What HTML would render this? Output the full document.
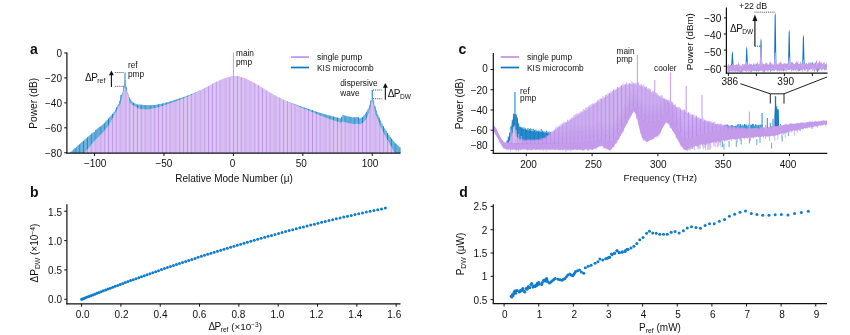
<!DOCTYPE html>
<html><head><meta charset="utf-8"><title>Figure</title>
<style>html,body{margin:0;padding:0;background:#fff;}svg{display:block;will-change:transform;opacity:0.999}text{font-family:"Liberation Sans",sans-serif;fill:#111}</style>
</head><body>
<svg width="850" height="335" viewBox="0 0 850 335">
<rect width="850" height="335" fill="#fff"/>
<g id="pa">
<polygon points="67.5,153 67.5,153.00 68.0,153.00 68.5,153.00 69.0,153.00 69.5,153.00 70.0,152.65 70.5,152.21 71.0,151.77 71.5,151.33 72.0,150.89 72.5,150.45 73.0,150.01 73.5,149.57 74.0,149.13 74.5,148.69 75.0,148.25 75.5,147.81 76.0,147.37 76.5,146.93 77.0,146.49 77.5,146.05 78.0,145.61 78.5,145.17 79.0,144.73 79.5,144.29 80.0,143.85 80.5,143.41 81.0,142.98 81.5,142.54 82.0,142.10 82.5,141.67 83.0,141.23 83.5,140.79 84.0,140.35 84.5,139.92 85.0,139.48 85.5,139.04 86.0,138.61 86.5,138.17 87.0,137.73 87.5,137.29 88.0,136.86 88.5,136.42 89.0,135.98 89.5,135.55 90.0,135.11 90.5,134.67 91.0,134.23 91.5,133.80 92.0,133.36 92.5,132.92 93.0,132.49 93.5,132.05 94.0,132.07 94.5,132.12 95.0,130.36 95.5,129.99 96.0,129.63 96.5,129.27 97.0,128.91 97.5,128.55 98.0,128.18 98.5,127.82 99.0,127.46 99.5,127.10 100.0,126.74 100.5,126.38 101.0,126.01 101.5,125.65 102.0,125.29 102.5,124.90 103.0,124.40 103.5,123.90 104.0,123.40 104.5,122.90 105.0,122.38 105.5,121.81 106.0,121.25 106.5,120.69 107.0,120.13 107.5,119.57 108.0,119.01 108.5,118.45 109.0,117.89 109.5,117.33 110.0,116.76 110.5,116.20 111.0,115.64 111.5,115.08 112.0,114.52 112.5,113.96 113.0,113.40 113.5,112.84 114.0,112.13 114.5,111.22 115.0,110.30 115.5,109.38 116.0,108.47 116.5,107.55 117.0,106.63 117.5,105.72 118.0,104.80 118.5,103.88 119.0,102.97 119.5,101.26 120.0,99.02 120.5,96.79 121.0,94.89 121.5,94.31 122.0,93.74 122.5,92.33 123.0,89.67 123.5,87.00 124.0,84.67 124.5,82.33 125.0,80.00 125.5,82.33 126.0,84.67 126.5,87.00 127.0,90.00 127.5,92.11 128.0,93.64 128.5,95.16 129.0,96.68 129.5,98.03 130.0,98.69 130.5,99.36 131.0,100.02 131.5,100.68 132.0,101.34 132.5,102.00 133.0,102.50 133.5,102.74 134.0,102.99 134.5,103.23 135.0,103.48 135.5,103.72 136.0,103.96 136.5,104.21 137.0,104.45 137.5,104.60 138.0,104.60 138.5,104.60 139.0,104.60 139.5,104.60 140.0,104.60 140.5,104.65 141.0,104.69 141.5,104.74 142.0,104.79 142.5,104.83 143.0,104.88 143.5,104.93 144.0,104.97 144.5,105.02 145.0,105.07 145.5,105.11 146.0,105.16 146.5,105.21 147.0,105.25 147.5,105.30 148.0,105.28 148.5,105.26 149.0,105.24 149.5,105.22 150.0,105.20 150.5,105.18 151.0,105.16 151.5,105.14 152.0,105.12 152.5,105.10 153.0,105.08 153.5,105.06 154.0,105.04 154.5,105.02 155.0,104.98 155.5,104.88 156.0,104.78 156.5,104.68 157.0,104.58 157.5,104.48 158.0,104.38 158.5,104.28 159.0,104.18 159.5,104.08 160.0,103.98 160.5,103.88 161.0,103.78 161.5,103.68 162.0,103.58 162.5,103.47 163.0,103.35 163.5,103.22 164.0,103.09 164.5,102.97 165.0,102.84 165.5,102.71 166.0,102.59 166.5,102.46 167.0,102.33 167.5,102.21 168.0,102.08 168.5,101.95 169.0,101.83 169.5,101.70 170.0,101.57 170.5,101.40 171.0,101.23 171.5,101.07 172.0,100.90 172.5,100.73 173.0,100.57 173.5,100.40 174.0,100.23 174.5,100.07 175.0,99.90 175.5,99.73 176.0,99.57 176.5,99.40 177.0,99.23 177.5,99.07 178.0,98.91 178.5,98.74 179.0,98.58 179.5,98.42 180.0,98.26 180.5,98.09 181.0,97.93 181.5,97.77 182.0,97.61 182.5,97.45 183.0,97.28 183.5,97.12 184.0,96.96 184.5,96.80 185.0,96.62 185.5,96.43 186.0,96.24 186.5,96.04 187.0,95.85 187.5,95.66 188.0,95.46 188.5,95.27 189.0,95.08 189.5,94.88 190.0,94.69 190.5,94.50 191.0,94.30 191.5,94.11 192.0,93.92 192.5,93.72 193.0,93.52 193.5,93.32 194.0,93.12 194.5,92.92 195.0,92.72 195.5,92.52 196.0,92.32 196.5,92.12 197.0,91.91 197.5,91.70 198.0,91.48 198.5,91.26 199.0,91.05 199.5,90.83 200.0,90.61 200.5,90.39 201.0,90.17 201.5,89.95 202.0,89.73 202.5,89.51 203.0,89.29 203.5,89.07 204.0,88.85 204.5,88.63 205.0,88.41 205.5,88.19 206.0,87.97 206.5,87.75 207.0,87.53 207.5,87.31 208.0,87.09 208.5,86.87 209.0,86.65 209.5,86.43 210.0,86.21 210.5,85.99 211.0,85.77 211.5,85.55 212.0,85.33 212.5,85.11 213.0,84.89 213.5,84.67 214.0,84.45 214.5,84.23 215.0,84.00 215.5,83.78 216.0,83.56 216.5,83.34 217.0,83.12 217.5,82.90 218.0,82.68 218.5,82.46 219.0,82.24 219.5,82.02 220.0,81.80 220.5,81.58 221.0,81.36 221.5,81.14 222.0,80.92 222.5,80.70 223.0,80.48 223.5,80.26 224.0,80.04 224.5,79.82 225.0,79.60 225.5,79.38 226.0,79.16 226.5,78.94 227.0,78.72 227.5,78.50 228.0,78.28 228.5,78.06 229.0,77.84 229.5,77.62 230.0,77.40 230.5,77.18 231.0,76.96 231.5,76.74 232.0,76.52 232.5,76.30 233.0,76.08 233.5,75.95 234.0,76.19 234.5,76.43 235.0,76.67 235.5,76.91 236.0,77.15 236.5,77.39 237.0,77.63 237.5,77.87 238.0,78.11 238.5,78.35 239.0,78.59 239.5,78.83 240.0,79.07 240.5,79.31 241.0,79.55 241.5,79.79 242.0,80.03 242.5,80.27 243.0,80.51 243.5,80.75 244.0,80.99 244.5,81.23 245.0,81.47 245.5,81.71 246.0,81.95 246.5,82.20 247.0,82.44 247.5,82.68 248.0,82.92 248.5,83.16 249.0,83.40 249.5,83.64 250.0,83.88 250.5,84.12 251.0,84.36 251.5,84.60 252.0,84.84 252.5,85.08 253.0,85.32 253.5,85.56 254.0,85.80 254.5,86.04 255.0,86.28 255.5,86.52 256.0,86.76 256.5,87.00 257.0,87.24 257.5,87.48 258.0,87.72 258.5,87.96 259.0,88.20 259.5,88.44 260.0,88.68 260.5,88.92 261.0,89.16 261.5,89.40 262.0,89.64 262.5,89.88 263.0,90.12 263.5,90.36 264.0,90.60 264.5,90.84 265.0,91.09 265.5,91.33 266.0,91.57 266.5,91.81 267.0,92.05 267.5,92.29 268.0,92.53 268.5,92.77 269.0,93.01 269.5,93.25 270.0,93.49 270.5,93.73 271.0,93.97 271.5,94.21 272.0,94.45 272.5,94.69 273.0,94.93 273.5,95.17 274.0,95.41 274.5,95.65 275.0,95.89 275.5,96.13 276.0,96.37 276.5,96.61 277.0,96.85 277.5,97.09 278.0,97.33 278.5,97.57 279.0,97.81 279.5,98.05 280.0,98.29 280.5,98.53 281.0,98.77 281.5,99.01 282.0,99.25 282.5,99.49 283.0,99.74 283.5,99.98 284.0,100.22 284.5,100.46 285.0,100.67 285.5,100.83 286.0,101.00 286.5,101.17 287.0,101.33 287.5,101.50 288.0,101.67 288.5,101.83 289.0,102.00 289.5,102.19 290.0,102.37 290.5,102.56 291.0,102.75 291.5,102.93 292.0,103.12 292.5,103.31 293.0,103.50 293.5,103.68 294.0,103.87 294.5,104.06 295.0,104.24 295.5,104.43 296.0,104.62 296.5,104.80 297.0,104.99 297.5,105.18 298.0,105.36 298.5,105.55 299.0,105.74 299.5,105.93 300.0,106.10 300.5,106.27 301.0,106.43 301.5,106.60 302.0,106.77 302.5,106.93 303.0,107.10 303.5,107.27 304.0,107.43 304.5,107.60 305.0,107.77 305.5,107.93 306.0,108.10 306.5,108.27 307.0,108.43 307.5,108.61 308.0,108.78 308.5,108.96 309.0,109.13 309.5,109.31 310.0,109.48 310.5,109.66 311.0,109.84 311.5,110.01 312.0,110.19 312.5,110.36 313.0,110.54 313.5,110.71 314.0,110.89 314.5,111.06 315.0,111.23 315.5,111.39 316.0,111.55 316.5,111.71 317.0,111.87 317.5,112.03 318.0,112.19 318.5,112.35 319.0,112.51 319.5,112.67 320.0,112.83 320.5,112.99 321.0,113.15 321.5,113.31 322.0,113.47 322.5,113.61 323.0,113.75 323.5,113.89 324.0,114.03 324.5,114.17 325.0,114.31 325.5,114.45 326.0,114.59 326.5,114.73 327.0,114.87 327.5,115.01 328.0,115.15 328.5,115.29 329.0,115.43 329.5,115.57 330.0,115.70 330.5,115.83 331.0,115.96 331.5,116.09 332.0,116.22 332.5,116.34 333.0,116.47 333.5,116.60 334.0,116.73 334.5,116.86 335.0,116.98 335.5,117.11 336.0,117.24 336.5,117.37 337.0,117.50 337.5,117.63 338.0,117.75 338.5,117.88 339.0,118.01 339.5,118.14 340.0,118.27 340.5,118.39 341.0,118.52 341.5,117.73 342.0,115.57 342.5,114.80 343.0,114.97 343.5,115.13 344.0,115.30 344.5,115.47 345.0,115.63 345.5,115.80 346.0,115.97 346.5,116.13 347.0,116.30 347.5,116.38 348.0,116.47 348.5,116.55 349.0,116.63 349.5,116.72 350.0,116.80 350.5,116.88 351.0,116.97 351.5,117.05 352.0,117.13 352.5,117.22 353.0,117.30 353.5,117.38 354.0,117.36 354.5,117.32 355.0,117.27 355.5,117.23 356.0,117.18 356.5,117.14 357.0,117.09 357.5,117.05 358.0,117.00 358.5,117.40 359.0,117.80 359.5,118.20 360.0,118.60 360.5,118.30 361.0,118.01 361.5,117.71 362.0,117.41 362.5,117.12 363.0,116.62 363.5,116.00 364.0,115.38 364.5,114.75 365.0,114.12 365.5,113.50 366.0,112.88 366.5,112.09 367.0,111.07 367.5,110.06 368.0,109.04 368.5,108.02 369.0,107.00 369.5,105.19 370.0,103.39 370.5,101.58 371.0,100.23 371.5,99.57 372.0,98.90 372.5,98.73 373.0,99.31 373.5,99.88 374.0,102.18 374.5,104.90 375.0,106.34 375.5,107.78 376.0,109.22 376.5,110.66 377.0,112.11 377.5,113.55 378.0,114.92 378.5,116.02 379.0,117.12 379.5,118.22 380.0,119.32 380.5,120.42 381.0,121.52 381.5,122.62 382.0,123.72 382.5,124.76 383.0,125.59 383.5,126.41 384.0,127.24 384.5,128.06 385.0,128.89 385.5,129.71 386.0,130.53 386.5,131.36 387.0,132.18 387.5,133.01 388.0,133.77 388.5,134.44 389.0,135.12 389.5,135.79 390.0,136.47 390.5,137.14 391.0,137.82 391.5,138.49 392.0,139.17 392.5,139.84 393.0,140.52 393.5,141.19 394.0,141.87 394.5,142.36 395.0,142.82 395.5,143.27 396.0,143.73 396.5,144.18 397.0,144.64 397.5,145.09 398.0,145.55 398.5,146.00 399.0,146.45 399.5,146.91 400.0,147.36 400.2,153" fill="#9fcfee" opacity="1"/>
<line x1="70.95" y1="153.00" x2="70.95" y2="151.82" stroke="#0a6fb6" stroke-width="0.85" />
<line x1="72.33" y1="153.00" x2="72.33" y2="150.59" stroke="#2386c8" stroke-width="0.62" />
<line x1="73.72" y1="153.00" x2="73.72" y2="149.37" stroke="#2386c8" stroke-width="0.62" />
<line x1="75.11" y1="153.00" x2="75.11" y2="148.15" stroke="#0a6fb6" stroke-width="0.85" />
<line x1="76.50" y1="153.00" x2="76.50" y2="146.93" stroke="#2386c8" stroke-width="0.62" />
<line x1="77.89" y1="153.00" x2="77.89" y2="145.71" stroke="#2386c8" stroke-width="0.62" />
<line x1="79.28" y1="153.00" x2="79.28" y2="144.48" stroke="#0a6fb6" stroke-width="0.85" />
<line x1="80.66" y1="153.00" x2="80.66" y2="143.27" stroke="#2386c8" stroke-width="0.62" />
<line x1="82.05" y1="153.00" x2="82.05" y2="142.06" stroke="#2386c8" stroke-width="0.62" />
<line x1="83.44" y1="153.00" x2="83.44" y2="140.84" stroke="#0a6fb6" stroke-width="0.85" />
<line x1="84.83" y1="153.00" x2="84.83" y2="139.63" stroke="#2386c8" stroke-width="0.62" />
<line x1="86.22" y1="153.00" x2="86.22" y2="138.41" stroke="#2386c8" stroke-width="0.62" />
<line x1="87.61" y1="153.00" x2="87.61" y2="137.20" stroke="#0a6fb6" stroke-width="0.85" />
<line x1="89.00" y1="153.00" x2="89.00" y2="135.99" stroke="#2386c8" stroke-width="0.62" />
<line x1="90.38" y1="153.00" x2="90.38" y2="134.77" stroke="#2386c8" stroke-width="0.62" />
<line x1="91.77" y1="153.00" x2="91.77" y2="133.56" stroke="#0a6fb6" stroke-width="0.85" />
<line x1="93.16" y1="153.00" x2="93.16" y2="132.35" stroke="#2386c8" stroke-width="0.62" />
<line x1="94.55" y1="153.00" x2="94.55" y2="131.85" stroke="#2386c8" stroke-width="0.62" />
<line x1="95.94" y1="153.00" x2="95.94" y2="129.68" stroke="#0a6fb6" stroke-width="0.85" />
<line x1="97.33" y1="153.00" x2="97.33" y2="128.67" stroke="#2386c8" stroke-width="0.62" />
<line x1="98.72" y1="153.00" x2="98.72" y2="127.67" stroke="#2386c8" stroke-width="0.62" />
<line x1="100.10" y1="153.00" x2="100.10" y2="126.66" stroke="#0a6fb6" stroke-width="0.85" />
<line x1="101.49" y1="153.00" x2="101.49" y2="125.66" stroke="#2386c8" stroke-width="0.62" />
<line x1="102.88" y1="153.00" x2="102.88" y2="124.52" stroke="#2386c8" stroke-width="0.62" />
<line x1="104.27" y1="153.00" x2="104.27" y2="123.13" stroke="#0a6fb6" stroke-width="0.85" />
<line x1="105.66" y1="153.00" x2="105.66" y2="121.64" stroke="#2386c8" stroke-width="0.62" />
<line x1="107.05" y1="153.00" x2="107.05" y2="120.08" stroke="#2386c8" stroke-width="0.62" />
<line x1="108.44" y1="153.00" x2="108.44" y2="118.52" stroke="#0a6fb6" stroke-width="0.85" />
<line x1="109.82" y1="153.00" x2="109.82" y2="116.96" stroke="#2386c8" stroke-width="0.62" />
<line x1="111.21" y1="153.00" x2="111.21" y2="115.40" stroke="#2386c8" stroke-width="0.62" />
<line x1="112.60" y1="153.00" x2="112.60" y2="113.85" stroke="#0a6fb6" stroke-width="0.85" />
<line x1="113.99" y1="153.00" x2="113.99" y2="112.15" stroke="#2386c8" stroke-width="0.62" />
<line x1="115.38" y1="153.00" x2="115.38" y2="109.61" stroke="#2386c8" stroke-width="0.62" />
<line x1="116.77" y1="153.00" x2="116.77" y2="107.06" stroke="#0a6fb6" stroke-width="0.85" />
<line x1="118.15" y1="153.00" x2="118.15" y2="104.52" stroke="#2386c8" stroke-width="0.62" />
<line x1="119.54" y1="153.00" x2="119.54" y2="101.07" stroke="#2386c8" stroke-width="0.62" />
<line x1="120.93" y1="153.00" x2="120.93" y2="94.96" stroke="#0a6fb6" stroke-width="0.85" />
<line x1="122.32" y1="153.00" x2="122.32" y2="93.29" stroke="#2386c8" stroke-width="0.62" />
<line x1="123.71" y1="153.00" x2="123.71" y2="86.03" stroke="#2386c8" stroke-width="0.62" />
<line x1="125.10" y1="153.00" x2="125.10" y2="80.45" stroke="#0a6fb6" stroke-width="0.85" />
<line x1="126.49" y1="153.00" x2="126.49" y2="86.93" stroke="#2386c8" stroke-width="0.62" />
<line x1="127.87" y1="153.00" x2="127.87" y2="93.25" stroke="#2386c8" stroke-width="0.62" />
<line x1="129.26" y1="153.00" x2="129.26" y2="97.48" stroke="#0a6fb6" stroke-width="0.85" />
<line x1="130.65" y1="153.00" x2="130.65" y2="99.56" stroke="#2386c8" stroke-width="0.62" />
<line x1="132.04" y1="153.00" x2="132.04" y2="101.39" stroke="#2386c8" stroke-width="0.62" />
<line x1="133.43" y1="153.00" x2="133.43" y2="102.71" stroke="#0a6fb6" stroke-width="0.85" />
<line x1="134.82" y1="153.00" x2="134.82" y2="103.39" stroke="#2386c8" stroke-width="0.62" />
<line x1="136.20" y1="153.00" x2="136.20" y2="104.06" stroke="#2386c8" stroke-width="0.62" />
<line x1="137.59" y1="153.00" x2="137.59" y2="104.60" stroke="#0a6fb6" stroke-width="0.85" />
<line x1="138.98" y1="153.00" x2="138.98" y2="104.60" stroke="#2386c8" stroke-width="0.62" />
<line x1="140.37" y1="153.00" x2="140.37" y2="104.63" stroke="#2386c8" stroke-width="0.62" />
<line x1="141.76" y1="153.00" x2="141.76" y2="104.76" stroke="#0a6fb6" stroke-width="0.85" />
<line x1="143.15" y1="153.00" x2="143.15" y2="104.89" stroke="#2386c8" stroke-width="0.62" />
<line x1="144.54" y1="153.00" x2="144.54" y2="105.02" stroke="#2386c8" stroke-width="0.62" />
<line x1="145.92" y1="153.00" x2="145.92" y2="105.15" stroke="#0a6fb6" stroke-width="0.85" />
<line x1="147.31" y1="153.00" x2="147.31" y2="105.28" stroke="#2386c8" stroke-width="0.62" />
<line x1="148.70" y1="153.00" x2="148.70" y2="105.25" stroke="#2386c8" stroke-width="0.62" />
<line x1="150.09" y1="153.00" x2="150.09" y2="105.19" stroke="#0a6fb6" stroke-width="0.85" />
<line x1="151.48" y1="153.00" x2="151.48" y2="105.14" stroke="#2386c8" stroke-width="0.62" />
<line x1="152.87" y1="153.00" x2="152.87" y2="105.08" stroke="#2386c8" stroke-width="0.62" />
<line x1="154.26" y1="153.00" x2="154.26" y2="105.03" stroke="#0a6fb6" stroke-width="0.85" />
<line x1="155.64" y1="153.00" x2="155.64" y2="104.85" stroke="#2386c8" stroke-width="0.62" />
<line x1="157.03" y1="153.00" x2="157.03" y2="104.57" stroke="#2386c8" stroke-width="0.62" />
<line x1="158.42" y1="153.00" x2="158.42" y2="104.30" stroke="#0a6fb6" stroke-width="0.85" />
<line x1="159.81" y1="153.00" x2="159.81" y2="104.02" stroke="#2386c8" stroke-width="0.62" />
<line x1="161.20" y1="153.00" x2="161.20" y2="103.74" stroke="#2386c8" stroke-width="0.62" />
<line x1="162.59" y1="153.00" x2="162.59" y2="103.45" stroke="#0a6fb6" stroke-width="0.85" />
<line x1="163.98" y1="153.00" x2="163.98" y2="103.10" stroke="#2386c8" stroke-width="0.62" />
<line x1="165.36" y1="153.00" x2="165.36" y2="102.75" stroke="#2386c8" stroke-width="0.62" />
<line x1="166.75" y1="153.00" x2="166.75" y2="102.40" stroke="#0a6fb6" stroke-width="0.85" />
<line x1="168.14" y1="153.00" x2="168.14" y2="102.05" stroke="#2386c8" stroke-width="0.62" />
<line x1="169.53" y1="153.00" x2="169.53" y2="101.69" stroke="#2386c8" stroke-width="0.62" />
<line x1="170.92" y1="153.00" x2="170.92" y2="101.26" stroke="#0a6fb6" stroke-width="0.85" />
<line x1="172.31" y1="153.00" x2="172.31" y2="100.80" stroke="#2386c8" stroke-width="0.62" />
<line x1="173.69" y1="153.00" x2="173.69" y2="100.34" stroke="#2386c8" stroke-width="0.62" />
<line x1="175.08" y1="153.00" x2="175.08" y2="99.87" stroke="#0a6fb6" stroke-width="0.85" />
<line x1="176.47" y1="153.00" x2="176.47" y2="99.41" stroke="#2386c8" stroke-width="0.62" />
<line x1="177.86" y1="153.00" x2="177.86" y2="98.95" stroke="#2386c8" stroke-width="0.62" />
<line x1="179.25" y1="153.00" x2="179.25" y2="98.50" stroke="#0a6fb6" stroke-width="0.85" />
<line x1="180.64" y1="153.00" x2="180.64" y2="98.05" stroke="#2386c8" stroke-width="0.62" />
<line x1="182.03" y1="153.00" x2="182.03" y2="97.60" stroke="#2386c8" stroke-width="0.62" />
<line x1="183.41" y1="153.00" x2="183.41" y2="97.15" stroke="#0a6fb6" stroke-width="0.85" />
<line x1="184.80" y1="153.00" x2="184.80" y2="96.70" stroke="#2386c8" stroke-width="0.62" />
<line x1="186.19" y1="153.00" x2="186.19" y2="96.16" stroke="#2386c8" stroke-width="0.62" />
<line x1="187.58" y1="153.00" x2="187.58" y2="95.63" stroke="#0a6fb6" stroke-width="0.85" />
<line x1="188.97" y1="153.00" x2="188.97" y2="95.09" stroke="#2386c8" stroke-width="0.62" />
<line x1="190.36" y1="153.00" x2="190.36" y2="94.55" stroke="#2386c8" stroke-width="0.62" />
<line x1="191.75" y1="153.00" x2="191.75" y2="94.01" stroke="#0a6fb6" stroke-width="0.85" />
<line x1="193.13" y1="153.00" x2="193.13" y2="93.47" stroke="#2386c8" stroke-width="0.62" />
<line x1="194.52" y1="153.00" x2="194.52" y2="92.91" stroke="#2386c8" stroke-width="0.62" />
<line x1="195.91" y1="153.00" x2="195.91" y2="92.36" stroke="#0a6fb6" stroke-width="0.85" />
<line x1="197.30" y1="153.00" x2="197.30" y2="91.78" stroke="#2386c8" stroke-width="0.62" />
<line x1="198.69" y1="153.00" x2="198.69" y2="91.18" stroke="#2386c8" stroke-width="0.62" />
<line x1="200.08" y1="153.00" x2="200.08" y2="90.58" stroke="#0a6fb6" stroke-width="0.85" />
<line x1="201.46" y1="153.00" x2="201.46" y2="89.97" stroke="#2386c8" stroke-width="0.62" />
<line x1="202.85" y1="153.00" x2="202.85" y2="89.36" stroke="#2386c8" stroke-width="0.62" />
<line x1="204.24" y1="153.00" x2="204.24" y2="88.74" stroke="#0a6fb6" stroke-width="0.85" />
<line x1="205.63" y1="153.00" x2="205.63" y2="88.13" stroke="#2386c8" stroke-width="0.62" />
<line x1="207.02" y1="153.00" x2="207.02" y2="87.52" stroke="#2386c8" stroke-width="0.62" />
<line x1="208.41" y1="153.00" x2="208.41" y2="86.91" stroke="#0a6fb6" stroke-width="0.85" />
<line x1="209.80" y1="153.00" x2="209.80" y2="86.30" stroke="#2386c8" stroke-width="0.62" />
<line x1="211.18" y1="153.00" x2="211.18" y2="85.69" stroke="#2386c8" stroke-width="0.62" />
<line x1="212.57" y1="153.00" x2="212.57" y2="85.07" stroke="#0a6fb6" stroke-width="0.85" />
<line x1="213.96" y1="153.00" x2="213.96" y2="84.46" stroke="#2386c8" stroke-width="0.62" />
<line x1="215.35" y1="153.00" x2="215.35" y2="83.85" stroke="#2386c8" stroke-width="0.62" />
<line x1="216.74" y1="153.00" x2="216.74" y2="83.24" stroke="#0a6fb6" stroke-width="0.85" />
<line x1="218.13" y1="153.00" x2="218.13" y2="82.63" stroke="#2386c8" stroke-width="0.62" />
<line x1="219.52" y1="153.00" x2="219.52" y2="82.02" stroke="#2386c8" stroke-width="0.62" />
<line x1="220.90" y1="153.00" x2="220.90" y2="81.40" stroke="#0a6fb6" stroke-width="0.85" />
<line x1="222.29" y1="153.00" x2="222.29" y2="80.79" stroke="#2386c8" stroke-width="0.62" />
<line x1="223.68" y1="153.00" x2="223.68" y2="80.18" stroke="#2386c8" stroke-width="0.62" />
<line x1="225.07" y1="153.00" x2="225.07" y2="79.57" stroke="#0a6fb6" stroke-width="0.85" />
<line x1="226.46" y1="153.00" x2="226.46" y2="78.96" stroke="#2386c8" stroke-width="0.62" />
<line x1="227.85" y1="153.00" x2="227.85" y2="78.35" stroke="#2386c8" stroke-width="0.62" />
<line x1="229.23" y1="153.00" x2="229.23" y2="77.73" stroke="#0a6fb6" stroke-width="0.85" />
<line x1="230.62" y1="153.00" x2="230.62" y2="77.12" stroke="#2386c8" stroke-width="0.62" />
<line x1="232.01" y1="153.00" x2="232.01" y2="76.51" stroke="#2386c8" stroke-width="0.62" />
<line x1="233.40" y1="153.00" x2="233.40" y2="75.90" stroke="#0a6fb6" stroke-width="0.85" />
<line x1="234.79" y1="153.00" x2="234.79" y2="76.57" stroke="#2386c8" stroke-width="0.62" />
<line x1="236.18" y1="153.00" x2="236.18" y2="77.23" stroke="#2386c8" stroke-width="0.62" />
<line x1="237.57" y1="153.00" x2="237.57" y2="77.90" stroke="#0a6fb6" stroke-width="0.85" />
<line x1="238.95" y1="153.00" x2="238.95" y2="78.57" stroke="#2386c8" stroke-width="0.62" />
<line x1="240.34" y1="153.00" x2="240.34" y2="79.24" stroke="#2386c8" stroke-width="0.62" />
<line x1="241.73" y1="153.00" x2="241.73" y2="79.90" stroke="#0a6fb6" stroke-width="0.85" />
<line x1="243.12" y1="153.00" x2="243.12" y2="80.57" stroke="#2386c8" stroke-width="0.62" />
<line x1="244.51" y1="153.00" x2="244.51" y2="81.24" stroke="#2386c8" stroke-width="0.62" />
<line x1="245.90" y1="153.00" x2="245.90" y2="81.91" stroke="#0a6fb6" stroke-width="0.85" />
<line x1="247.28" y1="153.00" x2="247.28" y2="82.57" stroke="#2386c8" stroke-width="0.62" />
<line x1="248.67" y1="153.00" x2="248.67" y2="83.24" stroke="#2386c8" stroke-width="0.62" />
<line x1="250.06" y1="153.00" x2="250.06" y2="83.91" stroke="#0a6fb6" stroke-width="0.85" />
<line x1="251.45" y1="153.00" x2="251.45" y2="84.57" stroke="#2386c8" stroke-width="0.62" />
<line x1="252.84" y1="153.00" x2="252.84" y2="85.24" stroke="#2386c8" stroke-width="0.62" />
<line x1="254.23" y1="153.00" x2="254.23" y2="85.91" stroke="#0a6fb6" stroke-width="0.85" />
<line x1="255.62" y1="153.00" x2="255.62" y2="86.58" stroke="#2386c8" stroke-width="0.62" />
<line x1="257.00" y1="153.00" x2="257.00" y2="87.24" stroke="#2386c8" stroke-width="0.62" />
<line x1="258.39" y1="153.00" x2="258.39" y2="87.91" stroke="#0a6fb6" stroke-width="0.85" />
<line x1="259.78" y1="153.00" x2="259.78" y2="88.58" stroke="#2386c8" stroke-width="0.62" />
<line x1="261.17" y1="153.00" x2="261.17" y2="89.24" stroke="#2386c8" stroke-width="0.62" />
<line x1="262.56" y1="153.00" x2="262.56" y2="89.91" stroke="#0a6fb6" stroke-width="0.85" />
<line x1="263.95" y1="153.00" x2="263.95" y2="90.58" stroke="#2386c8" stroke-width="0.62" />
<line x1="265.34" y1="153.00" x2="265.34" y2="91.25" stroke="#2386c8" stroke-width="0.62" />
<line x1="266.72" y1="153.00" x2="266.72" y2="91.91" stroke="#0a6fb6" stroke-width="0.85" />
<line x1="268.11" y1="153.00" x2="268.11" y2="92.58" stroke="#2386c8" stroke-width="0.62" />
<line x1="269.50" y1="153.00" x2="269.50" y2="93.25" stroke="#2386c8" stroke-width="0.62" />
<line x1="270.89" y1="153.00" x2="270.89" y2="93.92" stroke="#0a6fb6" stroke-width="0.85" />
<line x1="272.28" y1="153.00" x2="272.28" y2="94.58" stroke="#2386c8" stroke-width="0.62" />
<line x1="273.67" y1="153.00" x2="273.67" y2="95.25" stroke="#2386c8" stroke-width="0.62" />
<line x1="275.06" y1="153.00" x2="275.06" y2="95.92" stroke="#0a6fb6" stroke-width="0.85" />
<line x1="276.44" y1="153.00" x2="276.44" y2="96.58" stroke="#2386c8" stroke-width="0.62" />
<line x1="277.83" y1="153.00" x2="277.83" y2="97.25" stroke="#2386c8" stroke-width="0.62" />
<line x1="279.22" y1="153.00" x2="279.22" y2="97.92" stroke="#0a6fb6" stroke-width="0.85" />
<line x1="280.61" y1="153.00" x2="280.61" y2="98.59" stroke="#2386c8" stroke-width="0.62" />
<line x1="282.00" y1="153.00" x2="282.00" y2="99.25" stroke="#2386c8" stroke-width="0.62" />
<line x1="283.39" y1="153.00" x2="283.39" y2="99.92" stroke="#0a6fb6" stroke-width="0.85" />
<line x1="284.77" y1="153.00" x2="284.77" y2="100.59" stroke="#2386c8" stroke-width="0.62" />
<line x1="286.16" y1="153.00" x2="286.16" y2="101.05" stroke="#2386c8" stroke-width="0.62" />
<line x1="287.55" y1="153.00" x2="287.55" y2="101.52" stroke="#0a6fb6" stroke-width="0.85" />
<line x1="288.94" y1="153.00" x2="288.94" y2="101.98" stroke="#2386c8" stroke-width="0.62" />
<line x1="290.33" y1="153.00" x2="290.33" y2="102.50" stroke="#2386c8" stroke-width="0.62" />
<line x1="291.72" y1="153.00" x2="291.72" y2="103.02" stroke="#0a6fb6" stroke-width="0.85" />
<line x1="293.11" y1="153.00" x2="293.11" y2="103.53" stroke="#2386c8" stroke-width="0.62" />
<line x1="294.49" y1="153.00" x2="294.49" y2="104.05" stroke="#2386c8" stroke-width="0.62" />
<line x1="295.88" y1="153.00" x2="295.88" y2="104.57" stroke="#0a6fb6" stroke-width="0.85" />
<line x1="297.27" y1="153.00" x2="297.27" y2="105.09" stroke="#2386c8" stroke-width="0.62" />
<line x1="298.66" y1="153.00" x2="298.66" y2="105.61" stroke="#2386c8" stroke-width="0.62" />
<line x1="300.05" y1="153.00" x2="300.05" y2="106.12" stroke="#0a6fb6" stroke-width="0.85" />
<line x1="301.44" y1="153.00" x2="301.44" y2="106.58" stroke="#2386c8" stroke-width="0.62" />
<line x1="302.82" y1="153.00" x2="302.82" y2="107.04" stroke="#2386c8" stroke-width="0.62" />
<line x1="304.21" y1="153.00" x2="304.21" y2="107.50" stroke="#0a6fb6" stroke-width="0.85" />
<line x1="305.60" y1="153.00" x2="305.60" y2="107.97" stroke="#2386c8" stroke-width="0.62" />
<line x1="306.99" y1="153.00" x2="306.99" y2="108.43" stroke="#2386c8" stroke-width="0.62" />
<line x1="308.38" y1="153.00" x2="308.38" y2="108.91" stroke="#0a6fb6" stroke-width="0.85" />
<line x1="309.77" y1="153.00" x2="309.77" y2="109.40" stroke="#2386c8" stroke-width="0.62" />
<line x1="311.16" y1="153.00" x2="311.16" y2="109.89" stroke="#2386c8" stroke-width="0.62" />
<line x1="312.54" y1="153.00" x2="312.54" y2="110.38" stroke="#0a6fb6" stroke-width="0.85" />
<line x1="313.93" y1="153.00" x2="313.93" y2="110.87" stroke="#2386c8" stroke-width="0.62" />
<line x1="315.32" y1="153.00" x2="315.32" y2="111.33" stroke="#2386c8" stroke-width="0.62" />
<line x1="316.71" y1="153.00" x2="316.71" y2="111.78" stroke="#0a6fb6" stroke-width="0.85" />
<line x1="318.10" y1="153.00" x2="318.10" y2="112.22" stroke="#2386c8" stroke-width="0.62" />
<line x1="319.49" y1="153.00" x2="319.49" y2="112.66" stroke="#2386c8" stroke-width="0.62" />
<line x1="320.88" y1="153.00" x2="320.88" y2="113.11" stroke="#0a6fb6" stroke-width="0.85" />
<line x1="322.26" y1="153.00" x2="322.26" y2="113.55" stroke="#2386c8" stroke-width="0.62" />
<line x1="323.65" y1="153.00" x2="323.65" y2="113.93" stroke="#2386c8" stroke-width="0.62" />
<line x1="325.04" y1="153.00" x2="325.04" y2="114.32" stroke="#0a6fb6" stroke-width="0.85" />
<line x1="326.43" y1="153.00" x2="326.43" y2="114.71" stroke="#2386c8" stroke-width="0.62" />
<line x1="327.82" y1="153.00" x2="327.82" y2="115.10" stroke="#2386c8" stroke-width="0.62" />
<line x1="329.21" y1="153.00" x2="329.21" y2="115.49" stroke="#0a6fb6" stroke-width="0.85" />
<line x1="330.60" y1="153.00" x2="330.60" y2="115.86" stroke="#2386c8" stroke-width="0.62" />
<line x1="331.98" y1="153.00" x2="331.98" y2="116.21" stroke="#2386c8" stroke-width="0.62" />
<line x1="333.37" y1="153.00" x2="333.37" y2="116.57" stroke="#0a6fb6" stroke-width="0.85" />
<line x1="334.76" y1="153.00" x2="334.76" y2="116.92" stroke="#2386c8" stroke-width="0.62" />
<line x1="336.15" y1="153.00" x2="336.15" y2="117.28" stroke="#2386c8" stroke-width="0.62" />
<line x1="337.54" y1="153.00" x2="337.54" y2="117.64" stroke="#0a6fb6" stroke-width="0.85" />
<line x1="338.93" y1="153.00" x2="338.93" y2="117.99" stroke="#2386c8" stroke-width="0.62" />
<line x1="340.31" y1="153.00" x2="340.31" y2="118.35" stroke="#2386c8" stroke-width="0.62" />
<line x1="341.70" y1="153.00" x2="341.70" y2="116.85" stroke="#0a6fb6" stroke-width="0.85" />
<line x1="343.09" y1="153.00" x2="343.09" y2="115.00" stroke="#2386c8" stroke-width="0.62" />
<line x1="344.48" y1="153.00" x2="344.48" y2="115.46" stroke="#2386c8" stroke-width="0.62" />
<line x1="345.87" y1="153.00" x2="345.87" y2="115.92" stroke="#0a6fb6" stroke-width="0.85" />
<line x1="347.26" y1="153.00" x2="347.26" y2="116.34" stroke="#2386c8" stroke-width="0.62" />
<line x1="348.65" y1="153.00" x2="348.65" y2="116.57" stroke="#2386c8" stroke-width="0.62" />
<line x1="350.03" y1="153.00" x2="350.03" y2="116.81" stroke="#0a6fb6" stroke-width="0.85" />
<line x1="351.42" y1="153.00" x2="351.42" y2="117.04" stroke="#2386c8" stroke-width="0.62" />
<line x1="352.81" y1="153.00" x2="352.81" y2="117.27" stroke="#2386c8" stroke-width="0.62" />
<line x1="354.20" y1="153.00" x2="354.20" y2="117.35" stroke="#0a6fb6" stroke-width="0.85" />
<line x1="355.59" y1="153.00" x2="355.59" y2="117.22" stroke="#2386c8" stroke-width="0.62" />
<line x1="356.98" y1="153.00" x2="356.98" y2="117.09" stroke="#2386c8" stroke-width="0.62" />
<line x1="358.37" y1="153.00" x2="358.37" y2="117.29" stroke="#0a6fb6" stroke-width="0.85" />
<line x1="359.75" y1="153.00" x2="359.75" y2="118.40" stroke="#2386c8" stroke-width="0.62" />
<line x1="361.14" y1="153.00" x2="361.14" y2="117.92" stroke="#2386c8" stroke-width="0.62" />
<line x1="362.53" y1="153.00" x2="362.53" y2="117.10" stroke="#0a6fb6" stroke-width="0.85" />
<line x1="363.92" y1="153.00" x2="363.92" y2="115.48" stroke="#2386c8" stroke-width="0.62" />
<line x1="365.31" y1="153.00" x2="365.31" y2="113.74" stroke="#2386c8" stroke-width="0.62" />
<line x1="366.70" y1="153.00" x2="366.70" y2="111.69" stroke="#0a6fb6" stroke-width="0.85" />
<line x1="368.08" y1="153.00" x2="368.08" y2="108.86" stroke="#2386c8" stroke-width="0.62" />
<line x1="369.47" y1="153.00" x2="369.47" y2="105.29" stroke="#2386c8" stroke-width="0.62" />
<line x1="370.86" y1="153.00" x2="370.86" y2="100.42" stroke="#0a6fb6" stroke-width="0.85" />
<line x1="372.25" y1="153.00" x2="372.25" y2="98.57" stroke="#2386c8" stroke-width="0.62" />
<line x1="373.64" y1="153.00" x2="373.64" y2="100.21" stroke="#2386c8" stroke-width="0.62" />
<line x1="375.03" y1="153.00" x2="375.03" y2="106.42" stroke="#0a6fb6" stroke-width="0.85" />
<line x1="376.42" y1="153.00" x2="376.42" y2="110.42" stroke="#2386c8" stroke-width="0.62" />
<line x1="377.80" y1="153.00" x2="377.80" y2="114.42" stroke="#2386c8" stroke-width="0.62" />
<line x1="379.19" y1="153.00" x2="379.19" y2="117.54" stroke="#0a6fb6" stroke-width="0.85" />
<line x1="380.58" y1="153.00" x2="380.58" y2="120.60" stroke="#2386c8" stroke-width="0.62" />
<line x1="381.97" y1="153.00" x2="381.97" y2="123.65" stroke="#2386c8" stroke-width="0.62" />
<line x1="383.36" y1="153.00" x2="383.36" y2="126.18" stroke="#0a6fb6" stroke-width="0.85" />
<line x1="384.75" y1="153.00" x2="384.75" y2="128.47" stroke="#2386c8" stroke-width="0.62" />
<line x1="386.13" y1="153.00" x2="386.13" y2="130.76" stroke="#2386c8" stroke-width="0.62" />
<line x1="387.52" y1="153.00" x2="387.52" y2="133.04" stroke="#0a6fb6" stroke-width="0.85" />
<line x1="388.91" y1="153.00" x2="388.91" y2="135.00" stroke="#2386c8" stroke-width="0.62" />
<line x1="390.30" y1="153.00" x2="390.30" y2="136.87" stroke="#2386c8" stroke-width="0.62" />
<line x1="391.69" y1="153.00" x2="391.69" y2="138.75" stroke="#0a6fb6" stroke-width="0.85" />
<line x1="393.08" y1="153.00" x2="393.08" y2="140.62" stroke="#2386c8" stroke-width="0.62" />
<line x1="394.47" y1="153.00" x2="394.47" y2="142.33" stroke="#2386c8" stroke-width="0.62" />
<line x1="395.85" y1="153.00" x2="395.85" y2="143.60" stroke="#0a6fb6" stroke-width="0.85" />
<line x1="397.24" y1="153.00" x2="397.24" y2="144.86" stroke="#2386c8" stroke-width="0.62" />
<line x1="398.63" y1="153.00" x2="398.63" y2="146.12" stroke="#2386c8" stroke-width="0.62" />
<line x1="400.02" y1="153.00" x2="400.02" y2="147.38" stroke="#0a6fb6" stroke-width="0.85" />
<polygon points="67.5,153 67.5,153.00 68.0,153.00 68.5,153.00 69.0,153.00 69.5,153.00 70.0,153.00 70.5,153.00 71.0,153.00 71.5,153.00 72.0,153.00 72.5,153.00 73.0,153.00 73.5,153.00 74.0,153.00 74.5,153.00 75.0,153.00 75.5,153.00 76.0,153.00 76.5,153.00 77.0,153.00 77.5,153.00 78.0,153.00 78.5,153.00 79.0,153.00 79.5,153.00 80.0,153.00 80.5,153.00 81.0,153.00 81.5,153.00 82.0,153.00 82.5,153.00 83.0,153.00 83.5,153.00 84.0,153.00 84.5,153.00 85.0,152.52 85.5,151.91 86.0,151.31 86.5,150.71 87.0,150.11 87.5,149.50 88.0,148.90 88.5,148.30 89.0,147.69 89.5,147.09 90.0,146.49 90.5,145.89 91.0,145.28 91.5,144.68 92.0,144.08 92.5,143.47 93.0,142.87 93.5,142.27 94.0,141.66 94.5,141.06 95.0,140.50 95.5,140.00 96.0,139.50 96.5,139.00 97.0,138.50 97.5,138.00 98.0,137.50 98.5,137.00 99.0,136.50 99.5,136.00 100.0,135.50 100.5,135.00 101.0,134.50 101.5,134.00 102.0,133.50 102.5,133.00 103.0,132.50 103.5,132.00 104.0,131.45 104.5,130.82 105.0,130.18 105.5,129.55 106.0,128.92 106.5,128.29 107.0,127.65 107.5,127.02 108.0,126.39 108.5,125.76 109.0,125.13 109.5,124.25 110.0,123.31 110.5,122.38 111.0,121.44 111.5,120.51 112.0,119.57 112.5,118.63 113.0,117.70 113.5,116.76 114.0,115.82 114.5,114.87 115.0,113.92 115.5,112.97 116.0,112.02 116.5,111.08 117.0,110.13 117.5,109.18 118.0,108.23 118.5,107.28 119.0,106.36 119.5,105.47 120.0,104.57 120.5,103.67 121.0,102.78 121.5,100.57 122.0,98.04 122.5,95.51 123.0,93.65 123.5,91.83 124.0,89.45 124.5,87.83 125.0,86.70 125.5,87.83 126.0,89.59 126.5,92.30 127.0,93.26 127.5,94.23 128.0,95.42 128.5,97.53 129.0,99.64 129.5,101.76 130.0,102.90 130.5,103.40 131.0,103.90 131.5,104.40 132.0,104.78 132.5,105.09 133.0,105.40 133.5,105.70 134.0,106.01 134.5,106.32 135.0,106.62 135.5,106.93 136.0,107.24 136.5,107.48 137.0,107.72 137.5,107.95 138.0,108.18 138.5,108.41 139.0,108.64 139.5,108.87 140.0,109.10 140.5,109.13 141.0,109.15 141.5,109.18 142.0,109.21 142.5,109.23 143.0,109.26 143.5,109.29 144.0,109.31 144.5,109.34 145.0,109.37 145.5,109.39 146.0,109.42 146.5,109.45 147.0,109.47 147.5,109.50 148.0,109.42 148.5,109.34 149.0,109.26 149.5,109.18 150.0,109.09 150.5,109.01 151.0,108.93 151.5,108.85 152.0,108.77 152.5,108.69 153.0,108.61 153.5,108.53 154.0,108.45 154.5,108.36 155.0,108.27 155.5,108.12 156.0,107.98 156.5,107.83 157.0,107.68 157.5,107.54 158.0,107.39 158.5,107.24 159.0,107.10 159.5,106.95 160.0,106.80 160.5,106.66 161.0,106.51 161.5,106.36 162.0,106.22 162.5,106.07 163.0,105.89 163.5,105.72 164.0,105.55 164.5,105.37 165.0,105.20 165.5,105.03 166.0,104.85 166.5,104.68 167.0,104.51 167.5,104.33 168.0,104.16 168.5,103.99 169.0,103.81 169.5,103.64 170.0,103.47 170.5,103.29 171.0,103.12 171.5,102.95 172.0,102.77 172.5,102.60 173.0,102.43 173.5,102.25 174.0,102.08 174.5,101.91 175.0,101.73 175.5,101.56 176.0,101.39 176.5,101.21 177.0,101.04 177.5,100.86 178.0,100.66 178.5,100.45 179.0,100.25 179.5,100.05 180.0,99.85 180.5,99.64 181.0,99.44 181.5,99.24 182.0,99.04 182.5,98.83 183.0,98.63 183.5,98.43 184.0,98.22 184.5,98.02 185.0,97.81 185.5,97.59 186.0,97.37 186.5,97.15 187.0,96.93 187.5,96.71 188.0,96.49 188.5,96.27 189.0,96.05 189.5,95.83 190.0,95.61 190.5,95.39 191.0,95.17 191.5,94.95 192.0,94.73 192.5,94.50 193.0,94.24 193.5,93.98 194.0,93.72 194.5,93.46 195.0,93.20 195.5,92.94 196.0,92.68 196.5,92.42 197.0,92.16 197.5,91.90 198.0,91.64 198.5,91.38 199.0,91.12 199.5,90.86 200.0,90.59 200.5,90.32 201.0,90.05 201.5,89.78 202.0,89.51 202.5,89.24 203.0,88.97 203.5,88.70 204.0,88.43 204.5,88.16 205.0,87.89 205.5,87.62 206.0,87.35 206.5,87.08 207.0,86.81 207.5,86.54 208.0,86.26 208.5,85.99 209.0,85.72 209.5,85.44 210.0,85.17 210.5,84.90 211.0,84.62 211.5,84.35 212.0,84.08 212.5,83.80 213.0,83.53 213.5,83.26 214.0,82.98 214.5,82.71 215.0,82.46 215.5,82.24 216.0,82.01 216.5,81.78 217.0,81.56 217.5,81.33 218.0,81.10 218.5,80.88 219.0,80.65 219.5,80.42 220.0,80.20 220.5,79.97 221.0,79.74 221.5,79.52 222.0,79.29 222.5,79.10 223.0,78.93 223.5,78.76 224.0,78.59 224.5,78.42 225.0,78.25 225.5,78.09 226.0,77.92 226.5,77.75 227.0,77.58 227.5,77.41 228.0,77.24 228.5,77.07 229.0,76.90 229.5,76.73 230.0,76.62 230.5,76.51 231.0,76.41 231.5,76.30 232.0,76.19 232.5,76.09 233.0,75.98 233.5,75.91 234.0,75.93 234.5,75.96 235.0,75.99 235.5,76.02 236.0,76.05 236.5,76.08 237.0,76.11 237.5,76.14 238.0,76.17 238.5,76.19 239.0,76.33 239.5,76.48 240.0,76.64 240.5,76.80 241.0,76.96 241.5,77.12 242.0,77.28 242.5,77.44 243.0,77.59 243.5,77.75 244.0,77.91 244.5,78.07 245.0,78.29 245.5,78.53 246.0,78.77 246.5,79.01 247.0,79.25 247.5,79.49 248.0,79.73 248.5,79.97 249.0,80.21 249.5,80.45 250.0,80.69 250.5,80.93 251.0,81.17 251.5,81.41 252.0,81.65 252.5,81.93 253.0,82.21 253.5,82.49 254.0,82.78 254.5,83.06 255.0,83.35 255.5,83.63 256.0,83.91 256.5,84.20 257.0,84.48 257.5,84.76 258.0,85.05 258.5,85.33 259.0,85.62 259.5,85.90 260.0,86.21 260.5,86.53 261.0,86.84 261.5,87.15 262.0,87.47 262.5,87.78 263.0,88.09 263.5,88.41 264.0,88.72 264.5,89.03 265.0,89.35 265.5,89.66 266.0,89.97 266.5,90.29 267.0,90.60 267.5,90.91 268.0,91.23 268.5,91.54 269.0,91.86 269.5,92.17 270.0,92.49 270.5,92.80 271.0,93.10 271.5,93.40 272.0,93.70 272.5,94.01 273.0,94.31 273.5,94.61 274.0,94.91 274.5,95.21 275.0,95.51 275.5,95.81 276.0,96.12 276.5,96.42 277.0,96.72 277.5,97.00 278.0,97.25 278.5,97.49 279.0,97.74 279.5,97.99 280.0,98.23 280.5,98.48 281.0,98.73 281.5,98.97 282.0,99.22 282.5,99.47 283.0,99.71 283.5,99.96 284.0,100.21 284.5,100.45 285.0,100.68 285.5,100.88 286.0,101.09 286.5,101.29 287.0,101.49 287.5,101.69 288.0,101.90 288.5,102.10 289.0,102.30 289.5,102.51 290.0,102.71 290.5,102.91 291.0,103.11 291.5,103.32 292.0,103.52 292.5,103.74 293.0,103.97 293.5,104.21 294.0,104.44 294.5,104.67 295.0,104.91 295.5,105.14 296.0,105.37 296.5,105.61 297.0,105.84 297.5,106.07 298.0,106.31 298.5,106.54 299.0,106.77 299.5,107.01 300.0,107.22 300.5,107.41 301.0,107.60 301.5,107.80 302.0,107.99 302.5,108.18 303.0,108.38 303.5,108.57 304.0,108.76 304.5,108.96 305.0,109.15 305.5,109.34 306.0,109.54 306.5,109.73 307.0,109.92 307.5,110.13 308.0,110.36 308.5,110.58 309.0,110.80 309.5,111.03 310.0,111.25 310.5,111.47 311.0,111.69 311.5,111.92 312.0,112.14 312.5,112.36 313.0,112.59 313.5,112.81 314.0,113.03 314.5,113.26 315.0,113.46 315.5,113.66 316.0,113.86 316.5,114.06 317.0,114.26 317.5,114.46 318.0,114.66 318.5,114.86 319.0,115.06 319.5,115.26 320.0,115.46 320.5,115.66 321.0,115.86 321.5,116.06 322.0,116.26 322.5,116.46 323.0,116.66 323.5,116.86 324.0,117.06 324.5,117.26 325.0,117.46 325.5,117.66 326.0,117.86 326.5,118.06 327.0,118.26 327.5,118.46 328.0,118.66 328.5,118.86 329.0,119.06 329.5,119.26 330.0,119.43 330.5,119.58 331.0,119.74 331.5,119.90 332.0,120.06 332.5,120.22 333.0,120.38 333.5,120.53 334.0,120.69 334.5,120.85 335.0,121.01 335.5,121.17 336.0,121.32 336.5,121.48 337.0,121.64 337.5,121.80 338.0,121.96 338.5,122.11 339.0,122.27 339.5,122.43 340.0,122.59 340.5,122.75 341.0,122.91 341.5,122.67 342.0,121.83 342.5,121.59 343.0,121.75 343.5,121.91 344.0,122.06 344.5,122.22 345.0,122.38 345.5,122.53 346.0,122.69 346.5,122.84 347.0,123.00 347.5,123.08 348.0,123.17 348.5,123.25 349.0,123.33 349.5,123.42 350.0,123.50 350.5,123.58 351.0,123.67 351.5,123.75 352.0,123.83 352.5,123.92 353.0,124.00 353.5,124.08 354.0,124.07 354.5,124.04 355.0,124.00 355.5,123.97 356.0,123.94 356.5,123.90 357.0,123.87 357.5,123.83 358.0,123.80 358.5,124.00 359.0,124.20 359.5,124.40 360.0,124.60 360.5,124.34 361.0,124.08 361.5,123.82 362.0,123.56 362.5,123.30 363.0,122.87 363.5,122.31 364.0,121.76 364.5,121.20 365.0,120.64 365.5,120.09 366.0,119.53 366.5,118.73 367.0,117.57 367.5,116.40 368.0,115.23 368.5,114.07 369.0,112.90 369.5,110.93 370.0,108.96 370.5,106.98 371.0,104.93 371.5,102.77 372.0,100.60 372.5,100.48 373.0,103.44 373.5,106.20 374.0,108.23 374.5,110.25 375.0,112.27 375.5,114.30 376.0,115.70 376.5,116.95 377.0,118.20 377.5,119.45 378.0,120.70 378.5,121.95 379.0,123.20 379.5,124.35 380.0,125.44 380.5,126.53 381.0,127.62 381.5,128.71 382.0,129.80 382.5,130.89 383.0,131.98 383.5,133.06 384.0,134.04 384.5,134.94 385.0,135.84 385.5,136.74 386.0,137.64 386.5,138.54 387.0,139.44 387.5,140.34 388.0,141.24 388.5,142.14 389.0,143.04 389.5,143.93 390.0,144.82 390.5,145.71 391.0,146.60 391.5,147.49 392.0,148.38 392.5,149.27 393.0,150.16 393.5,151.04 394.0,151.93 394.5,152.82 395.0,153.00 395.5,153.00 396.0,153.00 396.5,153.00 397.0,153.00 397.5,153.00 398.0,153.00 398.5,153.00 399.0,153.00 399.5,153.00 400.0,153.00 400.2,153" fill="#ecdffa" opacity="1"/>
<line x1="86.22" y1="153.00" x2="86.22" y2="151.05" stroke="#c29bea" stroke-width="0.65" />
<line x1="87.61" y1="153.00" x2="87.61" y2="149.37" stroke="#b284e6" stroke-width="0.85" />
<line x1="89.00" y1="153.00" x2="89.00" y2="147.70" stroke="#c29bea" stroke-width="0.65" />
<line x1="90.38" y1="153.00" x2="90.38" y2="146.02" stroke="#c29bea" stroke-width="0.65" />
<line x1="91.77" y1="153.00" x2="91.77" y2="144.35" stroke="#b284e6" stroke-width="0.85" />
<line x1="93.16" y1="153.00" x2="93.16" y2="142.68" stroke="#c29bea" stroke-width="0.65" />
<line x1="94.55" y1="153.00" x2="94.55" y2="141.00" stroke="#c29bea" stroke-width="0.65" />
<line x1="95.94" y1="153.00" x2="95.94" y2="139.56" stroke="#b284e6" stroke-width="0.85" />
<line x1="97.33" y1="153.00" x2="97.33" y2="138.17" stroke="#c29bea" stroke-width="0.65" />
<line x1="98.72" y1="153.00" x2="98.72" y2="136.78" stroke="#c29bea" stroke-width="0.65" />
<line x1="100.10" y1="153.00" x2="100.10" y2="135.40" stroke="#b284e6" stroke-width="0.85" />
<line x1="101.49" y1="153.00" x2="101.49" y2="134.01" stroke="#c29bea" stroke-width="0.65" />
<line x1="102.88" y1="153.00" x2="102.88" y2="132.62" stroke="#c29bea" stroke-width="0.65" />
<line x1="104.27" y1="153.00" x2="104.27" y2="131.11" stroke="#b284e6" stroke-width="0.85" />
<line x1="105.66" y1="153.00" x2="105.66" y2="129.35" stroke="#c29bea" stroke-width="0.65" />
<line x1="107.05" y1="153.00" x2="107.05" y2="127.60" stroke="#c29bea" stroke-width="0.65" />
<line x1="108.44" y1="153.00" x2="108.44" y2="125.84" stroke="#b284e6" stroke-width="0.85" />
<line x1="109.82" y1="153.00" x2="109.82" y2="123.65" stroke="#c29bea" stroke-width="0.65" />
<line x1="111.21" y1="153.00" x2="111.21" y2="121.05" stroke="#c29bea" stroke-width="0.65" />
<line x1="112.60" y1="153.00" x2="112.60" y2="118.45" stroke="#b284e6" stroke-width="0.85" />
<line x1="113.99" y1="153.00" x2="113.99" y2="115.84" stroke="#c29bea" stroke-width="0.65" />
<line x1="115.38" y1="153.00" x2="115.38" y2="113.21" stroke="#c29bea" stroke-width="0.65" />
<line x1="116.77" y1="153.00" x2="116.77" y2="110.57" stroke="#b284e6" stroke-width="0.85" />
<line x1="118.15" y1="153.00" x2="118.15" y2="107.94" stroke="#c29bea" stroke-width="0.65" />
<line x1="119.54" y1="153.00" x2="119.54" y2="105.39" stroke="#c29bea" stroke-width="0.65" />
<line x1="120.93" y1="153.00" x2="120.93" y2="102.90" stroke="#b284e6" stroke-width="0.85" />
<line x1="122.32" y1="153.00" x2="122.32" y2="96.42" stroke="#c29bea" stroke-width="0.65" />
<line x1="123.71" y1="153.00" x2="123.71" y2="90.83" stroke="#c29bea" stroke-width="0.65" />
<line x1="125.10" y1="153.00" x2="125.10" y2="86.92" stroke="#b284e6" stroke-width="0.85" />
<line x1="126.49" y1="153.00" x2="126.49" y2="92.22" stroke="#c29bea" stroke-width="0.65" />
<line x1="127.87" y1="153.00" x2="127.87" y2="94.95" stroke="#c29bea" stroke-width="0.65" />
<line x1="129.26" y1="153.00" x2="129.26" y2="100.75" stroke="#b284e6" stroke-width="0.85" />
<line x1="130.65" y1="153.00" x2="130.65" y2="103.55" stroke="#c29bea" stroke-width="0.65" />
<line x1="132.04" y1="153.00" x2="132.04" y2="104.81" stroke="#c29bea" stroke-width="0.65" />
<line x1="133.43" y1="153.00" x2="133.43" y2="105.66" stroke="#b284e6" stroke-width="0.85" />
<line x1="134.82" y1="153.00" x2="134.82" y2="106.51" stroke="#c29bea" stroke-width="0.65" />
<line x1="136.20" y1="153.00" x2="136.20" y2="107.35" stroke="#c29bea" stroke-width="0.65" />
<line x1="137.59" y1="153.00" x2="137.59" y2="107.99" stroke="#b284e6" stroke-width="0.85" />
<line x1="138.98" y1="153.00" x2="138.98" y2="108.63" stroke="#c29bea" stroke-width="0.65" />
<line x1="140.37" y1="153.00" x2="140.37" y2="109.12" stroke="#c29bea" stroke-width="0.65" />
<line x1="141.76" y1="153.00" x2="141.76" y2="109.19" stroke="#b284e6" stroke-width="0.85" />
<line x1="143.15" y1="153.00" x2="143.15" y2="109.27" stroke="#c29bea" stroke-width="0.65" />
<line x1="144.54" y1="153.00" x2="144.54" y2="109.34" stroke="#c29bea" stroke-width="0.65" />
<line x1="145.92" y1="153.00" x2="145.92" y2="109.42" stroke="#b284e6" stroke-width="0.85" />
<line x1="147.31" y1="153.00" x2="147.31" y2="109.49" stroke="#c29bea" stroke-width="0.65" />
<line x1="148.70" y1="153.00" x2="148.70" y2="109.31" stroke="#c29bea" stroke-width="0.65" />
<line x1="150.09" y1="153.00" x2="150.09" y2="109.08" stroke="#b284e6" stroke-width="0.85" />
<line x1="151.48" y1="153.00" x2="151.48" y2="108.85" stroke="#c29bea" stroke-width="0.65" />
<line x1="152.87" y1="153.00" x2="152.87" y2="108.63" stroke="#c29bea" stroke-width="0.65" />
<line x1="154.26" y1="153.00" x2="154.26" y2="108.40" stroke="#b284e6" stroke-width="0.85" />
<line x1="155.64" y1="153.00" x2="155.64" y2="108.08" stroke="#c29bea" stroke-width="0.65" />
<line x1="157.03" y1="153.00" x2="157.03" y2="107.67" stroke="#c29bea" stroke-width="0.65" />
<line x1="158.42" y1="153.00" x2="158.42" y2="107.27" stroke="#b284e6" stroke-width="0.85" />
<line x1="159.81" y1="153.00" x2="159.81" y2="106.86" stroke="#c29bea" stroke-width="0.65" />
<line x1="161.20" y1="153.00" x2="161.20" y2="106.45" stroke="#c29bea" stroke-width="0.65" />
<line x1="162.59" y1="153.00" x2="162.59" y2="106.04" stroke="#b284e6" stroke-width="0.85" />
<line x1="163.98" y1="153.00" x2="163.98" y2="105.55" stroke="#c29bea" stroke-width="0.65" />
<line x1="165.36" y1="153.00" x2="165.36" y2="105.07" stroke="#c29bea" stroke-width="0.65" />
<line x1="166.75" y1="153.00" x2="166.75" y2="104.59" stroke="#b284e6" stroke-width="0.85" />
<line x1="168.14" y1="153.00" x2="168.14" y2="104.11" stroke="#c29bea" stroke-width="0.65" />
<line x1="169.53" y1="153.00" x2="169.53" y2="103.63" stroke="#c29bea" stroke-width="0.65" />
<line x1="170.92" y1="153.00" x2="170.92" y2="103.15" stroke="#b284e6" stroke-width="0.85" />
<line x1="172.31" y1="153.00" x2="172.31" y2="102.67" stroke="#c29bea" stroke-width="0.65" />
<line x1="173.69" y1="153.00" x2="173.69" y2="102.18" stroke="#c29bea" stroke-width="0.65" />
<line x1="175.08" y1="153.00" x2="175.08" y2="101.70" stroke="#b284e6" stroke-width="0.85" />
<line x1="176.47" y1="153.00" x2="176.47" y2="101.22" stroke="#c29bea" stroke-width="0.65" />
<line x1="177.86" y1="153.00" x2="177.86" y2="100.71" stroke="#c29bea" stroke-width="0.65" />
<line x1="179.25" y1="153.00" x2="179.25" y2="100.15" stroke="#b284e6" stroke-width="0.85" />
<line x1="180.64" y1="153.00" x2="180.64" y2="99.59" stroke="#c29bea" stroke-width="0.65" />
<line x1="182.03" y1="153.00" x2="182.03" y2="99.02" stroke="#c29bea" stroke-width="0.65" />
<line x1="183.41" y1="153.00" x2="183.41" y2="98.46" stroke="#b284e6" stroke-width="0.85" />
<line x1="184.80" y1="153.00" x2="184.80" y2="97.90" stroke="#c29bea" stroke-width="0.65" />
<line x1="186.19" y1="153.00" x2="186.19" y2="97.29" stroke="#c29bea" stroke-width="0.65" />
<line x1="187.58" y1="153.00" x2="187.58" y2="96.68" stroke="#b284e6" stroke-width="0.85" />
<line x1="188.97" y1="153.00" x2="188.97" y2="96.07" stroke="#c29bea" stroke-width="0.65" />
<line x1="190.36" y1="153.00" x2="190.36" y2="95.46" stroke="#c29bea" stroke-width="0.65" />
<line x1="191.75" y1="153.00" x2="191.75" y2="94.84" stroke="#b284e6" stroke-width="0.85" />
<line x1="193.13" y1="153.00" x2="193.13" y2="94.17" stroke="#c29bea" stroke-width="0.65" />
<line x1="194.52" y1="153.00" x2="194.52" y2="93.44" stroke="#c29bea" stroke-width="0.65" />
<line x1="195.91" y1="153.00" x2="195.91" y2="92.72" stroke="#b284e6" stroke-width="0.85" />
<line x1="197.30" y1="153.00" x2="197.30" y2="92.00" stroke="#c29bea" stroke-width="0.65" />
<line x1="198.69" y1="153.00" x2="198.69" y2="91.28" stroke="#c29bea" stroke-width="0.65" />
<line x1="200.08" y1="153.00" x2="200.08" y2="90.55" stroke="#b284e6" stroke-width="0.85" />
<line x1="201.46" y1="153.00" x2="201.46" y2="89.80" stroke="#c29bea" stroke-width="0.65" />
<line x1="202.85" y1="153.00" x2="202.85" y2="89.05" stroke="#c29bea" stroke-width="0.65" />
<line x1="204.24" y1="153.00" x2="204.24" y2="88.30" stroke="#b284e6" stroke-width="0.85" />
<line x1="205.63" y1="153.00" x2="205.63" y2="87.55" stroke="#c29bea" stroke-width="0.65" />
<line x1="207.02" y1="153.00" x2="207.02" y2="86.80" stroke="#c29bea" stroke-width="0.65" />
<line x1="208.41" y1="153.00" x2="208.41" y2="86.04" stroke="#b284e6" stroke-width="0.85" />
<line x1="209.80" y1="153.00" x2="209.80" y2="85.28" stroke="#c29bea" stroke-width="0.65" />
<line x1="211.18" y1="153.00" x2="211.18" y2="84.52" stroke="#c29bea" stroke-width="0.65" />
<line x1="212.57" y1="153.00" x2="212.57" y2="83.76" stroke="#b284e6" stroke-width="0.85" />
<line x1="213.96" y1="153.00" x2="213.96" y2="83.00" stroke="#c29bea" stroke-width="0.65" />
<line x1="215.35" y1="153.00" x2="215.35" y2="82.31" stroke="#c29bea" stroke-width="0.65" />
<line x1="216.74" y1="153.00" x2="216.74" y2="81.68" stroke="#b284e6" stroke-width="0.85" />
<line x1="218.13" y1="153.00" x2="218.13" y2="81.05" stroke="#c29bea" stroke-width="0.65" />
<line x1="219.52" y1="153.00" x2="219.52" y2="80.42" stroke="#c29bea" stroke-width="0.65" />
<line x1="220.90" y1="153.00" x2="220.90" y2="79.79" stroke="#b284e6" stroke-width="0.85" />
<line x1="222.29" y1="153.00" x2="222.29" y2="79.17" stroke="#c29bea" stroke-width="0.65" />
<line x1="223.68" y1="153.00" x2="223.68" y2="78.70" stroke="#c29bea" stroke-width="0.65" />
<line x1="225.07" y1="153.00" x2="225.07" y2="78.23" stroke="#b284e6" stroke-width="0.85" />
<line x1="226.46" y1="153.00" x2="226.46" y2="77.76" stroke="#c29bea" stroke-width="0.65" />
<line x1="227.85" y1="153.00" x2="227.85" y2="77.29" stroke="#c29bea" stroke-width="0.65" />
<line x1="229.23" y1="153.00" x2="229.23" y2="76.82" stroke="#b284e6" stroke-width="0.85" />
<line x1="230.62" y1="153.00" x2="230.62" y2="76.48" stroke="#c29bea" stroke-width="0.65" />
<line x1="232.01" y1="153.00" x2="232.01" y2="76.19" stroke="#c29bea" stroke-width="0.65" />
<line x1="233.40" y1="153.00" x2="233.40" y2="75.90" stroke="#b284e6" stroke-width="0.85" />
<line x1="234.79" y1="153.00" x2="234.79" y2="75.98" stroke="#c29bea" stroke-width="0.65" />
<line x1="236.18" y1="153.00" x2="236.18" y2="76.06" stroke="#c29bea" stroke-width="0.65" />
<line x1="237.57" y1="153.00" x2="237.57" y2="76.14" stroke="#b284e6" stroke-width="0.85" />
<line x1="238.95" y1="153.00" x2="238.95" y2="76.31" stroke="#c29bea" stroke-width="0.65" />
<line x1="240.34" y1="153.00" x2="240.34" y2="76.75" stroke="#c29bea" stroke-width="0.65" />
<line x1="241.73" y1="153.00" x2="241.73" y2="77.19" stroke="#b284e6" stroke-width="0.85" />
<line x1="243.12" y1="153.00" x2="243.12" y2="77.63" stroke="#c29bea" stroke-width="0.65" />
<line x1="244.51" y1="153.00" x2="244.51" y2="78.07" stroke="#c29bea" stroke-width="0.65" />
<line x1="245.90" y1="153.00" x2="245.90" y2="78.72" stroke="#b284e6" stroke-width="0.85" />
<line x1="247.28" y1="153.00" x2="247.28" y2="79.39" stroke="#c29bea" stroke-width="0.65" />
<line x1="248.67" y1="153.00" x2="248.67" y2="80.06" stroke="#c29bea" stroke-width="0.65" />
<line x1="250.06" y1="153.00" x2="250.06" y2="80.72" stroke="#b284e6" stroke-width="0.85" />
<line x1="251.45" y1="153.00" x2="251.45" y2="81.39" stroke="#c29bea" stroke-width="0.65" />
<line x1="252.84" y1="153.00" x2="252.84" y2="82.12" stroke="#c29bea" stroke-width="0.65" />
<line x1="254.23" y1="153.00" x2="254.23" y2="82.91" stroke="#b284e6" stroke-width="0.85" />
<line x1="255.62" y1="153.00" x2="255.62" y2="83.70" stroke="#c29bea" stroke-width="0.65" />
<line x1="257.00" y1="153.00" x2="257.00" y2="84.48" stroke="#c29bea" stroke-width="0.65" />
<line x1="258.39" y1="153.00" x2="258.39" y2="85.27" stroke="#b284e6" stroke-width="0.85" />
<line x1="259.78" y1="153.00" x2="259.78" y2="86.08" stroke="#c29bea" stroke-width="0.65" />
<line x1="261.17" y1="153.00" x2="261.17" y2="86.95" stroke="#c29bea" stroke-width="0.65" />
<line x1="262.56" y1="153.00" x2="262.56" y2="87.82" stroke="#b284e6" stroke-width="0.85" />
<line x1="263.95" y1="153.00" x2="263.95" y2="88.69" stroke="#c29bea" stroke-width="0.65" />
<line x1="265.34" y1="153.00" x2="265.34" y2="89.56" stroke="#c29bea" stroke-width="0.65" />
<line x1="266.72" y1="153.00" x2="266.72" y2="90.43" stroke="#b284e6" stroke-width="0.85" />
<line x1="268.11" y1="153.00" x2="268.11" y2="91.30" stroke="#c29bea" stroke-width="0.65" />
<line x1="269.50" y1="153.00" x2="269.50" y2="92.17" stroke="#c29bea" stroke-width="0.65" />
<line x1="270.89" y1="153.00" x2="270.89" y2="93.03" stroke="#b284e6" stroke-width="0.85" />
<line x1="272.28" y1="153.00" x2="272.28" y2="93.87" stroke="#c29bea" stroke-width="0.65" />
<line x1="273.67" y1="153.00" x2="273.67" y2="94.71" stroke="#c29bea" stroke-width="0.65" />
<line x1="275.06" y1="153.00" x2="275.06" y2="95.55" stroke="#b284e6" stroke-width="0.85" />
<line x1="276.44" y1="153.00" x2="276.44" y2="96.38" stroke="#c29bea" stroke-width="0.65" />
<line x1="277.83" y1="153.00" x2="277.83" y2="97.16" stroke="#c29bea" stroke-width="0.65" />
<line x1="279.22" y1="153.00" x2="279.22" y2="97.85" stroke="#b284e6" stroke-width="0.85" />
<line x1="280.61" y1="153.00" x2="280.61" y2="98.53" stroke="#c29bea" stroke-width="0.65" />
<line x1="282.00" y1="153.00" x2="282.00" y2="99.22" stroke="#c29bea" stroke-width="0.65" />
<line x1="283.39" y1="153.00" x2="283.39" y2="99.90" stroke="#b284e6" stroke-width="0.85" />
<line x1="284.77" y1="153.00" x2="284.77" y2="100.59" stroke="#c29bea" stroke-width="0.65" />
<line x1="286.16" y1="153.00" x2="286.16" y2="101.15" stroke="#c29bea" stroke-width="0.65" />
<line x1="287.55" y1="153.00" x2="287.55" y2="101.72" stroke="#b284e6" stroke-width="0.85" />
<line x1="288.94" y1="153.00" x2="288.94" y2="102.28" stroke="#c29bea" stroke-width="0.65" />
<line x1="290.33" y1="153.00" x2="290.33" y2="102.84" stroke="#c29bea" stroke-width="0.65" />
<line x1="291.72" y1="153.00" x2="291.72" y2="103.40" stroke="#b284e6" stroke-width="0.85" />
<line x1="293.11" y1="153.00" x2="293.11" y2="104.02" stroke="#c29bea" stroke-width="0.65" />
<line x1="294.49" y1="153.00" x2="294.49" y2="104.67" stroke="#c29bea" stroke-width="0.65" />
<line x1="295.88" y1="153.00" x2="295.88" y2="105.32" stroke="#b284e6" stroke-width="0.85" />
<line x1="297.27" y1="153.00" x2="297.27" y2="105.97" stroke="#c29bea" stroke-width="0.65" />
<line x1="298.66" y1="153.00" x2="298.66" y2="106.61" stroke="#c29bea" stroke-width="0.65" />
<line x1="300.05" y1="153.00" x2="300.05" y2="107.23" stroke="#b284e6" stroke-width="0.85" />
<line x1="301.44" y1="153.00" x2="301.44" y2="107.77" stroke="#c29bea" stroke-width="0.65" />
<line x1="302.82" y1="153.00" x2="302.82" y2="108.31" stroke="#c29bea" stroke-width="0.65" />
<line x1="304.21" y1="153.00" x2="304.21" y2="108.85" stroke="#b284e6" stroke-width="0.85" />
<line x1="305.60" y1="153.00" x2="305.60" y2="109.38" stroke="#c29bea" stroke-width="0.65" />
<line x1="306.99" y1="153.00" x2="306.99" y2="109.92" stroke="#c29bea" stroke-width="0.65" />
<line x1="308.38" y1="153.00" x2="308.38" y2="110.53" stroke="#b284e6" stroke-width="0.85" />
<line x1="309.77" y1="153.00" x2="309.77" y2="111.14" stroke="#c29bea" stroke-width="0.65" />
<line x1="311.16" y1="153.00" x2="311.16" y2="111.76" stroke="#c29bea" stroke-width="0.65" />
<line x1="312.54" y1="153.00" x2="312.54" y2="112.38" stroke="#b284e6" stroke-width="0.85" />
<line x1="313.93" y1="153.00" x2="313.93" y2="113.00" stroke="#c29bea" stroke-width="0.65" />
<line x1="315.32" y1="153.00" x2="315.32" y2="113.59" stroke="#c29bea" stroke-width="0.65" />
<line x1="316.71" y1="153.00" x2="316.71" y2="114.14" stroke="#b284e6" stroke-width="0.85" />
<line x1="318.10" y1="153.00" x2="318.10" y2="114.70" stroke="#c29bea" stroke-width="0.65" />
<line x1="319.49" y1="153.00" x2="319.49" y2="115.25" stroke="#c29bea" stroke-width="0.65" />
<line x1="320.88" y1="153.00" x2="320.88" y2="115.81" stroke="#b284e6" stroke-width="0.85" />
<line x1="322.26" y1="153.00" x2="322.26" y2="116.37" stroke="#c29bea" stroke-width="0.65" />
<line x1="323.65" y1="153.00" x2="323.65" y2="116.92" stroke="#c29bea" stroke-width="0.65" />
<line x1="325.04" y1="153.00" x2="325.04" y2="117.48" stroke="#b284e6" stroke-width="0.85" />
<line x1="326.43" y1="153.00" x2="326.43" y2="118.03" stroke="#c29bea" stroke-width="0.65" />
<line x1="327.82" y1="153.00" x2="327.82" y2="118.59" stroke="#c29bea" stroke-width="0.65" />
<line x1="329.21" y1="153.00" x2="329.21" y2="119.14" stroke="#b284e6" stroke-width="0.85" />
<line x1="330.60" y1="153.00" x2="330.60" y2="119.61" stroke="#c29bea" stroke-width="0.65" />
<line x1="331.98" y1="153.00" x2="331.98" y2="120.05" stroke="#c29bea" stroke-width="0.65" />
<line x1="333.37" y1="153.00" x2="333.37" y2="120.49" stroke="#b284e6" stroke-width="0.85" />
<line x1="334.76" y1="153.00" x2="334.76" y2="120.93" stroke="#c29bea" stroke-width="0.65" />
<line x1="336.15" y1="153.00" x2="336.15" y2="121.37" stroke="#c29bea" stroke-width="0.65" />
<line x1="337.54" y1="153.00" x2="337.54" y2="121.81" stroke="#b284e6" stroke-width="0.85" />
<line x1="338.93" y1="153.00" x2="338.93" y2="122.25" stroke="#c29bea" stroke-width="0.65" />
<line x1="340.31" y1="153.00" x2="340.31" y2="122.69" stroke="#c29bea" stroke-width="0.65" />
<line x1="341.70" y1="153.00" x2="341.70" y2="122.33" stroke="#b284e6" stroke-width="0.85" />
<line x1="343.09" y1="153.00" x2="343.09" y2="121.78" stroke="#c29bea" stroke-width="0.65" />
<line x1="344.48" y1="153.00" x2="344.48" y2="122.21" stroke="#c29bea" stroke-width="0.65" />
<line x1="345.87" y1="153.00" x2="345.87" y2="122.65" stroke="#b284e6" stroke-width="0.85" />
<line x1="347.26" y1="153.00" x2="347.26" y2="123.04" stroke="#c29bea" stroke-width="0.65" />
<line x1="348.65" y1="153.00" x2="348.65" y2="123.27" stroke="#c29bea" stroke-width="0.65" />
<line x1="350.03" y1="153.00" x2="350.03" y2="123.51" stroke="#b284e6" stroke-width="0.85" />
<line x1="351.42" y1="153.00" x2="351.42" y2="123.74" stroke="#c29bea" stroke-width="0.65" />
<line x1="352.81" y1="153.00" x2="352.81" y2="123.97" stroke="#c29bea" stroke-width="0.65" />
<line x1="354.20" y1="153.00" x2="354.20" y2="124.06" stroke="#b284e6" stroke-width="0.85" />
<line x1="355.59" y1="153.00" x2="355.59" y2="123.96" stroke="#c29bea" stroke-width="0.65" />
<line x1="356.98" y1="153.00" x2="356.98" y2="123.87" stroke="#c29bea" stroke-width="0.65" />
<line x1="358.37" y1="153.00" x2="358.37" y2="123.95" stroke="#b284e6" stroke-width="0.85" />
<line x1="359.75" y1="153.00" x2="359.75" y2="124.50" stroke="#c29bea" stroke-width="0.65" />
<line x1="361.14" y1="153.00" x2="361.14" y2="124.01" stroke="#c29bea" stroke-width="0.65" />
<line x1="362.53" y1="153.00" x2="362.53" y2="123.29" stroke="#b284e6" stroke-width="0.85" />
<line x1="363.92" y1="153.00" x2="363.92" y2="121.85" stroke="#c29bea" stroke-width="0.65" />
<line x1="365.31" y1="153.00" x2="365.31" y2="120.30" stroke="#c29bea" stroke-width="0.65" />
<line x1="366.70" y1="153.00" x2="366.70" y2="118.28" stroke="#b284e6" stroke-width="0.85" />
<line x1="368.08" y1="153.00" x2="368.08" y2="115.04" stroke="#c29bea" stroke-width="0.65" />
<line x1="369.47" y1="153.00" x2="369.47" y2="111.03" stroke="#c29bea" stroke-width="0.65" />
<line x1="370.86" y1="153.00" x2="370.86" y2="105.53" stroke="#b284e6" stroke-width="0.85" />
<line x1="372.25" y1="153.00" x2="372.25" y2="99.52" stroke="#c29bea" stroke-width="0.65" />
<line x1="373.64" y1="153.00" x2="373.64" y2="106.76" stroke="#c29bea" stroke-width="0.65" />
<line x1="375.03" y1="153.00" x2="375.03" y2="112.38" stroke="#b284e6" stroke-width="0.85" />
<line x1="376.42" y1="153.00" x2="376.42" y2="116.74" stroke="#c29bea" stroke-width="0.65" />
<line x1="377.80" y1="153.00" x2="377.80" y2="120.21" stroke="#c29bea" stroke-width="0.65" />
<line x1="379.19" y1="153.00" x2="379.19" y2="123.68" stroke="#b284e6" stroke-width="0.85" />
<line x1="380.58" y1="153.00" x2="380.58" y2="126.71" stroke="#c29bea" stroke-width="0.65" />
<line x1="381.97" y1="153.00" x2="381.97" y2="129.73" stroke="#c29bea" stroke-width="0.65" />
<line x1="383.36" y1="153.00" x2="383.36" y2="132.76" stroke="#b284e6" stroke-width="0.85" />
<line x1="384.75" y1="153.00" x2="384.75" y2="135.38" stroke="#c29bea" stroke-width="0.65" />
<line x1="386.13" y1="153.00" x2="386.13" y2="137.88" stroke="#c29bea" stroke-width="0.65" />
<line x1="387.52" y1="153.00" x2="387.52" y2="140.38" stroke="#b284e6" stroke-width="0.85" />
<line x1="388.91" y1="153.00" x2="388.91" y2="142.88" stroke="#c29bea" stroke-width="0.65" />
<line x1="390.30" y1="153.00" x2="390.30" y2="145.36" stroke="#c29bea" stroke-width="0.65" />
<line x1="391.69" y1="153.00" x2="391.69" y2="147.82" stroke="#b284e6" stroke-width="0.85" />
<line x1="393.08" y1="153.00" x2="393.08" y2="150.29" stroke="#c29bea" stroke-width="0.65" />
<line x1="233.40" y1="76.00" x2="233.40" y2="52.50" stroke="#c39bea" stroke-width="1.0" />
<line x1="125.00" y1="87.00" x2="125.00" y2="72.50" stroke="#6cb3e0" stroke-width="1.6" />
<line x1="372.30" y1="99.30" x2="372.30" y2="90.00" stroke="#3d9bd8" stroke-width="1.3" />
<line x1="66.90" y1="52.50" x2="66.90" y2="153.60" stroke="#111" stroke-width="1.2" />
<line x1="66.30" y1="153.10" x2="400.50" y2="153.10" stroke="#111" stroke-width="1.2" />
<line x1="64.20" y1="53.00" x2="66.90" y2="53.00" stroke="#111" stroke-width="1.0" />
<text x="62.00" y="56.90" font-size="10" text-anchor="end" font-weight="normal" >0</text>
<line x1="64.20" y1="77.94" x2="66.90" y2="77.94" stroke="#111" stroke-width="1.0" />
<text x="62.00" y="81.84" font-size="10" text-anchor="end" font-weight="normal" >−20</text>
<line x1="64.20" y1="102.88" x2="66.90" y2="102.88" stroke="#111" stroke-width="1.0" />
<text x="62.00" y="106.78" font-size="10" text-anchor="end" font-weight="normal" >−40</text>
<line x1="64.20" y1="127.82" x2="66.90" y2="127.82" stroke="#111" stroke-width="1.0" />
<text x="62.00" y="131.72" font-size="10" text-anchor="end" font-weight="normal" >−60</text>
<line x1="64.20" y1="152.76" x2="66.90" y2="152.76" stroke="#111" stroke-width="1.0" />
<text x="62.00" y="156.66" font-size="10" text-anchor="end" font-weight="normal" >−80</text>
<line x1="94.55" y1="153.10" x2="94.55" y2="156.00" stroke="#111" stroke-width="1.0" />
<text x="95.15" y="167.30" font-size="10" text-anchor="middle" font-weight="normal" >−100</text>
<line x1="163.98" y1="153.10" x2="163.98" y2="156.00" stroke="#111" stroke-width="1.0" />
<text x="163.88" y="167.30" font-size="10" text-anchor="middle" font-weight="normal" >−50</text>
<line x1="233.40" y1="153.10" x2="233.40" y2="156.00" stroke="#111" stroke-width="1.0" />
<text x="232.60" y="167.30" font-size="10" text-anchor="middle" font-weight="normal" >0</text>
<line x1="302.82" y1="153.10" x2="302.82" y2="156.00" stroke="#111" stroke-width="1.0" />
<text x="301.32" y="167.30" font-size="10" text-anchor="middle" font-weight="normal" >50</text>
<line x1="372.25" y1="153.10" x2="372.25" y2="156.00" stroke="#111" stroke-width="1.0" />
<text x="370.05" y="167.30" font-size="10" text-anchor="middle" font-weight="normal" >100</text>
<text x="234.00" y="181.50" font-size="10" text-anchor="middle" font-weight="normal" >Relative Mode Number (μ)</text>
<text transform="translate(37.1,103.3) rotate(-90)" font-size="10.2" text-anchor="middle">Power (dB)</text>
<text x="29.90" y="54.10" font-size="14" text-anchor="start" font-weight="bold" >a</text>
<text x="127.90" y="67.60" font-size="8.3" text-anchor="start" font-weight="normal" >ref</text>
<text x="127.90" y="77.20" font-size="8.3" text-anchor="start" font-weight="normal" >pmp</text>
<text x="236.00" y="56.30" font-size="8.3" text-anchor="start" font-weight="normal" >main</text>
<text x="236.00" y="64.80" font-size="8.3" text-anchor="start" font-weight="normal" >pmp</text>
<text x="340.20" y="85.60" font-size="8.3" text-anchor="start" font-weight="normal" >dispersive</text>
<text x="340.20" y="95.70" font-size="8.3" text-anchor="start" font-weight="normal" >wave</text>
<text x="85" y="80.8" font-size="10" letter-spacing="-0.5">ΔP<tspan font-size="6.8" dy="1.9" letter-spacing="0">ref</tspan></text>
<line x1="111.40" y1="87.00" x2="111.40" y2="74.00" stroke="#111" stroke-width="1.1" />
<polygon points="111.4,70.5 109,75.2 113.8,75.2" fill="#111"/>
<line x1="114.90" y1="72.60" x2="124.30" y2="72.60" stroke="#111" stroke-width="0.75" stroke-dasharray="1,0.9"/>
<line x1="114.90" y1="86.30" x2="124.30" y2="86.30" stroke="#111" stroke-width="0.75" stroke-dasharray="1,0.9"/>
<text x="387.7" y="96.6" font-size="10" letter-spacing="-0.5">ΔP<tspan font-size="6.6" dy="2" letter-spacing="0">DW</tspan></text>
<line x1="385.35" y1="99.70" x2="385.35" y2="86.50" stroke="#111" stroke-width="1.1" />
<polygon points="385.35,83 382.95,87.7 387.75,87.7" fill="#111"/>
<line x1="373.00" y1="90.00" x2="382.70" y2="90.00" stroke="#111" stroke-width="0.75" stroke-dasharray="1,0.9"/>
<line x1="373.00" y1="98.80" x2="382.70" y2="98.80" stroke="#111" stroke-width="0.75" stroke-dasharray="1,0.9"/>
<line x1="291.00" y1="57.10" x2="309.00" y2="57.10" stroke="#bd93e9" stroke-width="1.7" />
<line x1="291.00" y1="67.50" x2="309.00" y2="67.50" stroke="#0b78c0" stroke-width="1.7" />
<text x="317.00" y="60.10" font-size="8.4" text-anchor="start" font-weight="normal" >single pump</text>
<text x="317.00" y="70.50" font-size="8.4" text-anchor="start" font-weight="normal" >KIS microcomb</text>
</g>
<g id="pb">
<line x1="66.90" y1="204.20" x2="66.90" y2="304.30" stroke="#111" stroke-width="1.2" />
<line x1="66.30" y1="303.80" x2="400.50" y2="303.80" stroke="#111" stroke-width="1.2" />
<line x1="64.20" y1="299.30" x2="66.90" y2="299.30" stroke="#111" stroke-width="1.0" />
<text x="62.00" y="303.40" font-size="10" text-anchor="end" font-weight="normal" >0.0</text>
<line x1="64.20" y1="269.95" x2="66.90" y2="269.95" stroke="#111" stroke-width="1.0" />
<text x="62.00" y="274.31" font-size="10" text-anchor="end" font-weight="normal" >0.5</text>
<line x1="64.20" y1="240.60" x2="66.90" y2="240.60" stroke="#111" stroke-width="1.0" />
<text x="62.00" y="245.23" font-size="10" text-anchor="end" font-weight="normal" >1.0</text>
<line x1="64.20" y1="211.25" x2="66.90" y2="211.25" stroke="#111" stroke-width="1.0" />
<text x="62.00" y="216.14" font-size="10" text-anchor="end" font-weight="normal" >1.5</text>
<line x1="81.60" y1="303.80" x2="81.60" y2="306.70" stroke="#111" stroke-width="1.0" />
<text x="82.60" y="318.00" font-size="10" text-anchor="middle" font-weight="normal" >0.0</text>
<line x1="120.92" y1="303.80" x2="120.92" y2="306.70" stroke="#111" stroke-width="1.0" />
<text x="121.56" y="318.00" font-size="10" text-anchor="middle" font-weight="normal" >0.2</text>
<line x1="160.24" y1="303.80" x2="160.24" y2="306.70" stroke="#111" stroke-width="1.0" />
<text x="160.52" y="318.00" font-size="10" text-anchor="middle" font-weight="normal" >0.4</text>
<line x1="199.56" y1="303.80" x2="199.56" y2="306.70" stroke="#111" stroke-width="1.0" />
<text x="199.48" y="318.00" font-size="10" text-anchor="middle" font-weight="normal" >0.6</text>
<line x1="238.88" y1="303.80" x2="238.88" y2="306.70" stroke="#111" stroke-width="1.0" />
<text x="238.44" y="318.00" font-size="10" text-anchor="middle" font-weight="normal" >0.8</text>
<line x1="278.20" y1="303.80" x2="278.20" y2="306.70" stroke="#111" stroke-width="1.0" />
<text x="277.40" y="318.00" font-size="10" text-anchor="middle" font-weight="normal" >1.0</text>
<line x1="317.52" y1="303.80" x2="317.52" y2="306.70" stroke="#111" stroke-width="1.0" />
<text x="316.36" y="318.00" font-size="10" text-anchor="middle" font-weight="normal" >1.2</text>
<line x1="356.84" y1="303.80" x2="356.84" y2="306.70" stroke="#111" stroke-width="1.0" />
<text x="355.32" y="318.00" font-size="10" text-anchor="middle" font-weight="normal" >1.4</text>
<line x1="396.16" y1="303.80" x2="396.16" y2="306.70" stroke="#111" stroke-width="1.0" />
<text x="394.28" y="318.00" font-size="10" text-anchor="middle" font-weight="normal" >1.6</text>
<text x="208.4" y="330.4" font-size="10"><tspan letter-spacing="-0.5">ΔP</tspan><tspan font-size="6.6" dy="2">ref</tspan><tspan dy="-2" font-size="9.9"> (×10</tspan><tspan font-size="6.5" dy="-3.6">−3</tspan><tspan dy="3.6" font-size="9.9">)</tspan></text>
<text transform="translate(38,253) rotate(-90)" font-size="10" text-anchor="middle">ΔP<tspan font-size="6.8" dy="2">DW</tspan><tspan dy="-2"> (×10</tspan><tspan font-size="6.8" dy="-3.5">−4</tspan><tspan dy="3.5">)</tspan></text>
<text x="30.10" y="196.90" font-size="14" text-anchor="start" font-weight="bold" >b</text>
<circle cx="81.60" cy="299.30" r="1.5" fill="#0f7ccd"/>
<circle cx="82.57" cy="298.91" r="1.5" fill="#0f7ccd"/>
<circle cx="83.91" cy="298.38" r="1.5" fill="#0f7ccd"/>
<circle cx="85.44" cy="297.78" r="1.5" fill="#0f7ccd"/>
<circle cx="87.10" cy="297.12" r="1.5" fill="#0f7ccd"/>
<circle cx="88.87" cy="296.43" r="1.5" fill="#0f7ccd"/>
<circle cx="90.73" cy="295.70" r="1.5" fill="#0f7ccd"/>
<circle cx="92.67" cy="294.94" r="1.5" fill="#0f7ccd"/>
<circle cx="94.69" cy="294.16" r="1.5" fill="#0f7ccd"/>
<circle cx="96.76" cy="293.35" r="1.5" fill="#0f7ccd"/>
<circle cx="98.90" cy="292.53" r="1.5" fill="#0f7ccd"/>
<circle cx="101.09" cy="291.68" r="1.5" fill="#0f7ccd"/>
<circle cx="103.32" cy="290.82" r="1.5" fill="#0f7ccd"/>
<circle cx="105.61" cy="289.95" r="1.5" fill="#0f7ccd"/>
<circle cx="107.94" cy="289.06" r="1.5" fill="#0f7ccd"/>
<circle cx="110.31" cy="288.16" r="1.5" fill="#0f7ccd"/>
<circle cx="112.73" cy="287.25" r="1.5" fill="#0f7ccd"/>
<circle cx="115.18" cy="286.33" r="1.5" fill="#0f7ccd"/>
<circle cx="117.66" cy="285.39" r="1.5" fill="#0f7ccd"/>
<circle cx="120.18" cy="284.45" r="1.5" fill="#0f7ccd"/>
<circle cx="122.74" cy="283.50" r="1.5" fill="#0f7ccd"/>
<circle cx="125.33" cy="282.55" r="1.5" fill="#0f7ccd"/>
<circle cx="127.94" cy="281.58" r="1.5" fill="#0f7ccd"/>
<circle cx="130.59" cy="280.61" r="1.5" fill="#0f7ccd"/>
<circle cx="133.27" cy="279.63" r="1.5" fill="#0f7ccd"/>
<circle cx="135.97" cy="278.65" r="1.5" fill="#0f7ccd"/>
<circle cx="138.71" cy="277.66" r="1.5" fill="#0f7ccd"/>
<circle cx="141.46" cy="276.67" r="1.5" fill="#0f7ccd"/>
<circle cx="144.25" cy="275.67" r="1.5" fill="#0f7ccd"/>
<circle cx="147.06" cy="274.67" r="1.5" fill="#0f7ccd"/>
<circle cx="149.89" cy="273.67" r="1.5" fill="#0f7ccd"/>
<circle cx="152.75" cy="272.66" r="1.5" fill="#0f7ccd"/>
<circle cx="155.63" cy="271.65" r="1.5" fill="#0f7ccd"/>
<circle cx="158.53" cy="270.64" r="1.5" fill="#0f7ccd"/>
<circle cx="161.46" cy="269.62" r="1.5" fill="#0f7ccd"/>
<circle cx="164.40" cy="268.60" r="1.5" fill="#0f7ccd"/>
<circle cx="167.37" cy="267.59" r="1.5" fill="#0f7ccd"/>
<circle cx="170.36" cy="266.57" r="1.5" fill="#0f7ccd"/>
<circle cx="173.37" cy="265.54" r="1.5" fill="#0f7ccd"/>
<circle cx="176.40" cy="264.52" r="1.5" fill="#0f7ccd"/>
<circle cx="179.45" cy="263.50" r="1.5" fill="#0f7ccd"/>
<circle cx="182.51" cy="262.47" r="1.5" fill="#0f7ccd"/>
<circle cx="185.60" cy="261.45" r="1.5" fill="#0f7ccd"/>
<circle cx="188.70" cy="260.43" r="1.5" fill="#0f7ccd"/>
<circle cx="191.83" cy="259.40" r="1.5" fill="#0f7ccd"/>
<circle cx="194.97" cy="258.38" r="1.5" fill="#0f7ccd"/>
<circle cx="198.12" cy="257.36" r="1.5" fill="#0f7ccd"/>
<circle cx="201.30" cy="256.34" r="1.5" fill="#0f7ccd"/>
<circle cx="204.49" cy="255.32" r="1.5" fill="#0f7ccd"/>
<circle cx="207.70" cy="254.30" r="1.5" fill="#0f7ccd"/>
<circle cx="210.92" cy="253.28" r="1.5" fill="#0f7ccd"/>
<circle cx="214.17" cy="252.26" r="1.5" fill="#0f7ccd"/>
<circle cx="217.42" cy="251.25" r="1.5" fill="#0f7ccd"/>
<circle cx="220.70" cy="250.23" r="1.5" fill="#0f7ccd"/>
<circle cx="223.98" cy="249.22" r="1.5" fill="#0f7ccd"/>
<circle cx="227.29" cy="248.22" r="1.5" fill="#0f7ccd"/>
<circle cx="230.61" cy="247.21" r="1.5" fill="#0f7ccd"/>
<circle cx="233.94" cy="246.21" r="1.5" fill="#0f7ccd"/>
<circle cx="237.29" cy="245.21" r="1.5" fill="#0f7ccd"/>
<circle cx="240.65" cy="244.21" r="1.5" fill="#0f7ccd"/>
<circle cx="244.03" cy="243.21" r="1.5" fill="#0f7ccd"/>
<circle cx="247.42" cy="242.22" r="1.5" fill="#0f7ccd"/>
<circle cx="250.82" cy="241.23" r="1.5" fill="#0f7ccd"/>
<circle cx="254.24" cy="240.25" r="1.5" fill="#0f7ccd"/>
<circle cx="257.67" cy="239.27" r="1.5" fill="#0f7ccd"/>
<circle cx="261.12" cy="238.29" r="1.5" fill="#0f7ccd"/>
<circle cx="264.58" cy="237.32" r="1.5" fill="#0f7ccd"/>
<circle cx="268.05" cy="236.35" r="1.5" fill="#0f7ccd"/>
<circle cx="271.53" cy="235.38" r="1.5" fill="#0f7ccd"/>
<circle cx="275.03" cy="234.42" r="1.5" fill="#0f7ccd"/>
<circle cx="278.54" cy="233.46" r="1.5" fill="#0f7ccd"/>
<circle cx="282.07" cy="232.51" r="1.5" fill="#0f7ccd"/>
<circle cx="285.60" cy="231.56" r="1.5" fill="#0f7ccd"/>
<circle cx="289.15" cy="230.62" r="1.5" fill="#0f7ccd"/>
<circle cx="292.71" cy="229.68" r="1.5" fill="#0f7ccd"/>
<circle cx="296.28" cy="228.75" r="1.5" fill="#0f7ccd"/>
<circle cx="299.87" cy="227.82" r="1.5" fill="#0f7ccd"/>
<circle cx="303.46" cy="226.90" r="1.5" fill="#0f7ccd"/>
<circle cx="307.07" cy="225.98" r="1.5" fill="#0f7ccd"/>
<circle cx="310.69" cy="225.07" r="1.5" fill="#0f7ccd"/>
<circle cx="314.32" cy="224.16" r="1.5" fill="#0f7ccd"/>
<circle cx="317.96" cy="223.26" r="1.5" fill="#0f7ccd"/>
<circle cx="321.61" cy="222.36" r="1.5" fill="#0f7ccd"/>
<circle cx="325.28" cy="221.47" r="1.5" fill="#0f7ccd"/>
<circle cx="328.95" cy="220.59" r="1.5" fill="#0f7ccd"/>
<circle cx="332.64" cy="219.71" r="1.5" fill="#0f7ccd"/>
<circle cx="336.34" cy="218.84" r="1.5" fill="#0f7ccd"/>
<circle cx="340.04" cy="217.97" r="1.5" fill="#0f7ccd"/>
<circle cx="343.76" cy="217.11" r="1.5" fill="#0f7ccd"/>
<circle cx="347.49" cy="216.26" r="1.5" fill="#0f7ccd"/>
<circle cx="351.23" cy="215.41" r="1.5" fill="#0f7ccd"/>
<circle cx="354.98" cy="214.57" r="1.5" fill="#0f7ccd"/>
<circle cx="358.74" cy="213.74" r="1.5" fill="#0f7ccd"/>
<circle cx="362.51" cy="212.91" r="1.5" fill="#0f7ccd"/>
<circle cx="366.29" cy="212.10" r="1.5" fill="#0f7ccd"/>
<circle cx="370.08" cy="211.28" r="1.5" fill="#0f7ccd"/>
<circle cx="373.89" cy="210.48" r="1.5" fill="#0f7ccd"/>
<circle cx="377.70" cy="209.68" r="1.5" fill="#0f7ccd"/>
<circle cx="381.52" cy="208.89" r="1.5" fill="#0f7ccd"/>
<circle cx="385.35" cy="208.11" r="1.5" fill="#0f7ccd"/>
</g>
<g id="pd">
<line x1="493.30" y1="204.20" x2="493.30" y2="304.10" stroke="#111" stroke-width="1.2" />
<line x1="492.70" y1="303.60" x2="827.00" y2="303.60" stroke="#111" stroke-width="1.2" />
<line x1="490.60" y1="299.60" x2="493.30" y2="299.60" stroke="#111" stroke-width="1.0" />
<text x="487.40" y="303.50" font-size="10" text-anchor="end" font-weight="normal" >0.5</text>
<line x1="490.60" y1="276.30" x2="493.30" y2="276.30" stroke="#111" stroke-width="1.0" />
<text x="487.40" y="280.20" font-size="10" text-anchor="end" font-weight="normal" >1</text>
<line x1="490.60" y1="253.00" x2="493.30" y2="253.00" stroke="#111" stroke-width="1.0" />
<text x="487.40" y="256.90" font-size="10" text-anchor="end" font-weight="normal" >1.5</text>
<line x1="490.60" y1="229.70" x2="493.30" y2="229.70" stroke="#111" stroke-width="1.0" />
<text x="487.40" y="233.60" font-size="10" text-anchor="end" font-weight="normal" >2</text>
<line x1="490.60" y1="206.40" x2="493.30" y2="206.40" stroke="#111" stroke-width="1.0" />
<text x="487.40" y="210.30" font-size="10" text-anchor="end" font-weight="normal" >2.5</text>
<line x1="504.10" y1="303.60" x2="504.10" y2="306.50" stroke="#111" stroke-width="1.0" />
<text x="504.90" y="318.00" font-size="10" text-anchor="middle" font-weight="normal" >0</text>
<line x1="538.73" y1="303.60" x2="538.73" y2="306.50" stroke="#111" stroke-width="1.0" />
<text x="539.53" y="318.00" font-size="10" text-anchor="middle" font-weight="normal" >1</text>
<line x1="573.36" y1="303.60" x2="573.36" y2="306.50" stroke="#111" stroke-width="1.0" />
<text x="574.16" y="318.00" font-size="10" text-anchor="middle" font-weight="normal" >2</text>
<line x1="607.99" y1="303.60" x2="607.99" y2="306.50" stroke="#111" stroke-width="1.0" />
<text x="608.79" y="318.00" font-size="10" text-anchor="middle" font-weight="normal" >3</text>
<line x1="642.62" y1="303.60" x2="642.62" y2="306.50" stroke="#111" stroke-width="1.0" />
<text x="643.42" y="318.00" font-size="10" text-anchor="middle" font-weight="normal" >4</text>
<line x1="677.25" y1="303.60" x2="677.25" y2="306.50" stroke="#111" stroke-width="1.0" />
<text x="678.05" y="318.00" font-size="10" text-anchor="middle" font-weight="normal" >5</text>
<line x1="711.88" y1="303.60" x2="711.88" y2="306.50" stroke="#111" stroke-width="1.0" />
<text x="712.68" y="318.00" font-size="10" text-anchor="middle" font-weight="normal" >6</text>
<line x1="746.51" y1="303.60" x2="746.51" y2="306.50" stroke="#111" stroke-width="1.0" />
<text x="747.31" y="318.00" font-size="10" text-anchor="middle" font-weight="normal" >7</text>
<line x1="781.14" y1="303.60" x2="781.14" y2="306.50" stroke="#111" stroke-width="1.0" />
<text x="781.94" y="318.00" font-size="10" text-anchor="middle" font-weight="normal" >8</text>
<line x1="815.77" y1="303.60" x2="815.77" y2="306.50" stroke="#111" stroke-width="1.0" />
<text x="816.57" y="318.00" font-size="10" text-anchor="middle" font-weight="normal" >9</text>
<text x="660" y="331" font-size="10" text-anchor="middle">P<tspan font-size="6.8" dy="2">ref</tspan><tspan dy="-2"> (mW)</tspan></text>
<text transform="translate(463.8,254) rotate(-90)" font-size="10" text-anchor="middle">P<tspan font-size="6.8" dy="2">DW</tspan><tspan dy="-2"> (μW)</tspan></text>
<text x="459.20" y="196.90" font-size="14" text-anchor="start" font-weight="bold" >d</text>
<circle cx="511.25" cy="296.13" r="1.5" fill="#0f7ccd"/>
<circle cx="511.85" cy="296.95" r="1.5" fill="#0f7ccd"/>
<circle cx="512.41" cy="294.73" r="1.5" fill="#0f7ccd"/>
<circle cx="513.01" cy="295.38" r="1.5" fill="#0f7ccd"/>
<circle cx="513.57" cy="293.65" r="1.5" fill="#0f7ccd"/>
<circle cx="514.17" cy="292.02" r="1.5" fill="#0f7ccd"/>
<circle cx="515.03" cy="291.09" r="1.5" fill="#0f7ccd"/>
<circle cx="515.63" cy="293.37" r="1.5" fill="#0f7ccd"/>
<circle cx="516.48" cy="290.76" r="1.5" fill="#0f7ccd"/>
<circle cx="517.08" cy="290.59" r="1.5" fill="#0f7ccd"/>
<circle cx="519.39" cy="292.09" r="1.5" fill="#0f7ccd"/>
<circle cx="519.99" cy="290.72" r="1.5" fill="#0f7ccd"/>
<circle cx="520.85" cy="291.00" r="1.5" fill="#0f7ccd"/>
<circle cx="521.45" cy="290.06" r="1.5" fill="#0f7ccd"/>
<circle cx="522.30" cy="289.81" r="1.5" fill="#0f7ccd"/>
<circle cx="522.90" cy="288.40" r="1.5" fill="#0f7ccd"/>
<circle cx="524.24" cy="291.16" r="1.5" fill="#0f7ccd"/>
<circle cx="524.84" cy="291.91" r="1.5" fill="#0f7ccd"/>
<circle cx="526.18" cy="288.54" r="1.5" fill="#0f7ccd"/>
<circle cx="526.78" cy="289.20" r="1.5" fill="#0f7ccd"/>
<circle cx="527.63" cy="288.24" r="1.5" fill="#0f7ccd"/>
<circle cx="528.23" cy="286.49" r="1.5" fill="#0f7ccd"/>
<circle cx="529.09" cy="287.79" r="1.5" fill="#0f7ccd"/>
<circle cx="529.69" cy="287.39" r="1.5" fill="#0f7ccd"/>
<circle cx="531.03" cy="284.47" r="1.5" fill="#0f7ccd"/>
<circle cx="531.63" cy="283.58" r="1.5" fill="#0f7ccd"/>
<circle cx="532.96" cy="287.10" r="1.5" fill="#0f7ccd"/>
<circle cx="533.56" cy="286.07" r="1.5" fill="#0f7ccd"/>
<circle cx="534.42" cy="285.94" r="1.5" fill="#0f7ccd"/>
<circle cx="535.02" cy="286.51" r="1.5" fill="#0f7ccd"/>
<circle cx="535.87" cy="285.16" r="1.5" fill="#0f7ccd"/>
<circle cx="536.47" cy="285.86" r="1.5" fill="#0f7ccd"/>
<circle cx="537.33" cy="283.36" r="1.5" fill="#0f7ccd"/>
<circle cx="537.93" cy="284.53" r="1.5" fill="#0f7ccd"/>
<circle cx="538.78" cy="282.52" r="1.5" fill="#0f7ccd"/>
<circle cx="539.38" cy="283.97" r="1.5" fill="#0f7ccd"/>
<circle cx="541.69" cy="284.62" r="1.5" fill="#0f7ccd"/>
<circle cx="542.29" cy="282.42" r="1.5" fill="#0f7ccd"/>
<circle cx="543.63" cy="280.16" r="1.5" fill="#0f7ccd"/>
<circle cx="544.23" cy="280.26" r="1.5" fill="#0f7ccd"/>
<circle cx="545.08" cy="280.96" r="1.5" fill="#0f7ccd"/>
<circle cx="545.68" cy="279.56" r="1.5" fill="#0f7ccd"/>
<circle cx="546.54" cy="278.39" r="1.5" fill="#0f7ccd"/>
<circle cx="547.02" cy="280.04" r="1.5" fill="#0f7ccd"/>
<circle cx="547.51" cy="281.69" r="1.5" fill="#0f7ccd"/>
<circle cx="549.45" cy="283.05" r="1.5" fill="#0f7ccd"/>
<circle cx="550.90" cy="281.88" r="1.5" fill="#0f7ccd"/>
<circle cx="552.36" cy="280.72" r="1.5" fill="#0f7ccd"/>
<circle cx="553.81" cy="279.56" r="1.5" fill="#0f7ccd"/>
<circle cx="555.26" cy="278.39" r="1.5" fill="#0f7ccd"/>
<circle cx="558.17" cy="279.36" r="1.5" fill="#0f7ccd"/>
<circle cx="560.11" cy="279.85" r="1.5" fill="#0f7ccd"/>
<circle cx="562.05" cy="280.33" r="1.5" fill="#0f7ccd"/>
<circle cx="563.51" cy="279.36" r="1.5" fill="#0f7ccd"/>
<circle cx="564.96" cy="278.39" r="1.5" fill="#0f7ccd"/>
<circle cx="566.41" cy="276.65" r="1.5" fill="#0f7ccd"/>
<circle cx="567.87" cy="274.90" r="1.5" fill="#0f7ccd"/>
<circle cx="569.81" cy="273.93" r="1.5" fill="#0f7ccd"/>
<circle cx="571.26" cy="274.90" r="1.5" fill="#0f7ccd"/>
<circle cx="572.72" cy="275.87" r="1.5" fill="#0f7ccd"/>
<circle cx="573.69" cy="274.39" r="1.5" fill="#0f7ccd"/>
<circle cx="574.66" cy="272.90" r="1.5" fill="#0f7ccd"/>
<circle cx="575.63" cy="271.41" r="1.5" fill="#0f7ccd"/>
<circle cx="577.56" cy="270.73" r="1.5" fill="#0f7ccd"/>
<circle cx="579.50" cy="270.06" r="1.5" fill="#0f7ccd"/>
<circle cx="581.44" cy="272.00" r="1.5" fill="#0f7ccd"/>
<circle cx="583.77" cy="273.35" r="1.5" fill="#0f7ccd"/>
<circle cx="585.32" cy="267.73" r="1.5" fill="#0f7ccd"/>
<circle cx="588.23" cy="266.18" r="1.5" fill="#0f7ccd"/>
<circle cx="591.14" cy="265.21" r="1.5" fill="#0f7ccd"/>
<circle cx="595.02" cy="263.27" r="1.5" fill="#0f7ccd"/>
<circle cx="597.93" cy="261.72" r="1.5" fill="#0f7ccd"/>
<circle cx="599.86" cy="259.00" r="1.5" fill="#0f7ccd"/>
<circle cx="602.77" cy="259.97" r="1.5" fill="#0f7ccd"/>
<circle cx="605.68" cy="258.81" r="1.5" fill="#0f7ccd"/>
<circle cx="608.59" cy="257.45" r="1.5" fill="#0f7ccd"/>
<circle cx="611.50" cy="253.96" r="1.5" fill="#0f7ccd"/>
<circle cx="614.41" cy="253.19" r="1.5" fill="#0f7ccd"/>
<circle cx="616.93" cy="250.67" r="1.5" fill="#0f7ccd"/>
<circle cx="619.26" cy="252.60" r="1.5" fill="#0f7ccd"/>
<circle cx="622.16" cy="252.02" r="1.5" fill="#0f7ccd"/>
<circle cx="625.07" cy="250.67" r="1.5" fill="#0f7ccd"/>
<circle cx="627.01" cy="249.31" r="1.5" fill="#0f7ccd"/>
<circle cx="607.37" cy="258.17" r="1.5" fill="#0f7ccd"/>
<circle cx="609.70" cy="257.20" r="1.5" fill="#0f7ccd"/>
<circle cx="612.02" cy="254.68" r="1.5" fill="#0f7ccd"/>
<circle cx="614.54" cy="253.33" r="1.5" fill="#0f7ccd"/>
<circle cx="617.06" cy="250.80" r="1.5" fill="#0f7ccd"/>
<circle cx="619.39" cy="252.74" r="1.5" fill="#0f7ccd"/>
<circle cx="622.30" cy="251.97" r="1.5" fill="#0f7ccd"/>
<circle cx="625.21" cy="251.39" r="1.5" fill="#0f7ccd"/>
<circle cx="628.12" cy="249.45" r="1.5" fill="#0f7ccd"/>
<circle cx="631.03" cy="247.90" r="1.5" fill="#0f7ccd"/>
<circle cx="633.93" cy="246.15" r="1.5" fill="#0f7ccd"/>
<circle cx="636.84" cy="243.44" r="1.5" fill="#0f7ccd"/>
<circle cx="639.75" cy="239.75" r="1.5" fill="#0f7ccd"/>
<circle cx="643.05" cy="237.42" r="1.5" fill="#0f7ccd"/>
<circle cx="646.54" cy="233.35" r="1.5" fill="#0f7ccd"/>
<circle cx="649.45" cy="231.22" r="1.5" fill="#0f7ccd"/>
<circle cx="652.74" cy="232.96" r="1.5" fill="#0f7ccd"/>
<circle cx="656.23" cy="233.35" r="1.5" fill="#0f7ccd"/>
<circle cx="659.72" cy="234.32" r="1.5" fill="#0f7ccd"/>
<circle cx="663.60" cy="234.13" r="1.5" fill="#0f7ccd"/>
<circle cx="667.29" cy="234.32" r="1.5" fill="#0f7ccd"/>
<circle cx="671.17" cy="232.19" r="1.5" fill="#0f7ccd"/>
<circle cx="675.04" cy="231.61" r="1.5" fill="#0f7ccd"/>
<circle cx="679.12" cy="232.96" r="1.5" fill="#0f7ccd"/>
<circle cx="683.38" cy="230.83" r="1.5" fill="#0f7ccd"/>
<circle cx="687.26" cy="228.12" r="1.5" fill="#0f7ccd"/>
<circle cx="691.53" cy="226.76" r="1.5" fill="#0f7ccd"/>
<circle cx="695.99" cy="227.54" r="1.5" fill="#0f7ccd"/>
<circle cx="700.45" cy="228.31" r="1.5" fill="#0f7ccd"/>
<circle cx="705.10" cy="225.60" r="1.5" fill="#0f7ccd"/>
<circle cx="709.56" cy="223.66" r="1.5" fill="#0f7ccd"/>
<circle cx="714.27" cy="223.70" r="1.5" fill="#0f7ccd"/>
<circle cx="719.31" cy="221.18" r="1.5" fill="#0f7ccd"/>
<circle cx="724.54" cy="219.43" r="1.5" fill="#0f7ccd"/>
<circle cx="729.39" cy="216.33" r="1.5" fill="#0f7ccd"/>
<circle cx="734.63" cy="214.20" r="1.5" fill="#0f7ccd"/>
<circle cx="740.06" cy="212.26" r="1.5" fill="#0f7ccd"/>
<circle cx="745.49" cy="211.09" r="1.5" fill="#0f7ccd"/>
<circle cx="751.30" cy="213.62" r="1.5" fill="#0f7ccd"/>
<circle cx="756.93" cy="214.59" r="1.5" fill="#0f7ccd"/>
<circle cx="762.74" cy="215.36" r="1.5" fill="#0f7ccd"/>
<circle cx="768.95" cy="215.36" r="1.5" fill="#0f7ccd"/>
<circle cx="775.15" cy="214.78" r="1.5" fill="#0f7ccd"/>
<circle cx="781.36" cy="214.39" r="1.5" fill="#0f7ccd"/>
<circle cx="787.95" cy="214.97" r="1.5" fill="#0f7ccd"/>
<circle cx="794.55" cy="213.62" r="1.5" fill="#0f7ccd"/>
<circle cx="801.33" cy="212.45" r="1.5" fill="#0f7ccd"/>
<circle cx="808.31" cy="211.29" r="1.5" fill="#0f7ccd"/>
</g>
<g id="pc">
<polygon points="506.5,143.6 507.0,141.7 507.5,140.2 508.0,138.7 508.5,137.1 509.0,135.6 509.5,134.1 510.0,132.3 510.5,129.9 511.0,127.6 511.5,125.2 512.0,122.6 512.5,120.1 513.0,117.5 513.5,115.9 514.0,114.2 514.5,114.2 515.0,114.2 515.5,114.2 516.0,114.2 516.5,115.7 517.0,117.2 517.5,119.3 518.0,121.5 518.5,123.8 519.0,126.0 519.5,127.0 520.0,127.3 520.5,127.5 521.0,127.8 521.5,128.0 522.0,128.3 522.5,128.6 523.0,128.8 523.5,129.0 524.0,129.2 524.5,129.3 525.0,129.4 525.5,129.5 526.0,129.7 526.5,129.8 527.0,129.9 527.5,130.0 528.0,130.2 528.5,130.3 529.0,130.4 529.5,130.5 530.0,130.7 530.5,130.8 531.0,130.9 531.5,131.0 532.0,131.1 532.5,131.2 533.0,131.2 533.5,131.3 534.0,131.3 534.5,131.4 535.0,131.4 535.5,131.5 536.0,131.5 536.5,131.6 537.0,131.6 537.5,131.6 538.0,131.7 538.5,131.7 539.0,131.8 539.5,131.8 540.0,131.9 540.5,131.9 541.0,132.0 541.5,132.0 542.0,132.1 542.5,132.2 543.0,132.3 543.5,132.4 544.0,132.5 544.5,132.6 545.0,132.7 545.5,132.8 546.0,132.9 546.5,133.0 547.0,133.1 547.5,133.2 548.0,133.3 548.5,133.4 549.0,133.5 549.5,133.6 550.0,133.7 550.5,133.8 551.0,134.1 551.5,134.4 552.0,134.7 552.5,135.0 553.0,135.3 553.5,135.7 554.0,136.0 554.5,136.3 555.0,136.6 555.5,136.9 556.0,137.2 556.5,138.4 557.0,139.5 557.5,140.7 558,146 506.5,146" fill="#4a9fd6"/>
<path d="M506.95,146V140.6M508.27,146V136.8M509.59,146V132.5M510.90,146V126.2M512.22,146V120.0M513.53,146V113.8M514.85,146V113.0M516.17,146V114.4M517.48,146V117.7M518.80,146V123.5M520.11,146V126.5M521.43,146V127.1M522.75,146V127.5M524.06,146V127.3M525.38,146V128.3M526.69,146V129.1M528.01,146V128.0M529.33,146V129.0M530.64,146V128.3M531.96,146V129.0M533.27,146V128.8M534.59,146V130.0M535.91,146V129.4M537.22,146V130.6M538.54,146V130.7M539.85,146V130.5M541.17,146V129.0M542.49,146V130.6M543.80,146V131.2M545.12,146V131.6M546.43,146V130.7M547.75,146V131.7M549.07,146V131.6M550.38,146V132.0M551.70,146V134.1M553.01,146V133.6M554.33,146V134.9M555.65,146V136.4M556.96,146V137.8M558.28,146V141.2M559.59,146V144.5" stroke="#0b78c0" stroke-width="0.85" fill="none"/>
<line x1="514.90" y1="114.00" x2="514.90" y2="92.10" stroke="#6cb3e0" stroke-width="1.7" />
<polygon points="773.6,128 774.6,113 775.5,100 776.5,108 778.2,110 779.3,128" fill="#0b78c0" opacity="0.85"/>
<line x1="775.50" y1="132.00" x2="775.50" y2="96.20" stroke="#0b78c0" stroke-width="1.3" />
<line x1="778.20" y1="132.00" x2="778.20" y2="109.50" stroke="#0b78c0" stroke-width="1.1" />
<line x1="762.10" y1="132.00" x2="762.10" y2="112.90" stroke="#0b78c0" stroke-width="0.9" />
<line x1="767.30" y1="132.00" x2="767.30" y2="118.00" stroke="#0b78c0" stroke-width="0.9" />
<line x1="773.00" y1="132.00" x2="773.00" y2="119.00" stroke="#0b78c0" stroke-width="0.9" />
<line x1="770.30" y1="132.00" x2="770.30" y2="123.00" stroke="#0b78c0" stroke-width="0.8" />
<line x1="780.50" y1="132.00" x2="780.50" y2="124.00" stroke="#0b78c0" stroke-width="0.8" />
<line x1="776.80" y1="132.00" x2="776.80" y2="106.00" stroke="#0b78c0" stroke-width="0.8" />
<path d="M725.0,129.9V124.7M725.9,129.9V124.9M726.5,129.8V125.4M727.3,129.8V124.5M728.0,129.8V125.2M728.7,129.7V125.7M729.4,129.7V126.3M730.3,129.7V125.7M731.3,129.6V125.1M732.2,129.6V124.9M733.0,129.6V126.2M733.8,129.5V125.9M734.6,129.5V126.3M735.5,129.5V125.9M736.4,129.4V125.7M737.4,129.4V124.7M738.0,129.4V124.2M739.0,129.3V124.0M739.8,129.3V125.9M740.5,129.3V123.9M741.3,129.3V125.8M742.3,129.3V124.6M743.1,129.3V125.3M743.9,129.3V125.7M744.5,129.3V124.0M745.3,129.3V124.9M746.0,129.3V124.3M746.6,129.3V125.3M747.2,129.3V126.0M748.2,129.3V124.6M749.0,129.3V124.9M749.9,129.3V125.4M750.8,129.3V124.5M751.5,129.3V125.0M752.4,129.3V123.9M753.1,129.3V123.9M753.7,129.3V124.3M754.6,129.3V125.9M755.4,129.3V124.2M756.0,129.3V124.7M756.9,129.2V124.9M757.8,129.1V125.5M758.5,129.1V125.1M759.1,129.0V125.1M760.1,128.9V124.4M760.8,128.8V125.1M761.8,128.7V124.6" stroke="#2f8fce" stroke-width="1.0" fill="none"/>
<path d="M692.8,143.0V149.0M722.5,141.0V147.0M724.0,143.5V149.5M729.0,141.0V147.0M736.3,141.0V147.0M741.2,138.5V144.5M749.4,137.5V143.5M756.8,139.0V145.0M760.0,137.0V143.0M771.6,142.5V148.5M782.2,135.5V141.5M788.6,130.0V136.0M800.0,125.0V131.0M812.0,123.0V129.0" stroke="#2f8fce" stroke-width="0.75" fill="none"/>
<polygon points="493.6,125.1 494.1,125.5 494.5,126.1 494.9,126.3 495.4,127.8 495.8,127.6 496.3,128.6 496.7,129.2 497.2,130.2 497.6,130.8 498.1,132.9 498.5,133.2 499.0,134.6 499.4,135.1 499.9,135.6 500.3,136.7 500.8,137.4 501.2,138.6 501.7,139.3 502.1,140.0 502.6,139.9 503.0,140.6 503.5,142.1 503.9,141.5 504.4,141.7 504.8,142.7 505.3,143.2 505.7,142.0 506.2,142.6 506.6,142.5 507.1,142.0 507.5,143.2 508.0,142.9 508.4,143.0 508.9,142.7 509.3,142.5 509.8,141.9 510.2,140.9 510.7,139.5 511.1,138.2 511.6,136.8 512.0,135.4 512.5,133.7 512.9,132.0 513.4,130.3 513.8,128.6 514.3,128.4 514.7,130.3 515.2,132.2 515.6,134.1 516.1,135.8 516.5,136.7 517.0,137.6 517.4,138.5 517.9,139.4 518.3,139.7 518.8,139.9 519.2,140.1 519.7,140.2 520.1,140.4 520.6,140.6 521.0,140.7 521.5,140.9 521.9,141.1 522.4,141.1 522.8,141.1 523.3,141.1 523.7,141.1 524.2,141.1 524.6,141.1 525.1,141.1 525.5,141.1 526.0,141.1 526.4,141.1 526.9,141.1 527.3,141.1 527.8,141.1 528.2,141.1 528.7,141.1 529.1,141.1 529.6,141.1 530.0,141.1 530.5,141.1 530.9,141.1 531.4,141.0 531.8,141.0 532.3,141.0 532.7,141.0 533.2,140.9 533.6,140.9 534.1,140.9 534.5,140.9 535.0,140.9 535.4,140.8 535.9,140.8 536.3,140.8 536.8,140.8 537.2,140.7 537.7,140.7 538.1,140.7 538.6,140.7 539.0,140.6 539.5,140.6 539.9,140.6 540.4,140.5 540.8,140.3 541.3,140.2 541.7,140.0 542.2,139.9 542.6,139.7 543.1,139.6 543.5,139.4 544.0,139.3 544.4,139.1 544.9,139.0 545.3,138.8 545.8,138.7 546.2,138.4 546.7,137.9 547.1,137.5 547.6,137.0 548.0,136.6 548.5,136.1 548.9,135.7 549.4,135.2 549.8,134.8 550.3,134.4 550.7,134.0 551.2,133.6 551.6,133.3 552.1,132.9 552.5,132.5 553.0,132.1 553.4,131.8 553.9,131.4 554.3,131.0 554.8,130.7 555.2,130.3 555.7,129.9 556.1,129.6 556.6,129.2 557.0,128.8 557.5,128.5 557.9,128.1 558.4,127.8 558.8,127.5 559.3,127.2 559.7,126.9 560.2,126.6 560.6,126.3 561.1,126.0 561.5,125.8 562.0,125.5 562.4,125.2 562.9,124.9 563.3,124.6 563.8,124.3 564.2,124.0 564.7,123.7 565.1,123.4 565.6,123.1 566.0,122.8 566.5,122.5 566.9,122.2 567.4,121.9 567.8,121.7 568.3,121.4 568.7,121.1 569.2,120.8 569.6,120.5 570.1,120.2 570.5,120.0 571.0,119.7 571.4,119.4 571.9,119.1 572.3,118.8 572.8,118.6 573.2,118.3 573.7,118.0 574.1,117.7 574.6,117.4 575.0,117.1 575.5,116.9 575.9,116.6 576.4,116.3 576.8,116.0 577.3,115.7 577.7,115.4 578.2,115.2 578.6,114.9 579.1,114.6 579.5,114.3 580.0,114.0 580.4,113.7 580.9,113.5 581.3,113.2 581.8,112.9 582.2,112.6 582.7,112.3 583.1,112.0 583.6,111.7 584.0,111.4 584.5,111.1 584.9,110.8 585.4,110.5 585.8,110.2 586.3,109.9 586.7,109.6 587.2,109.3 587.6,109.0 588.1,108.7 588.5,108.4 589.0,108.1 589.4,107.8 589.9,107.5 590.3,107.2 590.8,106.9 591.2,106.6 591.7,106.3 592.1,106.0 592.6,105.7 593.0,105.4 593.5,105.1 593.9,104.8 594.4,104.5 594.8,104.2 595.3,103.9 595.7,103.6 596.2,103.3 596.6,103.0 597.1,102.7 597.5,102.4 598.0,102.1 598.4,101.8 598.9,101.5 599.3,101.2 599.8,100.9 600.2,100.6 600.7,100.3 601.1,100.0 601.6,99.7 602.0,99.4 602.5,99.1 602.9,98.8 603.4,98.5 603.8,98.2 604.3,97.9 604.7,97.6 605.2,97.2 605.6,96.9 606.1,96.5 606.5,96.2 607.0,95.9 607.4,95.5 607.9,95.2 608.3,94.8 608.8,94.5 609.2,94.2 609.7,93.8 610.1,93.5 610.6,93.2 611.0,92.8 611.5,92.5 611.9,92.1 612.4,91.9 612.8,91.6 613.3,91.3 613.7,91.0 614.2,90.8 614.6,90.5 615.1,90.2 615.5,90.0 616.0,89.7 616.4,89.4 616.9,89.1 617.3,88.9 617.8,88.6 618.2,88.3 618.7,88.1 619.1,87.8 619.6,87.5 620.0,87.3 620.5,87.1 620.9,86.9 621.4,86.8 621.8,86.6 622.3,86.4 622.7,86.2 623.2,86.1 623.6,85.9 624.1,85.7 624.5,85.5 625.0,85.4 625.4,85.2 625.9,85.1 626.3,85.1 626.8,85.0 627.2,84.9 627.7,84.9 628.1,84.8 628.6,84.7 629.0,84.7 629.5,84.6 629.9,84.5 630.4,84.5 630.8,84.4 631.3,84.3 631.7,84.3 632.2,84.2 632.6,84.3 633.1,84.3 633.5,84.4 634.0,84.4 634.4,84.5 634.9,84.5 635.3,84.6 635.8,84.6 636.2,84.7 636.7,84.7 637.1,84.8 637.6,84.9 638.0,85.0 638.5,85.2 638.9,85.4 639.4,85.5 639.8,85.7 640.3,85.9 640.7,86.0 641.2,86.2 641.6,86.4 642.1,86.5 642.5,86.7 643.0,86.8 643.4,87.0 643.9,87.2 644.3,87.3 644.8,87.5 645.2,87.8 645.7,88.1 646.1,88.4 646.6,88.7 647.0,89.0 647.5,89.3 647.9,89.6 648.4,89.9 648.8,90.2 649.3,90.4 649.7,90.7 650.2,91.0 650.6,91.3 651.1,91.6 651.5,91.9 652.0,92.2 652.4,92.5 652.9,92.8 653.3,93.1 653.8,93.4 654.2,93.7 654.7,93.9 655.1,94.2 655.6,94.4 656.0,94.7 656.5,94.9 656.9,95.2 657.4,95.4 657.8,95.7 658.3,95.9 658.7,96.2 659.2,96.4 659.6,96.7 660.1,96.9 660.5,97.2 661.0,97.4 661.4,97.7 661.9,97.9 662.3,98.2 662.8,98.4 663.2,98.7 663.7,98.9 664.1,99.2 664.6,99.4 665.0,99.7 665.5,99.9 665.9,100.2 666.4,100.5 666.8,100.7 667.3,101.0 667.7,101.3 668.2,101.6 668.6,101.9 669.1,102.2 669.5,102.5 670.0,102.8 670.4,103.1 670.9,103.4 671.3,103.7 671.8,104.0 672.2,104.3 672.7,104.6 673.1,104.9 673.6,105.2 674.0,105.5 674.5,105.8 674.9,106.1 675.4,106.4 675.8,106.7 676.3,107.0 676.7,107.3 677.2,107.6 677.6,107.9 678.1,108.1 678.5,108.4 679.0,108.7 679.4,108.9 679.9,109.2 680.3,109.5 680.8,109.7 681.2,110.0 681.7,110.3 682.1,110.5 682.6,110.8 683.0,111.1 683.5,111.3 683.9,111.6 684.4,111.9 684.8,112.2 685.3,112.4 685.7,112.7 686.2,112.9 686.6,113.1 687.1,113.3 687.5,113.6 688.0,113.8 688.4,114.0 688.9,114.2 689.3,114.5 689.8,114.7 690.2,114.9 690.7,115.1 691.1,115.4 691.6,115.6 692.0,115.8 692.5,116.0 692.9,116.3 693.4,116.5 693.8,116.7 694.3,116.9 694.7,117.2 695.2,117.3 695.6,117.5 696.1,117.7 696.5,117.9 697.0,118.1 697.4,118.3 697.9,118.5 698.3,118.6 698.8,118.8 699.2,119.0 699.7,119.2 700.1,119.4 700.6,119.6 701.0,119.8 701.5,119.9 701.9,120.1 702.4,120.3 702.8,120.5 703.3,120.7 703.7,120.9 704.2,121.0 704.6,121.2 705.1,121.3 705.5,121.5 706.0,121.6 706.4,121.8 706.9,121.9 707.3,122.1 707.8,122.2 708.2,122.4 708.7,122.5 709.1,122.7 709.6,122.8 710.0,123.0 710.5,123.1 710.9,123.3 711.4,123.4 711.8,123.6 712.3,123.7 712.7,123.9 713.2,124.0 713.6,124.2 714.1,124.3 714.5,124.5 715.0,124.6 715.4,124.8 715.9,124.9 716.3,125.1 716.8,125.2 717.2,125.4 717.7,125.5 718.1,125.5 718.6,125.6 719.0,125.7 719.5,125.8 719.9,125.9 720.4,126.0 720.8,126.1 721.3,126.2 721.7,126.3 722.2,126.4 722.6,126.5 723.1,126.6 723.5,126.7 724.0,126.8 724.4,126.9 724.9,127.0 725.3,127.1 725.8,127.2 726.2,127.3 726.7,127.4 727.1,127.5 727.6,127.6 728.0,127.7 728.5,127.8 728.9,127.9 729.4,128.0 729.8,128.1 730.3,128.1 730.7,128.2 731.2,128.2 731.6,128.3 732.1,128.3 732.5,128.4 733.0,128.4 733.4,128.4 733.9,128.1 734.3,128.5 734.8,128.6 735.2,128.1 735.7,127.7 736.1,127.8 736.6,128.7 737.0,128.1 737.5,128.3 737.9,128.5 738.4,128.6 738.8,128.2 739.3,128.6 739.7,127.9 740.2,128.1 740.6,127.8 741.1,128.8 741.5,128.3 742.0,128.0 742.4,128.1 742.9,128.2 743.3,128.6 743.8,127.6 744.2,127.8 744.7,128.1 745.1,129.4 745.6,128.7 746.0,128.2 746.5,128.6 746.9,129.2 747.4,128.2 747.8,128.1 748.3,128.8 748.7,128.5 749.2,128.6 749.6,128.1 750.1,129.2 750.5,129.1 751.0,128.6 751.4,128.6 751.9,127.4 752.3,128.6 752.8,128.2 753.2,128.5 753.7,128.6 754.1,128.1 754.6,127.5 755.0,128.5 755.5,128.0 755.9,128.2 756.4,128.0 756.8,128.1 757.3,127.1 757.7,128.7 758.2,128.2 758.6,128.5 759.1,128.9 759.5,128.0 760.0,127.1 760.4,127.5 760.9,127.3 761.3,127.5 761.8,127.8 762.2,126.8 762.7,127.8 763.1,126.9 763.6,127.7 764.0,127.4 764.5,127.3 764.9,127.4 765.4,127.1 765.8,127.0 766.3,126.5 766.7,127.2 767.2,128.0 767.6,128.0 768.1,127.7 768.5,127.4 769.0,126.7 769.4,127.6 769.9,126.9 770.3,126.8 770.8,126.7 771.2,126.8 771.7,126.5 772.1,126.6 772.6,126.2 773.0,126.4 773.5,127.5 773.9,126.4 774.4,126.3 774.8,126.6 775.3,126.6 775.7,125.7 776.2,126.0 776.6,126.5 777.1,126.1 777.5,126.0 778.0,126.5 778.4,125.5 778.9,125.7 779.3,125.4 779.8,126.2 780.2,124.6 780.7,125.1 781.1,125.1 781.6,125.6 782.0,125.5 782.5,125.8 782.9,124.4 783.4,125.3 783.8,124.8 784.3,124.6 784.7,125.0 785.2,124.3 785.6,123.7 786.1,124.4 786.5,123.9 787.0,124.2 787.4,124.6 787.9,124.5 788.3,125.0 788.8,124.1 789.2,123.4 789.7,123.7 790.1,123.6 790.6,123.4 791.0,124.1 791.5,123.6 791.9,122.9 792.4,124.1 792.8,123.7 793.3,123.8 793.7,123.7 794.2,123.9 794.6,123.6 795.1,124.0 795.5,123.6 796.0,123.6 796.4,123.5 796.9,122.7 797.3,123.2 797.8,123.1 798.2,123.3 798.7,122.5 799.1,123.8 799.6,123.1 800.0,122.4 800.5,122.2 800.9,122.8 801.4,122.8 801.8,122.5 802.3,122.8 802.7,122.4 803.2,122.9 803.6,122.3 804.1,122.6 804.5,123.0 805.0,123.7 805.4,122.0 805.9,122.2 806.3,122.0 806.8,122.7 807.2,121.8 807.7,122.0 808.1,122.2 808.6,121.7 809.0,121.7 809.5,121.8 809.9,121.0 810.4,121.3 810.8,121.7 811.3,121.9 811.7,121.7 812.2,121.0 812.6,121.5 813.1,122.0 813.5,121.9 814.0,121.5 814.4,121.1 814.9,121.8 815.3,121.2 815.8,120.8 816.2,121.0 816.7,121.9 817.1,121.3 817.6,121.7 818.0,120.9 818.5,121.5 818.9,120.8 819.4,120.9 819.8,122.1 820.3,121.2 820.7,120.6 821.2,120.8 821.6,120.9 822.1,121.3 822.5,120.4 823.0,119.8 823.4,120.4 823.9,120.5 824.3,120.5 824.8,121.0 825.2,120.5 825.7,120.7 826.1,119.8 826.6,120.6 827.0,121.1 827.0,121.1 826.6,120.6 826.1,119.8 825.7,120.7 825.2,120.5 824.8,121.0 824.3,120.5 823.9,120.5 823.4,120.4 823.0,119.8 822.5,120.4 822.1,121.3 821.6,120.9 821.2,120.8 820.7,120.6 820.3,121.2 819.8,122.1 819.4,120.9 818.9,120.8 818.5,121.5 818.0,120.9 817.6,121.7 817.1,121.3 816.7,121.9 816.2,121.0 815.8,120.8 815.3,121.2 814.9,121.8 814.4,121.1 814.0,121.5 813.5,121.9 813.1,122.0 812.6,121.5 812.2,121.0 811.7,121.7 811.3,121.9 810.8,121.7 810.4,121.3 809.9,121.0 809.5,121.8 809.0,121.7 808.6,121.7 808.1,122.2 807.7,122.0 807.2,121.8 806.8,122.7 806.3,122.0 805.9,122.2 805.4,122.0 805.0,123.7 804.5,123.0 804.1,122.6 803.6,122.3 803.2,122.9 802.7,122.4 802.3,122.8 801.8,122.5 801.4,122.8 800.9,122.8 800.5,122.2 800.0,122.4 799.6,123.1 799.1,123.8 798.7,122.5 798.2,123.3 797.8,123.1 797.3,123.2 796.9,122.7 796.4,123.5 796.0,123.6 795.5,123.6 795.1,124.0 794.6,123.6 794.2,123.9 793.7,123.7 793.3,123.8 792.8,123.7 792.4,124.1 791.9,122.9 791.5,123.6 791.0,124.1 790.6,123.4 790.1,123.6 789.7,123.7 789.2,123.4 788.8,124.1 788.3,125.0 787.9,124.5 787.4,124.6 787.0,124.2 786.5,123.9 786.1,124.4 785.6,123.7 785.2,124.3 784.7,125.0 784.3,124.6 783.8,124.8 783.4,125.3 782.9,124.4 782.5,125.8 782.0,125.5 781.6,125.6 781.1,125.1 780.7,125.1 780.2,124.6 779.8,126.2 779.3,125.4 778.9,125.7 778.4,125.5 778.0,126.5 777.5,126.0 777.1,126.1 776.6,126.5 776.2,126.0 775.7,125.7 775.3,126.6 774.8,126.6 774.4,126.3 773.9,126.4 773.5,127.5 773.0,126.4 772.6,126.2 772.1,126.6 771.7,126.5 771.2,126.8 770.8,126.7 770.3,126.8 769.9,126.9 769.4,127.6 769.0,126.7 768.5,127.4 768.1,127.7 767.6,128.0 767.2,128.0 766.7,127.2 766.3,126.5 765.8,127.0 765.4,127.1 764.9,127.4 764.5,127.3 764.0,127.4 763.6,127.7 763.1,126.9 762.7,127.8 762.2,126.8 761.8,127.8 761.3,127.5 760.9,127.3 760.4,127.5 760.0,127.1 759.5,128.0 759.1,128.9 758.6,128.5 758.2,128.2 757.7,128.7 757.3,127.1 756.8,128.1 756.4,128.0 755.9,128.2 755.5,128.0 755.0,128.5 754.6,127.5 754.1,128.1 753.7,128.6 753.2,128.5 752.8,128.2 752.3,128.6 751.9,127.4 751.4,128.6 751.0,128.6 750.5,129.1 750.1,129.2 749.6,128.1 749.2,128.6 748.7,128.5 748.3,128.8 747.8,128.1 747.4,128.2 746.9,129.2 746.5,128.6 746.0,128.2 745.6,128.7 745.1,129.4 744.7,128.1 744.2,127.8 743.8,127.6 743.3,128.6 742.9,128.2 742.4,128.1 742.0,128.0 741.5,128.3 741.1,128.8 740.6,127.8 740.2,128.1 739.7,127.9 739.3,128.6 738.8,128.2 738.4,128.6 737.9,128.5 737.5,128.3 737.0,128.1 736.6,128.7 736.1,127.8 735.7,127.7 735.2,128.1 734.8,128.7 734.3,128.6 733.9,128.1 733.4,128.5 733.0,129.3 732.5,128.7 732.1,128.6 731.6,129.5 731.2,129.6 730.7,129.2 730.3,128.5 729.8,128.4 729.4,129.1 728.9,128.6 728.5,128.8 728.0,128.3 727.6,128.9 727.1,129.1 726.7,128.5 726.2,128.9 725.8,128.5 725.3,128.5 724.9,129.4 724.4,128.8 724.0,129.4 723.5,128.7 723.1,129.2 722.6,129.2 722.2,129.5 721.7,128.4 721.3,128.8 720.8,129.4 720.4,128.9 719.9,128.7 719.5,130.0 719.0,130.0 718.6,129.6 718.1,129.7 717.7,129.5 717.2,130.7 716.8,130.1 716.3,130.8 715.9,130.4 715.4,130.3 715.0,130.4 714.5,131.4 714.1,131.1 713.6,130.7 713.2,130.6 712.7,131.3 712.3,131.2 711.8,131.3 711.4,131.7 710.9,132.1 710.5,131.7 710.0,131.7 709.6,131.5 709.1,130.5 708.7,132.2 708.2,131.9 707.8,131.8 707.3,132.3 706.9,132.7 706.4,132.2 706.0,131.5 705.5,132.2 705.1,132.5 704.6,132.7 704.2,132.2 703.7,133.2 703.3,133.2 702.8,133.5 702.4,132.7 701.9,133.1 701.5,133.8 701.0,133.6 700.6,134.0 700.1,134.4 699.7,134.4 699.2,134.6 698.8,134.3 698.3,134.1 697.9,135.1 697.4,134.8 697.0,135.1 696.5,135.2 696.1,134.9 695.6,134.7 695.2,135.3 694.7,135.5 694.3,136.4 693.8,136.6 693.4,136.1 692.9,135.9 692.5,136.8 692.0,136.1 691.6,135.9 691.1,136.0 690.7,137.0 690.2,135.8 689.8,137.0 689.3,137.5 688.9,136.5 688.4,137.4 688.0,137.8 687.5,137.9 687.1,137.7 686.6,136.9 686.2,137.7 685.7,137.9 685.3,138.1 684.8,137.7 684.4,137.6 683.9,138.1 683.5,137.3 683.0,136.4 682.6,135.8 682.1,134.0 681.7,134.2 681.2,133.0 680.8,132.3 680.3,131.7 679.9,130.9 679.4,129.4 679.0,129.0 678.5,127.9 678.1,127.1 677.6,125.9 677.2,125.2 676.7,124.3 676.3,123.5 675.8,122.8 675.4,122.1 674.9,120.5 674.5,120.6 674.0,119.8 673.6,118.8 673.1,118.8 672.7,117.4 672.2,117.4 671.8,116.8 671.3,115.9 670.9,115.4 670.4,114.5 670.0,114.0 669.5,113.7 669.1,113.2 668.6,112.7 668.2,112.6 667.7,111.5 667.3,111.6 666.8,110.9 666.4,110.9 665.9,111.5 665.5,111.5 665.0,112.1 664.6,113.4 664.1,113.5 663.7,113.4 663.2,114.1 662.8,114.3 662.3,115.4 661.9,116.1 661.4,116.6 661.0,117.0 660.5,116.9 660.1,117.9 659.6,118.6 659.2,119.5 658.7,119.9 658.3,118.9 657.8,118.8 657.4,119.5 656.9,119.3 656.5,120.4 656.0,119.6 655.6,120.4 655.1,119.1 654.7,121.1 654.2,120.5 653.8,120.1 653.3,120.5 652.9,121.4 652.4,121.3 652.0,120.4 651.5,120.5 651.1,120.3 650.6,120.5 650.2,121.9 649.7,121.0 649.3,121.1 648.8,121.0 648.4,121.1 647.9,120.9 647.5,121.8 647.0,120.2 646.6,120.3 646.1,120.1 645.7,120.5 645.2,119.6 644.8,119.9 644.3,119.0 643.9,118.7 643.4,118.9 643.0,118.0 642.5,117.8 642.1,117.2 641.6,116.2 641.2,116.6 640.7,115.3 640.3,113.7 639.8,113.2 639.4,113.1 638.9,111.1 638.5,111.0 638.0,109.7 637.6,109.6 637.1,108.3 636.7,107.4 636.2,106.0 635.8,105.9 635.3,106.0 634.9,105.4 634.4,105.6 634.0,104.8 633.5,105.2 633.1,106.1 632.6,106.2 632.2,107.8 631.7,107.5 631.3,108.7 630.8,108.4 630.4,109.2 629.9,110.1 629.5,110.2 629.0,112.1 628.6,112.4 628.1,112.7 627.7,113.6 627.2,114.7 626.8,115.2 626.3,116.1 625.9,117.2 625.4,117.9 625.0,118.8 624.5,119.4 624.1,121.0 623.6,122.2 623.2,122.0 622.7,123.9 622.3,124.2 621.8,124.5 621.4,126.1 620.9,126.5 620.5,128.3 620.0,128.3 619.6,130.3 619.1,129.5 618.7,130.6 618.2,131.4 617.8,132.9 617.3,133.2 616.9,134.3 616.4,133.5 616.0,135.2 615.5,136.0 615.1,135.9 614.6,136.5 614.2,137.8 613.7,138.7 613.3,138.4 612.8,139.0 612.4,139.3 611.9,139.2 611.5,139.1 611.0,140.7 610.6,140.6 610.1,140.8 609.7,141.3 609.2,140.2 608.8,140.1 608.3,140.5 607.9,140.4 607.4,140.4 607.0,140.6 606.5,140.0 606.1,140.6 605.6,140.5 605.2,140.4 604.7,139.3 604.3,139.8 603.8,139.1 603.4,139.5 602.9,139.4 602.5,138.8 602.0,138.9 601.6,139.2 601.1,140.0 600.7,139.3 600.2,138.8 599.8,139.1 599.3,138.5 598.9,139.3 598.4,139.8 598.0,139.9 597.5,139.0 597.1,138.8 596.6,140.0 596.2,139.1 595.7,140.0 595.3,140.3 594.8,141.0 594.4,140.4 593.9,140.2 593.5,140.5 593.0,140.4 592.6,140.4 592.1,140.7 591.7,140.8 591.2,140.7 590.8,141.0 590.3,140.7 589.9,140.6 589.4,140.6 589.0,141.5 588.5,141.8 588.1,141.1 587.6,140.5 587.2,140.9 586.7,141.1 586.3,142.1 585.8,141.5 585.4,141.4 584.9,142.0 584.5,141.9 584.0,141.0 583.6,142.0 583.1,141.0 582.7,140.9 582.2,141.7 581.8,141.1 581.3,141.5 580.9,141.5 580.4,142.5 580.0,141.9 579.5,141.2 579.1,141.7 578.6,141.8 578.2,141.5 577.7,141.7 577.3,142.5 576.8,142.1 576.4,141.6 575.9,142.3 575.5,141.6 575.0,141.9 574.6,141.3 574.1,142.1 573.7,142.0 573.2,142.0 572.8,142.0 572.3,142.6 571.9,142.2 571.4,141.7 571.0,142.1 570.5,142.3 570.1,142.6 569.6,143.1 569.2,142.1 568.7,142.2 568.3,142.4 567.8,142.7 567.4,143.2 566.9,142.6 566.5,142.5 566.0,142.5 565.6,142.7 565.1,142.7 564.7,143.0 564.2,143.1 563.8,143.2 563.3,143.5 562.9,142.0 562.4,142.7 562.0,142.6 561.5,143.6 561.1,142.9 560.6,143.1 560.2,143.5 559.7,142.9 559.3,142.9 558.8,142.5 558.4,143.0 557.9,143.0 557.5,143.1 557.0,141.8 556.6,143.2 556.1,143.4 555.7,142.8 555.2,143.7 554.8,143.8 554.3,142.4 553.9,143.0 553.4,143.0 553.0,142.5 552.5,143.5 552.1,142.7 551.6,143.3 551.2,142.6 550.7,143.1 550.3,143.3 549.8,143.4 549.4,143.1 548.9,143.0 548.5,143.1 548.0,143.1 547.6,143.6 547.1,142.6 546.7,142.5 546.2,143.1 545.8,143.7 545.3,142.8 544.9,141.6 544.4,142.2 544.0,142.8 543.5,142.1 543.1,143.1 542.6,143.6 542.2,142.9 541.7,143.1 541.3,143.0 540.8,143.4 540.4,142.9 539.9,142.4 539.5,143.1 539.0,143.0 538.6,143.5 538.1,142.5 537.7,144.0 537.2,143.2 536.8,143.3 536.3,142.7 535.9,143.2 535.4,142.7 535.0,142.7 534.5,142.8 534.1,142.7 533.6,143.3 533.2,143.1 532.7,143.3 532.3,142.4 531.8,142.7 531.4,143.0 530.9,142.4 530.5,142.7 530.0,143.1 529.6,143.0 529.1,143.1 528.7,143.2 528.2,142.2 527.8,142.4 527.3,143.5 526.9,143.1 526.4,142.7 526.0,143.5 525.5,142.4 525.1,142.6 524.6,143.8 524.2,144.0 523.7,143.5 523.3,143.4 522.8,143.5 522.4,142.6 521.9,143.8 521.5,142.9 521.0,143.6 520.6,143.5 520.1,143.5 519.7,143.4 519.2,143.1 518.8,143.6 518.3,143.6 517.9,142.5 517.4,142.9 517.0,143.3 516.5,143.5 516.1,143.7 515.6,143.2 515.2,143.1 514.7,143.0 514.3,143.5 513.8,143.0 513.4,143.0 512.9,143.2 512.5,143.3 512.0,143.0 511.6,143.8 511.1,142.6 510.7,142.7 510.2,143.1 509.8,142.9 509.3,143.3 508.9,142.7 508.4,143.0 508.0,142.9 507.5,143.2 507.1,142.0 506.6,142.5 506.2,142.6 505.7,142.0 505.3,143.2 504.8,142.7 504.4,141.7 503.9,141.5 503.5,142.1 503.0,140.6 502.6,139.9 502.1,140.0 501.7,139.3 501.2,138.6 500.8,137.4 500.3,136.7 499.9,135.6 499.4,135.1 499.0,134.6 498.5,133.2 498.1,132.9 497.6,130.8 497.2,130.2 496.7,129.2 496.3,128.6 495.8,127.6 495.4,127.8 494.9,126.3 494.5,126.1 494.1,125.5 493.6,125.1" fill="#dcc7f5"/>
<polygon points="493.6,125.1 494.1,125.5 494.5,126.1 494.9,126.3 495.4,127.8 495.8,127.6 496.3,128.6 496.7,129.2 497.2,130.2 497.6,130.8 498.1,132.9 498.5,133.2 499.0,134.6 499.4,135.1 499.9,135.6 500.3,136.7 500.8,137.4 501.2,138.6 501.7,139.3 502.1,140.0 502.6,139.9 503.0,140.6 503.5,142.1 503.9,141.5 504.4,141.7 504.8,142.7 505.3,143.2 505.7,142.0 506.2,142.6 506.6,142.5 507.1,142.0 507.5,143.2 508.0,142.9 508.4,142.6 508.9,142.0 509.3,141.4 509.8,140.8 510.2,139.8 510.7,138.4 511.1,137.1 511.6,135.7 512.0,134.3 512.5,132.6 512.9,130.9 513.4,129.2 513.8,127.5 514.3,127.5 514.7,129.2 515.2,131.1 515.6,133.0 516.1,134.7 516.5,135.6 517.0,136.5 517.4,137.4 517.9,138.3 518.3,138.6 518.8,138.8 519.2,139.0 519.7,139.1 520.1,139.3 520.6,139.5 521.0,139.6 521.5,139.8 521.9,140.0 522.4,140.0 522.8,140.0 523.3,140.0 523.7,140.0 524.2,140.0 524.6,140.0 525.1,140.0 525.5,140.0 526.0,140.0 526.4,140.0 526.9,140.0 527.3,140.0 527.8,140.0 528.2,140.0 528.7,140.0 529.1,140.0 529.6,140.0 530.0,140.0 530.5,140.0 530.9,140.0 531.4,139.9 531.8,139.9 532.3,139.9 532.7,139.9 533.2,139.8 533.6,139.8 534.1,139.8 534.5,139.8 535.0,139.8 535.4,139.7 535.9,139.7 536.3,139.7 536.8,139.7 537.2,139.6 537.7,139.6 538.1,139.6 538.6,139.6 539.0,139.5 539.5,139.5 539.9,139.5 540.4,139.4 540.8,139.2 541.3,139.1 541.7,138.9 542.2,138.8 542.6,138.6 543.1,138.5 543.5,138.3 544.0,138.2 544.4,138.0 544.9,137.9 545.3,137.7 545.8,137.6 546.2,137.3 546.7,136.8 547.1,136.4 547.6,135.9 548.0,135.5 548.5,135.0 548.9,134.6 549.4,134.1 549.8,133.7 550.3,133.3 550.7,132.9 551.2,132.5 551.6,132.2 552.1,131.8 552.5,131.4 553.0,131.0 553.4,130.7 553.9,130.3 554.3,129.9 554.8,129.6 555.2,129.2 555.7,128.8 556.1,128.5 556.6,128.1 557.0,127.7 557.5,127.4 557.9,127.0 558.4,127.0 558.8,126.5 559.3,126.9 559.7,126.9 560.2,127.5 560.6,127.1 561.1,126.9 561.5,127.6 562.0,126.6 562.4,126.7 562.9,126.0 563.3,127.5 563.8,127.2 564.2,127.1 564.7,127.0 565.1,126.7 565.6,126.7 566.0,126.5 566.5,126.5 566.9,126.6 567.4,127.2 567.8,126.7 568.3,126.4 568.7,126.2 569.2,126.1 569.6,127.1 570.1,126.6 570.5,126.3 571.0,126.1 571.4,125.7 571.9,126.2 572.3,126.6 572.8,126.0 573.2,126.0 573.7,126.0 574.1,126.1 574.6,125.3 575.0,125.9 575.5,125.6 575.9,126.3 576.4,125.6 576.8,126.1 577.3,126.5 577.7,125.7 578.2,125.5 578.6,125.8 579.1,125.7 579.5,125.2 580.0,125.9 580.4,126.5 580.9,125.5 581.3,125.5 581.8,125.1 582.2,125.7 582.7,124.9 583.1,125.0 583.6,126.0 584.0,125.0 584.5,125.9 584.9,126.0 585.4,125.4 585.8,125.5 586.3,126.1 586.7,125.1 587.2,124.9 587.6,124.5 588.1,125.1 588.5,125.8 589.0,125.5 589.4,124.6 589.9,124.6 590.3,124.7 590.8,125.0 591.2,124.7 591.7,124.8 592.1,124.7 592.6,124.4 593.0,124.4 593.5,124.5 593.9,124.2 594.4,124.4 594.8,125.0 595.3,124.3 595.7,124.0 596.2,123.1 596.6,124.0 597.1,122.8 597.5,123.0 598.0,123.9 598.4,123.8 598.9,123.3 599.3,122.5 599.8,123.1 600.2,122.8 600.7,123.3 601.1,124.0 601.6,123.2 602.0,122.9 602.5,122.8 602.9,123.4 603.4,123.5 603.8,123.1 604.3,123.8 604.7,123.3 605.2,124.4 605.6,124.5 606.1,124.6 606.5,124.0 607.0,124.6 607.4,124.4 607.9,124.4 608.3,124.5 608.8,124.1 609.2,124.2 609.7,125.3 610.1,124.8 610.6,124.6 611.0,124.7 611.5,123.1 611.9,123.2 612.4,123.3 612.8,123.0 613.3,122.4 613.7,122.7 614.2,121.8 614.6,120.5 615.1,119.9 615.5,120.0 616.0,119.2 616.4,117.5 616.9,118.3 617.3,117.2 617.8,116.9 618.2,115.4 618.7,114.6 619.1,113.5 619.6,114.3 620.0,112.3 620.5,112.3 620.9,110.5 621.4,110.1 621.8,108.5 622.3,108.2 622.7,107.9 623.2,106.0 623.6,106.2 624.1,105.0 624.5,103.4 625.0,102.8 625.4,101.9 625.9,101.2 626.3,100.1 626.8,99.2 627.2,98.7 627.7,97.6 628.1,96.7 628.6,96.4 629.0,96.1 629.5,94.2 629.9,94.1 630.4,93.2 630.8,92.4 631.3,92.7 631.7,91.5 632.2,91.8 632.6,90.2 633.1,90.1 633.5,89.2 634.0,88.8 634.4,89.6 634.9,89.4 635.3,90.0 635.8,89.9 636.2,90.0 636.7,91.4 637.1,92.3 637.6,93.6 638.0,93.7 638.5,95.0 638.9,95.1 639.4,97.1 639.8,97.2 640.3,97.7 640.7,99.3 641.2,100.6 641.6,100.2 642.1,101.2 642.5,101.8 643.0,102.0 643.4,102.9 643.9,102.7 644.3,103.0 644.8,103.9 645.2,103.6 645.7,104.5 646.1,104.1 646.6,104.3 647.0,104.2 647.5,105.8 647.9,104.9 648.4,105.1 648.8,105.0 649.3,105.1 649.7,105.0 650.2,105.9 650.6,104.5 651.1,104.3 651.5,104.5 652.0,104.4 652.4,105.3 652.9,105.4 653.3,104.5 653.8,104.1 654.2,104.5 654.7,105.1 655.1,103.1 655.6,104.4 656.0,103.6 656.5,104.4 656.9,103.3 657.4,103.5 657.8,102.8 658.3,102.9 658.7,103.9 659.2,103.5 659.6,102.6 660.1,101.9 660.5,100.9 661.0,101.0 661.4,100.6 661.9,100.1 662.3,99.4 662.8,98.3 663.2,98.1 663.7,97.8 664.1,98.1 664.6,98.3 665.0,98.6 665.5,98.8 665.9,99.1 666.4,99.4 666.8,99.6 667.3,99.9 667.7,100.2 668.2,100.5 668.6,100.8 669.1,101.1 669.5,101.4 670.0,101.7 670.4,102.0 670.9,102.3 671.3,102.6 671.8,102.9 672.2,103.2 672.7,103.5 673.1,103.8 673.6,104.1 674.0,104.4 674.5,104.7 674.9,105.0 675.4,106.1 675.8,106.8 676.3,107.5 676.7,108.3 677.2,109.2 677.6,109.9 678.1,111.1 678.5,111.9 679.0,113.0 679.4,113.4 679.9,114.9 680.3,115.7 680.8,116.3 681.2,117.0 681.7,118.2 682.1,118.0 682.6,119.8 683.0,120.4 683.5,121.3 683.9,122.1 684.4,121.6 684.8,121.7 685.3,122.1 685.7,121.9 686.2,121.7 686.6,120.9 687.1,121.7 687.5,121.9 688.0,121.8 688.4,121.4 688.9,120.5 689.3,121.5 689.8,121.0 690.2,119.8 690.7,121.0 691.1,120.0 691.6,119.9 692.0,120.1 692.5,120.8 692.9,119.9 693.4,120.1 693.8,120.6 694.3,120.4 694.7,119.5 695.2,119.3 695.6,118.7 696.1,118.9 696.5,119.2 697.0,119.1 697.4,118.8 697.9,119.1 698.3,118.1 698.8,118.3 699.2,118.6 699.7,118.4 700.1,118.4 700.6,118.5 701.0,118.7 701.5,118.8 701.9,119.0 702.4,119.2 702.8,119.4 703.3,119.6 703.7,119.8 704.2,119.9 704.6,120.1 705.1,120.2 705.5,120.4 706.0,120.5 706.4,120.7 706.9,120.8 707.3,121.0 707.8,121.1 708.2,121.3 708.7,121.4 709.1,121.6 709.6,121.7 710.0,121.9 710.5,122.0 710.9,122.2 711.4,122.3 711.8,122.5 712.3,122.6 712.7,122.8 713.2,122.9 713.6,123.1 714.1,123.2 714.5,123.4 715.0,123.5 715.4,123.7 715.9,123.8 716.3,124.0 716.8,124.1 717.2,124.3 717.7,124.4 718.1,124.4 718.6,124.5 719.0,124.6 719.5,124.7 719.9,124.8 720.4,124.9 720.8,125.0 721.3,125.1 721.7,125.2 722.2,125.3 722.6,125.4 723.1,125.5 723.5,125.6 724.0,125.7 724.4,125.8 724.9,125.9 725.3,126.0 725.8,126.1 726.2,126.2 726.7,126.3 727.1,126.4 727.6,126.5 728.0,126.6 728.5,126.7 728.9,126.8 729.4,126.9 729.8,127.0 730.3,127.0 730.7,127.1 731.2,127.1 731.6,127.2 732.1,127.2 732.5,127.3 733.0,127.3 733.4,127.3 733.9,127.4 734.3,127.4 734.8,127.5 735.2,127.5 735.7,127.6 736.1,127.6 736.6,127.7 737.0,127.7 737.5,127.7 737.9,127.8 738.4,127.8 738.8,127.9 739.3,127.9 739.7,127.9 740.2,128.0 740.6,127.8 741.1,128.1 741.5,128.2 742.0,128.0 742.4,128.1 742.9,128.2 743.3,128.3 743.8,127.6 744.2,127.8 744.7,128.1 745.1,128.5 745.6,128.5 746.0,128.2 746.5,128.5 746.9,128.5 747.4,128.2 747.8,128.1 748.3,128.6 748.7,128.5 749.2,128.6 749.6,128.1 750.1,128.6 750.5,128.6 751.0,128.6 751.4,128.6 751.9,127.4 752.3,128.6 752.8,128.2 753.2,128.5 753.7,128.6 754.1,128.1 754.6,127.5 755.0,128.5 755.5,128.0 755.9,128.2 756.4,128.0 756.8,128.1 757.3,127.1 757.7,128.7 758.2,128.2 758.6,128.5 759.1,128.8 759.5,128.0 760.0,127.1 760.4,127.5 760.9,127.3 761.3,127.5 761.8,127.8 762.2,126.8 762.7,127.8 763.1,126.9 763.6,127.7 764.0,127.4 764.5,127.3 764.9,127.4 765.4,127.1 765.8,127.0 766.3,126.5 766.7,127.2 767.2,128.0 767.6,128.0 768.1,127.7 768.5,127.4 769.0,126.7 769.4,127.6 769.9,126.9 770.3,126.8 770.8,126.7 771.2,126.8 771.7,126.5 772.1,126.6 772.6,126.2 773.0,126.4 773.5,127.4 773.9,126.4 774.4,126.3 774.8,126.6 775.3,126.6 775.7,125.7 776.2,126.0 776.6,126.5 777.1,126.1 777.5,126.0 778.0,126.5 778.4,125.5 778.9,125.7 779.3,125.4 779.8,126.2 780.2,124.6 780.7,125.1 781.1,125.1 781.6,125.6 782.0,125.5 782.5,125.8 782.9,124.4 783.4,125.3 783.8,124.8 784.3,124.6 784.7,125.0 785.2,124.3 785.6,123.7 786.1,124.4 786.5,123.9 787.0,124.2 787.4,124.6 787.9,124.5 788.3,125.0 788.8,124.1 789.2,123.4 789.7,123.7 790.1,123.6 790.6,123.4 791.0,124.1 791.5,123.6 791.9,122.9 792.4,124.1 792.8,123.7 793.3,123.8 793.7,123.7 794.2,123.9 794.6,123.6 795.1,124.0 795.5,123.6 796.0,123.6 796.4,123.5 796.9,122.7 797.3,123.2 797.8,123.1 798.2,123.3 798.7,122.5 799.1,123.8 799.6,123.1 800.0,122.4 800.5,122.2 800.9,122.8 801.4,122.8 801.8,122.5 802.3,122.8 802.7,122.4 803.2,122.9 803.6,122.3 804.1,122.6 804.5,123.0 805.0,123.7 805.4,122.0 805.9,122.2 806.3,122.0 806.8,122.7 807.2,121.8 807.7,122.0 808.1,122.2 808.6,121.7 809.0,121.7 809.5,121.8 809.9,121.0 810.4,121.3 810.8,121.7 811.3,121.9 811.7,121.7 812.2,121.0 812.6,121.5 813.1,122.0 813.5,121.9 814.0,121.5 814.4,121.1 814.9,121.8 815.3,121.2 815.8,120.8 816.2,121.0 816.7,121.9 817.1,121.3 817.6,121.7 818.0,120.9 818.5,121.5 818.9,120.8 819.4,120.9 819.8,122.1 820.3,121.2 820.7,120.6 821.2,120.8 821.6,120.9 822.1,121.3 822.5,120.4 823.0,119.8 823.4,120.4 823.9,120.5 824.3,120.5 824.8,121.0 825.2,120.5 825.7,120.7 826.1,119.8 826.6,120.6 827.0,121.1 827.0,121.1 826.6,120.6 826.1,119.8 825.7,120.7 825.2,120.5 824.8,121.0 824.3,120.5 823.9,120.5 823.4,120.4 823.0,119.8 822.5,120.4 822.1,121.3 821.6,120.9 821.2,120.8 820.7,120.6 820.3,121.2 819.8,122.1 819.4,120.9 818.9,120.8 818.5,121.5 818.0,120.9 817.6,121.7 817.1,121.3 816.7,121.9 816.2,121.0 815.8,120.8 815.3,121.2 814.9,121.8 814.4,121.1 814.0,121.5 813.5,121.9 813.1,122.0 812.6,121.5 812.2,121.0 811.7,121.7 811.3,121.9 810.8,121.7 810.4,121.3 809.9,121.0 809.5,121.8 809.0,121.7 808.6,121.7 808.1,122.2 807.7,122.0 807.2,121.8 806.8,122.7 806.3,122.0 805.9,122.2 805.4,122.0 805.0,123.7 804.5,123.0 804.1,122.6 803.6,122.3 803.2,122.9 802.7,122.4 802.3,122.8 801.8,122.5 801.4,122.8 800.9,122.8 800.5,122.2 800.0,122.4 799.6,123.1 799.1,123.8 798.7,122.5 798.2,123.3 797.8,123.1 797.3,123.2 796.9,122.7 796.4,123.5 796.0,123.6 795.5,123.6 795.1,124.0 794.6,123.6 794.2,123.9 793.7,123.7 793.3,123.8 792.8,123.7 792.4,124.1 791.9,122.9 791.5,123.6 791.0,124.1 790.6,123.4 790.1,123.6 789.7,123.7 789.2,123.4 788.8,124.1 788.3,125.0 787.9,124.5 787.4,124.6 787.0,124.2 786.5,123.9 786.1,124.4 785.6,123.7 785.2,124.3 784.7,125.0 784.3,124.6 783.8,124.8 783.4,125.3 782.9,124.4 782.5,125.8 782.0,125.5 781.6,125.6 781.1,125.1 780.7,125.1 780.2,124.6 779.8,126.2 779.3,125.4 778.9,125.7 778.4,125.5 778.0,126.5 777.5,126.0 777.1,126.1 776.6,126.5 776.2,126.0 775.7,125.7 775.3,126.6 774.8,126.6 774.4,126.3 773.9,126.4 773.5,127.5 773.0,126.4 772.6,126.2 772.1,126.6 771.7,126.5 771.2,126.8 770.8,126.7 770.3,126.8 769.9,126.9 769.4,127.6 769.0,126.7 768.5,127.4 768.1,127.7 767.6,128.0 767.2,128.0 766.7,127.2 766.3,126.5 765.8,127.0 765.4,127.1 764.9,127.4 764.5,127.3 764.0,127.4 763.6,127.7 763.1,126.9 762.7,127.8 762.2,126.8 761.8,127.8 761.3,127.5 760.9,127.3 760.4,127.5 760.0,127.1 759.5,128.0 759.1,128.9 758.6,128.5 758.2,128.2 757.7,128.7 757.3,127.1 756.8,128.1 756.4,128.0 755.9,128.2 755.5,128.0 755.0,128.5 754.6,127.5 754.1,128.1 753.7,128.6 753.2,128.5 752.8,128.2 752.3,128.6 751.9,127.4 751.4,128.6 751.0,128.6 750.5,129.1 750.1,129.2 749.6,128.1 749.2,128.6 748.7,128.5 748.3,128.8 747.8,128.1 747.4,128.2 746.9,129.2 746.5,128.6 746.0,128.2 745.6,128.7 745.1,129.4 744.7,128.1 744.2,127.8 743.8,127.6 743.3,128.6 742.9,128.2 742.4,128.1 742.0,128.0 741.5,128.3 741.1,128.8 740.6,127.8 740.2,128.1 739.7,127.9 739.3,128.6 738.8,128.2 738.4,128.6 737.9,128.5 737.5,128.3 737.0,128.1 736.6,128.7 736.1,127.8 735.7,127.7 735.2,128.1 734.8,128.7 734.3,128.6 733.9,128.1 733.4,128.5 733.0,129.3 732.5,128.7 732.1,128.6 731.6,129.5 731.2,129.6 730.7,129.2 730.3,128.5 729.8,128.4 729.4,129.1 728.9,128.6 728.5,128.8 728.0,128.3 727.6,128.9 727.1,129.1 726.7,128.5 726.2,128.9 725.8,128.5 725.3,128.5 724.9,129.4 724.4,128.8 724.0,129.4 723.5,128.7 723.1,129.2 722.6,129.2 722.2,129.5 721.7,128.4 721.3,128.8 720.8,129.4 720.4,128.9 719.9,128.7 719.5,130.0 719.0,130.0 718.6,129.6 718.1,129.7 717.7,129.5 717.2,130.7 716.8,130.1 716.3,130.8 715.9,130.4 715.4,130.3 715.0,130.4 714.5,131.4 714.1,131.1 713.6,130.7 713.2,130.6 712.7,131.3 712.3,131.2 711.8,131.3 711.4,131.7 710.9,132.1 710.5,131.7 710.0,131.7 709.6,131.5 709.1,130.5 708.7,132.2 708.2,131.9 707.8,131.8 707.3,132.3 706.9,132.7 706.4,132.2 706.0,131.5 705.5,132.2 705.1,132.5 704.6,132.7 704.2,132.2 703.7,133.2 703.3,133.2 702.8,133.5 702.4,132.7 701.9,133.1 701.5,133.8 701.0,133.6 700.6,134.0 700.1,134.4 699.7,134.4 699.2,134.6 698.8,134.3 698.3,134.1 697.9,135.1 697.4,134.8 697.0,135.1 696.5,135.2 696.1,134.9 695.6,134.7 695.2,135.3 694.7,135.5 694.3,136.4 693.8,136.6 693.4,136.1 692.9,135.9 692.5,136.8 692.0,136.1 691.6,135.9 691.1,136.0 690.7,137.0 690.2,135.8 689.8,137.0 689.3,137.5 688.9,136.5 688.4,137.4 688.0,137.8 687.5,137.9 687.1,137.7 686.6,136.9 686.2,137.7 685.7,137.9 685.3,138.1 684.8,137.7 684.4,137.6 683.9,138.1 683.5,137.3 683.0,136.4 682.6,135.8 682.1,134.0 681.7,134.2 681.2,133.0 680.8,132.3 680.3,131.7 679.9,130.9 679.4,129.4 679.0,129.0 678.5,127.9 678.1,127.1 677.6,125.9 677.2,125.2 676.7,124.3 676.3,123.5 675.8,122.8 675.4,122.1 674.9,120.5 674.5,120.6 674.0,119.8 673.6,118.8 673.1,118.8 672.7,117.4 672.2,117.4 671.8,116.8 671.3,115.9 670.9,115.4 670.4,114.5 670.0,114.0 669.5,113.7 669.1,113.2 668.6,112.7 668.2,112.6 667.7,111.5 667.3,111.6 666.8,110.9 666.4,110.9 665.9,111.5 665.5,111.5 665.0,112.1 664.6,113.4 664.1,113.5 663.7,113.4 663.2,114.1 662.8,114.3 662.3,115.4 661.9,116.1 661.4,116.6 661.0,117.0 660.5,116.9 660.1,117.9 659.6,118.6 659.2,119.5 658.7,119.9 658.3,118.9 657.8,118.8 657.4,119.5 656.9,119.3 656.5,120.4 656.0,119.6 655.6,120.4 655.1,119.1 654.7,121.1 654.2,120.5 653.8,120.1 653.3,120.5 652.9,121.4 652.4,121.3 652.0,120.4 651.5,120.5 651.1,120.3 650.6,120.5 650.2,121.9 649.7,121.0 649.3,121.1 648.8,121.0 648.4,121.1 647.9,120.9 647.5,121.8 647.0,120.2 646.6,120.3 646.1,120.1 645.7,120.5 645.2,119.6 644.8,119.9 644.3,119.0 643.9,118.7 643.4,118.9 643.0,118.0 642.5,117.8 642.1,117.2 641.6,116.2 641.2,116.6 640.7,115.3 640.3,113.7 639.8,113.2 639.4,113.1 638.9,111.1 638.5,111.0 638.0,109.7 637.6,109.6 637.1,108.3 636.7,107.4 636.2,106.0 635.8,105.9 635.3,106.0 634.9,105.4 634.4,105.6 634.0,104.8 633.5,105.2 633.1,106.1 632.6,106.2 632.2,107.8 631.7,107.5 631.3,108.7 630.8,108.4 630.4,109.2 629.9,110.1 629.5,110.2 629.0,112.1 628.6,112.4 628.1,112.7 627.7,113.6 627.2,114.7 626.8,115.2 626.3,116.1 625.9,117.2 625.4,117.9 625.0,118.8 624.5,119.4 624.1,121.0 623.6,122.2 623.2,122.0 622.7,123.9 622.3,124.2 621.8,124.5 621.4,126.1 620.9,126.5 620.5,128.3 620.0,128.3 619.6,130.3 619.1,129.5 618.7,130.6 618.2,131.4 617.8,132.9 617.3,133.2 616.9,134.3 616.4,133.5 616.0,135.2 615.5,136.0 615.1,135.9 614.6,136.5 614.2,137.8 613.7,138.7 613.3,138.4 612.8,139.0 612.4,139.3 611.9,139.2 611.5,139.1 611.0,140.7 610.6,140.6 610.1,140.8 609.7,141.3 609.2,140.2 608.8,140.1 608.3,140.5 607.9,140.4 607.4,140.4 607.0,140.6 606.5,140.0 606.1,140.6 605.6,140.5 605.2,140.4 604.7,139.3 604.3,139.8 603.8,139.1 603.4,139.5 602.9,139.4 602.5,138.8 602.0,138.9 601.6,139.2 601.1,140.0 600.7,139.3 600.2,138.8 599.8,139.1 599.3,138.5 598.9,139.3 598.4,139.8 598.0,139.9 597.5,139.0 597.1,138.8 596.6,140.0 596.2,139.1 595.7,140.0 595.3,140.3 594.8,141.0 594.4,140.4 593.9,140.2 593.5,140.5 593.0,140.4 592.6,140.4 592.1,140.7 591.7,140.8 591.2,140.7 590.8,141.0 590.3,140.7 589.9,140.6 589.4,140.6 589.0,141.5 588.5,141.8 588.1,141.1 587.6,140.5 587.2,140.9 586.7,141.1 586.3,142.1 585.8,141.5 585.4,141.4 584.9,142.0 584.5,141.9 584.0,141.0 583.6,142.0 583.1,141.0 582.7,140.9 582.2,141.7 581.8,141.1 581.3,141.5 580.9,141.5 580.4,142.5 580.0,141.9 579.5,141.2 579.1,141.7 578.6,141.8 578.2,141.5 577.7,141.7 577.3,142.5 576.8,142.1 576.4,141.6 575.9,142.3 575.5,141.6 575.0,141.9 574.6,141.3 574.1,142.1 573.7,142.0 573.2,142.0 572.8,142.0 572.3,142.6 571.9,142.2 571.4,141.7 571.0,142.1 570.5,142.3 570.1,142.6 569.6,143.1 569.2,142.1 568.7,142.2 568.3,142.4 567.8,142.7 567.4,143.2 566.9,142.6 566.5,142.5 566.0,142.5 565.6,142.7 565.1,142.7 564.7,143.0 564.2,143.1 563.8,143.2 563.3,143.5 562.9,142.0 562.4,142.7 562.0,142.6 561.5,143.6 561.1,142.9 560.6,143.1 560.2,143.5 559.7,142.9 559.3,142.9 558.8,142.5 558.4,143.0 557.9,143.0 557.5,143.1 557.0,141.8 556.6,143.2 556.1,143.4 555.7,142.8 555.2,143.7 554.8,143.8 554.3,142.4 553.9,143.0 553.4,143.0 553.0,142.5 552.5,143.5 552.1,142.7 551.6,143.3 551.2,142.6 550.7,143.1 550.3,143.3 549.8,143.4 549.4,143.1 548.9,143.0 548.5,143.1 548.0,143.1 547.6,143.6 547.1,142.6 546.7,142.5 546.2,143.1 545.8,143.7 545.3,142.8 544.9,141.6 544.4,142.2 544.0,142.8 543.5,142.1 543.1,143.1 542.6,143.6 542.2,142.9 541.7,143.1 541.3,143.0 540.8,143.4 540.4,142.9 539.9,142.4 539.5,143.1 539.0,143.0 538.6,143.5 538.1,142.5 537.7,144.0 537.2,143.2 536.8,143.3 536.3,142.7 535.9,143.2 535.4,142.7 535.0,142.7 534.5,142.8 534.1,142.7 533.6,143.3 533.2,143.1 532.7,143.3 532.3,142.4 531.8,142.7 531.4,143.0 530.9,142.4 530.5,142.7 530.0,143.1 529.6,143.0 529.1,143.1 528.7,143.2 528.2,142.2 527.8,142.4 527.3,143.5 526.9,143.1 526.4,142.7 526.0,143.5 525.5,142.4 525.1,142.6 524.6,143.8 524.2,144.0 523.7,143.5 523.3,143.4 522.8,143.5 522.4,142.6 521.9,143.8 521.5,142.9 521.0,143.6 520.6,143.5 520.1,143.5 519.7,143.4 519.2,143.1 518.8,143.6 518.3,143.6 517.9,142.5 517.4,142.9 517.0,143.3 516.5,143.5 516.1,143.7 515.6,143.2 515.2,143.1 514.7,143.0 514.3,143.5 513.8,143.0 513.4,143.0 512.9,143.2 512.5,143.3 512.0,143.0 511.6,143.8 511.1,142.6 510.7,142.7 510.2,143.1 509.8,142.9 509.3,143.3 508.9,142.7 508.4,143.0 508.0,142.9 507.5,143.2 507.1,142.0 506.6,142.5 506.2,142.6 505.7,142.0 505.3,143.2 504.8,142.7 504.4,141.7 503.9,141.5 503.5,142.1 503.0,140.6 502.6,139.9 502.1,140.0 501.7,139.3 501.2,138.6 500.8,137.4 500.3,136.7 499.9,135.6 499.4,135.1 499.0,134.6 498.5,133.2 498.1,132.9 497.6,130.8 497.2,130.2 496.7,129.2 496.3,128.6 495.8,127.6 495.4,127.8 494.9,126.3 494.5,126.1 494.1,125.5 493.6,125.1" fill="#c39bea" opacity="0.22"/>
<polygon points="493.6,125.1 494.1,125.5 494.5,126.1 494.9,126.3 495.4,127.8 495.8,127.6 496.3,128.6 496.7,129.2 497.2,130.2 497.6,130.8 498.1,132.9 498.5,133.2 499.0,134.6 499.4,135.1 499.9,135.6 500.3,136.7 500.8,137.4 501.2,138.6 501.7,139.3 502.1,140.0 502.6,139.9 503.0,140.6 503.5,142.1 503.9,141.5 504.4,141.7 504.8,142.7 505.3,143.2 505.7,142.0 506.2,142.6 506.6,142.5 507.1,142.0 507.5,143.2 508.0,142.9 508.4,142.6 508.9,142.0 509.3,141.4 509.8,140.8 510.2,139.8 510.7,138.4 511.1,137.1 511.6,135.7 512.0,134.3 512.5,132.6 512.9,132.2 513.4,132.0 513.8,132.0 514.3,132.5 514.7,132.0 515.2,132.1 515.6,133.0 516.1,134.7 516.5,135.6 517.0,136.5 517.4,137.4 517.9,138.3 518.3,138.6 518.8,138.8 519.2,139.0 519.7,139.1 520.1,139.3 520.6,139.5 521.0,139.6 521.5,139.8 521.9,140.0 522.4,140.0 522.8,140.0 523.3,140.0 523.7,140.0 524.2,140.0 524.6,140.0 525.1,140.0 525.5,140.0 526.0,140.0 526.4,140.0 526.9,140.0 527.3,140.0 527.8,140.0 528.2,140.0 528.7,140.0 529.1,140.0 529.6,140.0 530.0,140.0 530.5,140.0 530.9,140.0 531.4,139.9 531.8,139.9 532.3,139.9 532.7,139.9 533.2,139.8 533.6,139.8 534.1,139.8 534.5,139.8 535.0,139.8 535.4,139.7 535.9,139.7 536.3,139.7 536.8,139.7 537.2,139.6 537.7,139.6 538.1,139.6 538.6,139.6 539.0,139.5 539.5,139.5 539.9,139.5 540.4,139.4 540.8,139.2 541.3,139.1 541.7,138.9 542.2,138.8 542.6,138.6 543.1,138.5 543.5,138.3 544.0,138.2 544.4,138.0 544.9,137.9 545.3,137.7 545.8,137.6 546.2,137.3 546.7,136.8 547.1,136.4 547.6,135.9 548.0,135.5 548.5,135.0 548.9,134.6 549.4,134.1 549.8,133.7 550.3,133.3 550.7,132.9 551.2,132.5 551.6,132.3 552.1,131.8 552.5,132.5 553.0,131.5 553.4,132.0 553.9,132.0 554.3,131.4 554.8,132.8 555.2,132.7 555.7,131.8 556.1,132.4 556.6,132.2 557.0,130.8 557.5,132.1 557.9,132.0 558.4,132.0 558.8,131.5 559.3,131.9 559.7,131.9 560.2,132.5 560.6,132.1 561.1,131.9 561.5,132.6 562.0,131.6 562.4,131.7 562.9,131.0 563.3,132.5 563.8,132.2 564.2,132.1 564.7,132.0 565.1,131.7 565.6,131.7 566.0,131.5 566.5,131.5 566.9,131.6 567.4,132.2 567.8,131.7 568.3,131.4 568.7,131.2 569.2,131.1 569.6,132.1 570.1,131.6 570.5,131.3 571.0,131.1 571.4,130.7 571.9,131.2 572.3,131.6 572.8,131.0 573.2,131.0 573.7,131.0 574.1,131.1 574.6,130.3 575.0,130.9 575.5,130.6 575.9,131.3 576.4,130.6 576.8,131.1 577.3,131.5 577.7,130.7 578.2,130.5 578.6,130.8 579.1,130.7 579.5,130.2 580.0,130.9 580.4,131.5 580.9,130.5 581.3,130.5 581.8,130.1 582.2,130.7 582.7,129.9 583.1,130.0 583.6,131.0 584.0,130.0 584.5,130.9 584.9,131.0 585.4,130.4 585.8,130.5 586.3,131.1 586.7,130.1 587.2,129.9 587.6,129.5 588.1,130.1 588.5,130.8 589.0,130.5 589.4,129.6 589.9,129.6 590.3,129.7 590.8,130.0 591.2,129.7 591.7,129.8 592.1,129.7 592.6,129.4 593.0,129.4 593.5,129.5 593.9,129.2 594.4,129.4 594.8,130.0 595.3,129.3 595.7,129.0 596.2,128.1 596.6,129.0 597.1,127.8 597.5,128.0 598.0,128.9 598.4,128.8 598.9,128.3 599.3,127.5 599.8,128.1 600.2,127.8 600.7,128.3 601.1,129.0 601.6,128.2 602.0,127.9 602.5,127.8 602.9,128.4 603.4,128.5 603.8,128.1 604.3,128.8 604.7,128.3 605.2,129.4 605.6,129.5 606.1,129.6 606.5,129.0 607.0,129.6 607.4,129.4 607.9,129.4 608.3,129.5 608.8,129.1 609.2,129.2 609.7,130.3 610.1,129.8 610.6,129.6 611.0,129.7 611.5,128.1 611.9,128.2 612.4,128.3 612.8,128.0 613.3,127.4 613.7,127.7 614.2,126.8 614.6,125.5 615.1,124.9 615.5,125.0 616.0,124.2 616.4,122.5 616.9,123.3 617.3,122.2 617.8,121.9 618.2,120.4 618.7,119.6 619.1,118.5 619.6,119.3 620.0,117.3 620.5,117.3 620.9,115.5 621.4,115.1 621.8,113.5 622.3,113.2 622.7,112.9 623.2,111.0 623.6,111.2 624.1,110.0 624.5,108.4 625.0,107.8 625.4,106.9 625.9,106.2 626.3,105.1 626.8,104.2 627.2,103.7 627.7,102.6 628.1,101.7 628.6,101.4 629.0,101.1 629.5,99.2 629.9,99.1 630.4,98.2 630.8,97.4 631.3,97.7 631.7,96.5 632.2,96.8 632.6,95.2 633.1,95.1 633.5,94.2 634.0,93.8 634.4,94.6 634.9,94.4 635.3,95.0 635.8,94.9 636.2,95.0 636.7,96.4 637.1,97.3 637.6,98.6 638.0,98.7 638.5,100.0 638.9,100.1 639.4,102.1 639.8,102.2 640.3,102.7 640.7,104.3 641.2,105.6 641.6,105.2 642.1,106.2 642.5,106.8 643.0,107.0 643.4,107.9 643.9,107.7 644.3,108.0 644.8,108.9 645.2,108.6 645.7,109.5 646.1,109.1 646.6,109.3 647.0,109.2 647.5,110.8 647.9,109.9 648.4,110.1 648.8,110.0 649.3,110.1 649.7,110.0 650.2,110.9 650.6,109.5 651.1,109.3 651.5,109.5 652.0,109.4 652.4,110.3 652.9,110.4 653.3,109.5 653.8,109.1 654.2,109.5 654.7,110.1 655.1,108.1 655.6,109.4 656.0,108.6 656.5,109.4 656.9,108.3 657.4,108.5 657.8,107.8 658.3,107.9 658.7,108.9 659.2,108.5 659.6,107.6 660.1,106.9 660.5,105.9 661.0,106.0 661.4,105.6 661.9,105.1 662.3,104.4 662.8,103.3 663.2,103.1 663.7,102.4 664.1,102.5 664.6,102.4 665.0,101.1 665.5,100.5 665.9,100.5 666.4,99.9 666.8,99.9 667.3,100.6 667.7,100.5 668.2,101.6 668.6,101.7 669.1,102.2 669.5,102.7 670.0,103.0 670.4,103.5 670.9,104.4 671.3,104.9 671.8,105.8 672.2,106.4 672.7,106.4 673.1,107.8 673.6,107.8 674.0,108.8 674.5,109.6 674.9,109.5 675.4,111.1 675.8,111.8 676.3,112.5 676.7,113.3 677.2,114.2 677.6,114.9 678.1,116.1 678.5,116.9 679.0,118.0 679.4,118.4 679.9,119.9 680.3,120.7 680.8,121.3 681.2,122.0 681.7,123.2 682.1,123.0 682.6,124.8 683.0,125.4 683.5,126.3 683.9,127.1 684.4,126.6 684.8,126.7 685.3,127.1 685.7,126.9 686.2,126.7 686.6,125.9 687.1,126.7 687.5,126.9 688.0,126.8 688.4,126.4 688.9,125.5 689.3,126.5 689.8,126.0 690.2,124.8 690.7,126.0 691.1,125.0 691.6,124.9 692.0,125.1 692.5,125.8 692.9,124.9 693.4,125.1 693.8,125.6 694.3,125.4 694.7,124.5 695.2,124.3 695.6,123.7 696.1,123.9 696.5,124.2 697.0,124.1 697.4,123.8 697.9,124.1 698.3,123.1 698.8,123.3 699.2,123.6 699.7,123.4 700.1,123.4 700.6,123.0 701.0,122.6 701.5,122.8 701.9,122.1 702.4,121.7 702.8,122.5 703.3,122.2 703.7,122.2 704.2,121.2 704.6,121.7 705.1,121.5 705.5,121.2 706.0,120.5 706.4,121.2 706.9,121.7 707.3,121.3 707.8,121.1 708.2,121.3 708.7,121.4 709.1,121.6 709.6,121.7 710.0,121.9 710.5,122.0 710.9,122.2 711.4,122.3 711.8,122.5 712.3,122.6 712.7,122.8 713.2,122.9 713.6,123.1 714.1,123.2 714.5,123.4 715.0,123.5 715.4,123.7 715.9,123.8 716.3,124.0 716.8,124.1 717.2,124.3 717.7,124.4 718.1,124.4 718.6,124.5 719.0,124.6 719.5,124.7 719.9,124.8 720.4,124.9 720.8,125.0 721.3,125.1 721.7,125.2 722.2,125.3 722.6,125.4 723.1,125.5 723.5,125.6 724.0,125.7 724.4,125.8 724.9,125.9 725.3,126.0 725.8,126.1 726.2,126.2 726.7,126.3 727.1,126.4 727.6,126.5 728.0,126.6 728.5,126.7 728.9,126.8 729.4,126.9 729.8,127.0 730.3,127.0 730.7,127.1 731.2,127.1 731.6,127.2 732.1,127.2 732.5,127.3 733.0,127.3 733.4,127.3 733.9,127.4 734.3,127.4 734.8,127.5 735.2,127.5 735.7,127.6 736.1,127.6 736.6,127.7 737.0,127.7 737.5,127.7 737.9,127.8 738.4,127.8 738.8,127.9 739.3,127.9 739.7,127.9 740.2,128.0 740.6,127.8 741.1,128.1 741.5,128.2 742.0,128.0 742.4,128.1 742.9,128.2 743.3,128.3 743.8,127.6 744.2,127.8 744.7,128.1 745.1,128.5 745.6,128.5 746.0,128.2 746.5,128.5 746.9,128.5 747.4,128.2 747.8,128.1 748.3,128.6 748.7,128.5 749.2,128.6 749.6,128.1 750.1,128.6 750.5,128.6 751.0,128.6 751.4,128.6 751.9,127.4 752.3,128.6 752.8,128.2 753.2,128.5 753.7,128.6 754.1,128.1 754.6,127.5 755.0,128.5 755.5,128.0 755.9,128.2 756.4,128.0 756.8,128.1 757.3,127.1 757.7,128.7 758.2,128.2 758.6,128.5 759.1,128.8 759.5,128.0 760.0,127.1 760.4,127.5 760.9,127.3 761.3,127.5 761.8,127.8 762.2,126.8 762.7,127.8 763.1,126.9 763.6,127.7 764.0,127.4 764.5,127.3 764.9,127.4 765.4,127.1 765.8,127.0 766.3,126.5 766.7,127.2 767.2,128.0 767.6,128.0 768.1,127.7 768.5,127.4 769.0,126.7 769.4,127.6 769.9,126.9 770.3,126.8 770.8,126.7 771.2,126.8 771.7,126.5 772.1,126.6 772.6,126.2 773.0,126.4 773.5,127.4 773.9,126.4 774.4,126.3 774.8,126.6 775.3,126.6 775.7,125.7 776.2,126.0 776.6,126.5 777.1,126.1 777.5,126.0 778.0,126.5 778.4,125.5 778.9,125.7 779.3,125.4 779.8,126.2 780.2,124.6 780.7,125.1 781.1,125.1 781.6,125.6 782.0,125.5 782.5,125.8 782.9,124.4 783.4,125.3 783.8,124.8 784.3,124.6 784.7,125.0 785.2,124.3 785.6,123.7 786.1,124.4 786.5,123.9 787.0,124.2 787.4,124.6 787.9,124.5 788.3,125.0 788.8,124.1 789.2,123.4 789.7,123.7 790.1,123.6 790.6,123.4 791.0,124.1 791.5,123.6 791.9,122.9 792.4,124.1 792.8,123.7 793.3,123.8 793.7,123.7 794.2,123.9 794.6,123.6 795.1,124.0 795.5,123.6 796.0,123.6 796.4,123.5 796.9,122.7 797.3,123.2 797.8,123.1 798.2,123.3 798.7,122.5 799.1,123.8 799.6,123.1 800.0,122.4 800.5,122.2 800.9,122.8 801.4,122.8 801.8,122.5 802.3,122.8 802.7,122.4 803.2,122.9 803.6,122.3 804.1,122.6 804.5,123.0 805.0,123.7 805.4,122.0 805.9,122.2 806.3,122.0 806.8,122.7 807.2,121.8 807.7,122.0 808.1,122.2 808.6,121.7 809.0,121.7 809.5,121.8 809.9,121.0 810.4,121.3 810.8,121.7 811.3,121.9 811.7,121.7 812.2,121.0 812.6,121.5 813.1,122.0 813.5,121.9 814.0,121.5 814.4,121.1 814.9,121.8 815.3,121.2 815.8,120.8 816.2,121.0 816.7,121.9 817.1,121.3 817.6,121.7 818.0,120.9 818.5,121.5 818.9,120.8 819.4,120.9 819.8,122.1 820.3,121.2 820.7,120.6 821.2,120.8 821.6,120.9 822.1,121.3 822.5,120.4 823.0,119.8 823.4,120.4 823.9,120.5 824.3,120.5 824.8,121.0 825.2,120.5 825.7,120.7 826.1,119.8 826.6,120.6 827.0,121.1 827.0,121.1 826.6,120.6 826.1,119.8 825.7,120.7 825.2,120.5 824.8,121.0 824.3,120.5 823.9,120.5 823.4,120.4 823.0,119.8 822.5,120.4 822.1,121.3 821.6,120.9 821.2,120.8 820.7,120.6 820.3,121.2 819.8,122.1 819.4,120.9 818.9,120.8 818.5,121.5 818.0,120.9 817.6,121.7 817.1,121.3 816.7,121.9 816.2,121.0 815.8,120.8 815.3,121.2 814.9,121.8 814.4,121.1 814.0,121.5 813.5,121.9 813.1,122.0 812.6,121.5 812.2,121.0 811.7,121.7 811.3,121.9 810.8,121.7 810.4,121.3 809.9,121.0 809.5,121.8 809.0,121.7 808.6,121.7 808.1,122.2 807.7,122.0 807.2,121.8 806.8,122.7 806.3,122.0 805.9,122.2 805.4,122.0 805.0,123.7 804.5,123.0 804.1,122.6 803.6,122.3 803.2,122.9 802.7,122.4 802.3,122.8 801.8,122.5 801.4,122.8 800.9,122.8 800.5,122.2 800.0,122.4 799.6,123.1 799.1,123.8 798.7,122.5 798.2,123.3 797.8,123.1 797.3,123.2 796.9,122.7 796.4,123.5 796.0,123.6 795.5,123.6 795.1,124.0 794.6,123.6 794.2,123.9 793.7,123.7 793.3,123.8 792.8,123.7 792.4,124.1 791.9,122.9 791.5,123.6 791.0,124.1 790.6,123.4 790.1,123.6 789.7,123.7 789.2,123.4 788.8,124.1 788.3,125.0 787.9,124.5 787.4,124.6 787.0,124.2 786.5,123.9 786.1,124.4 785.6,123.7 785.2,124.3 784.7,125.0 784.3,124.6 783.8,124.8 783.4,125.3 782.9,124.4 782.5,125.8 782.0,125.5 781.6,125.6 781.1,125.1 780.7,125.1 780.2,124.6 779.8,126.2 779.3,125.4 778.9,125.7 778.4,125.5 778.0,126.5 777.5,126.0 777.1,126.1 776.6,126.5 776.2,126.0 775.7,125.7 775.3,126.6 774.8,126.6 774.4,126.3 773.9,126.4 773.5,127.5 773.0,126.4 772.6,126.2 772.1,126.6 771.7,126.5 771.2,126.8 770.8,126.7 770.3,126.8 769.9,126.9 769.4,127.6 769.0,126.7 768.5,127.4 768.1,127.7 767.6,128.0 767.2,128.0 766.7,127.2 766.3,126.5 765.8,127.0 765.4,127.1 764.9,127.4 764.5,127.3 764.0,127.4 763.6,127.7 763.1,126.9 762.7,127.8 762.2,126.8 761.8,127.8 761.3,127.5 760.9,127.3 760.4,127.5 760.0,127.1 759.5,128.0 759.1,128.9 758.6,128.5 758.2,128.2 757.7,128.7 757.3,127.1 756.8,128.1 756.4,128.0 755.9,128.2 755.5,128.0 755.0,128.5 754.6,127.5 754.1,128.1 753.7,128.6 753.2,128.5 752.8,128.2 752.3,128.6 751.9,127.4 751.4,128.6 751.0,128.6 750.5,129.1 750.1,129.2 749.6,128.1 749.2,128.6 748.7,128.5 748.3,128.8 747.8,128.1 747.4,128.2 746.9,129.2 746.5,128.6 746.0,128.2 745.6,128.7 745.1,129.4 744.7,128.1 744.2,127.8 743.8,127.6 743.3,128.6 742.9,128.2 742.4,128.1 742.0,128.0 741.5,128.3 741.1,128.8 740.6,127.8 740.2,128.1 739.7,127.9 739.3,128.6 738.8,128.2 738.4,128.6 737.9,128.5 737.5,128.3 737.0,128.1 736.6,128.7 736.1,127.8 735.7,127.7 735.2,128.1 734.8,128.7 734.3,128.6 733.9,128.1 733.4,128.5 733.0,129.3 732.5,128.7 732.1,128.6 731.6,129.5 731.2,129.6 730.7,129.2 730.3,128.5 729.8,128.4 729.4,129.1 728.9,128.6 728.5,128.8 728.0,128.3 727.6,128.9 727.1,129.1 726.7,128.5 726.2,128.9 725.8,128.5 725.3,128.5 724.9,129.4 724.4,128.8 724.0,129.4 723.5,128.7 723.1,129.2 722.6,129.2 722.2,129.5 721.7,128.4 721.3,128.8 720.8,129.4 720.4,128.9 719.9,128.7 719.5,130.0 719.0,130.0 718.6,129.6 718.1,129.7 717.7,129.5 717.2,130.7 716.8,130.1 716.3,130.8 715.9,130.4 715.4,130.3 715.0,130.4 714.5,131.4 714.1,131.1 713.6,130.7 713.2,130.6 712.7,131.3 712.3,131.2 711.8,131.3 711.4,131.7 710.9,132.1 710.5,131.7 710.0,131.7 709.6,131.5 709.1,130.5 708.7,132.2 708.2,131.9 707.8,131.8 707.3,132.3 706.9,132.7 706.4,132.2 706.0,131.5 705.5,132.2 705.1,132.5 704.6,132.7 704.2,132.2 703.7,133.2 703.3,133.2 702.8,133.5 702.4,132.7 701.9,133.1 701.5,133.8 701.0,133.6 700.6,134.0 700.1,134.4 699.7,134.4 699.2,134.6 698.8,134.3 698.3,134.1 697.9,135.1 697.4,134.8 697.0,135.1 696.5,135.2 696.1,134.9 695.6,134.7 695.2,135.3 694.7,135.5 694.3,136.4 693.8,136.6 693.4,136.1 692.9,135.9 692.5,136.8 692.0,136.1 691.6,135.9 691.1,136.0 690.7,137.0 690.2,135.8 689.8,137.0 689.3,137.5 688.9,136.5 688.4,137.4 688.0,137.8 687.5,137.9 687.1,137.7 686.6,136.9 686.2,137.7 685.7,137.9 685.3,138.1 684.8,137.7 684.4,137.6 683.9,138.1 683.5,137.3 683.0,136.4 682.6,135.8 682.1,134.0 681.7,134.2 681.2,133.0 680.8,132.3 680.3,131.7 679.9,130.9 679.4,129.4 679.0,129.0 678.5,127.9 678.1,127.1 677.6,125.9 677.2,125.2 676.7,124.3 676.3,123.5 675.8,122.8 675.4,122.1 674.9,120.5 674.5,120.6 674.0,119.8 673.6,118.8 673.1,118.8 672.7,117.4 672.2,117.4 671.8,116.8 671.3,115.9 670.9,115.4 670.4,114.5 670.0,114.0 669.5,113.7 669.1,113.2 668.6,112.7 668.2,112.6 667.7,111.5 667.3,111.6 666.8,110.9 666.4,110.9 665.9,111.5 665.5,111.5 665.0,112.1 664.6,113.4 664.1,113.5 663.7,113.4 663.2,114.1 662.8,114.3 662.3,115.4 661.9,116.1 661.4,116.6 661.0,117.0 660.5,116.9 660.1,117.9 659.6,118.6 659.2,119.5 658.7,119.9 658.3,118.9 657.8,118.8 657.4,119.5 656.9,119.3 656.5,120.4 656.0,119.6 655.6,120.4 655.1,119.1 654.7,121.1 654.2,120.5 653.8,120.1 653.3,120.5 652.9,121.4 652.4,121.3 652.0,120.4 651.5,120.5 651.1,120.3 650.6,120.5 650.2,121.9 649.7,121.0 649.3,121.1 648.8,121.0 648.4,121.1 647.9,120.9 647.5,121.8 647.0,120.2 646.6,120.3 646.1,120.1 645.7,120.5 645.2,119.6 644.8,119.9 644.3,119.0 643.9,118.7 643.4,118.9 643.0,118.0 642.5,117.8 642.1,117.2 641.6,116.2 641.2,116.6 640.7,115.3 640.3,113.7 639.8,113.2 639.4,113.1 638.9,111.1 638.5,111.0 638.0,109.7 637.6,109.6 637.1,108.3 636.7,107.4 636.2,106.0 635.8,105.9 635.3,106.0 634.9,105.4 634.4,105.6 634.0,104.8 633.5,105.2 633.1,106.1 632.6,106.2 632.2,107.8 631.7,107.5 631.3,108.7 630.8,108.4 630.4,109.2 629.9,110.1 629.5,110.2 629.0,112.1 628.6,112.4 628.1,112.7 627.7,113.6 627.2,114.7 626.8,115.2 626.3,116.1 625.9,117.2 625.4,117.9 625.0,118.8 624.5,119.4 624.1,121.0 623.6,122.2 623.2,122.0 622.7,123.9 622.3,124.2 621.8,124.5 621.4,126.1 620.9,126.5 620.5,128.3 620.0,128.3 619.6,130.3 619.1,129.5 618.7,130.6 618.2,131.4 617.8,132.9 617.3,133.2 616.9,134.3 616.4,133.5 616.0,135.2 615.5,136.0 615.1,135.9 614.6,136.5 614.2,137.8 613.7,138.7 613.3,138.4 612.8,139.0 612.4,139.3 611.9,139.2 611.5,139.1 611.0,140.7 610.6,140.6 610.1,140.8 609.7,141.3 609.2,140.2 608.8,140.1 608.3,140.5 607.9,140.4 607.4,140.4 607.0,140.6 606.5,140.0 606.1,140.6 605.6,140.5 605.2,140.4 604.7,139.3 604.3,139.8 603.8,139.1 603.4,139.5 602.9,139.4 602.5,138.8 602.0,138.9 601.6,139.2 601.1,140.0 600.7,139.3 600.2,138.8 599.8,139.1 599.3,138.5 598.9,139.3 598.4,139.8 598.0,139.9 597.5,139.0 597.1,138.8 596.6,140.0 596.2,139.1 595.7,140.0 595.3,140.3 594.8,141.0 594.4,140.4 593.9,140.2 593.5,140.5 593.0,140.4 592.6,140.4 592.1,140.7 591.7,140.8 591.2,140.7 590.8,141.0 590.3,140.7 589.9,140.6 589.4,140.6 589.0,141.5 588.5,141.8 588.1,141.1 587.6,140.5 587.2,140.9 586.7,141.1 586.3,142.1 585.8,141.5 585.4,141.4 584.9,142.0 584.5,141.9 584.0,141.0 583.6,142.0 583.1,141.0 582.7,140.9 582.2,141.7 581.8,141.1 581.3,141.5 580.9,141.5 580.4,142.5 580.0,141.9 579.5,141.2 579.1,141.7 578.6,141.8 578.2,141.5 577.7,141.7 577.3,142.5 576.8,142.1 576.4,141.6 575.9,142.3 575.5,141.6 575.0,141.9 574.6,141.3 574.1,142.1 573.7,142.0 573.2,142.0 572.8,142.0 572.3,142.6 571.9,142.2 571.4,141.7 571.0,142.1 570.5,142.3 570.1,142.6 569.6,143.1 569.2,142.1 568.7,142.2 568.3,142.4 567.8,142.7 567.4,143.2 566.9,142.6 566.5,142.5 566.0,142.5 565.6,142.7 565.1,142.7 564.7,143.0 564.2,143.1 563.8,143.2 563.3,143.5 562.9,142.0 562.4,142.7 562.0,142.6 561.5,143.6 561.1,142.9 560.6,143.1 560.2,143.5 559.7,142.9 559.3,142.9 558.8,142.5 558.4,143.0 557.9,143.0 557.5,143.1 557.0,141.8 556.6,143.2 556.1,143.4 555.7,142.8 555.2,143.7 554.8,143.8 554.3,142.4 553.9,143.0 553.4,143.0 553.0,142.5 552.5,143.5 552.1,142.7 551.6,143.3 551.2,142.6 550.7,143.1 550.3,143.3 549.8,143.4 549.4,143.1 548.9,143.0 548.5,143.1 548.0,143.1 547.6,143.6 547.1,142.6 546.7,142.5 546.2,143.1 545.8,143.7 545.3,142.8 544.9,141.6 544.4,142.2 544.0,142.8 543.5,142.1 543.1,143.1 542.6,143.6 542.2,142.9 541.7,143.1 541.3,143.0 540.8,143.4 540.4,142.9 539.9,142.4 539.5,143.1 539.0,143.0 538.6,143.5 538.1,142.5 537.7,144.0 537.2,143.2 536.8,143.3 536.3,142.7 535.9,143.2 535.4,142.7 535.0,142.7 534.5,142.8 534.1,142.7 533.6,143.3 533.2,143.1 532.7,143.3 532.3,142.4 531.8,142.7 531.4,143.0 530.9,142.4 530.5,142.7 530.0,143.1 529.6,143.0 529.1,143.1 528.7,143.2 528.2,142.2 527.8,142.4 527.3,143.5 526.9,143.1 526.4,142.7 526.0,143.5 525.5,142.4 525.1,142.6 524.6,143.8 524.2,144.0 523.7,143.5 523.3,143.4 522.8,143.5 522.4,142.6 521.9,143.8 521.5,142.9 521.0,143.6 520.6,143.5 520.1,143.5 519.7,143.4 519.2,143.1 518.8,143.6 518.3,143.6 517.9,142.5 517.4,142.9 517.0,143.3 516.5,143.5 516.1,143.7 515.6,143.2 515.2,143.1 514.7,143.0 514.3,143.5 513.8,143.0 513.4,143.0 512.9,143.2 512.5,143.3 512.0,143.0 511.6,143.8 511.1,142.6 510.7,142.7 510.2,143.1 509.8,142.9 509.3,143.3 508.9,142.7 508.4,143.0 508.0,142.9 507.5,143.2 507.1,142.0 506.6,142.5 506.2,142.6 505.7,142.0 505.3,143.2 504.8,142.7 504.4,141.7 503.9,141.5 503.5,142.1 503.0,140.6 502.6,139.9 502.1,140.0 501.7,139.3 501.2,138.6 500.8,137.4 500.3,136.7 499.9,135.6 499.4,135.1 499.0,134.6 498.5,133.2 498.1,132.9 497.6,130.8 497.2,130.2 496.7,129.2 496.3,128.6 495.8,127.6 495.4,127.8 494.9,126.3 494.5,126.1 494.1,125.5 493.6,125.1" fill="#c39bea" opacity="0.3"/>
<polygon points="493.6,125.1 494.1,125.5 494.5,126.1 494.9,126.3 495.4,127.8 495.8,127.6 496.3,128.6 496.7,129.2 497.2,130.2 497.6,130.8 498.1,132.9 498.5,133.2 499.0,134.6 499.4,135.1 499.9,135.6 500.3,136.7 500.8,137.4 501.2,138.6 501.7,139.3 502.1,140.0 502.6,139.9 503.0,140.6 503.5,142.1 503.9,141.5 504.4,141.7 504.8,142.7 505.3,143.2 505.7,142.0 506.2,142.6 506.6,142.5 507.1,142.0 507.5,143.2 508.0,142.9 508.4,142.6 508.9,142.0 509.3,141.4 509.8,140.8 510.2,139.8 510.7,138.4 511.1,137.1 511.6,137.8 512.0,137.0 512.5,137.3 512.9,137.2 513.4,137.0 513.8,137.0 514.3,137.5 514.7,137.0 515.2,137.1 515.6,137.2 516.1,137.7 516.5,137.5 517.0,137.3 517.4,137.4 517.9,138.3 518.3,138.6 518.8,138.8 519.2,139.0 519.7,139.1 520.1,139.3 520.6,139.5 521.0,139.6 521.5,139.8 521.9,140.0 522.4,140.0 522.8,140.0 523.3,140.0 523.7,140.0 524.2,140.0 524.6,140.0 525.1,140.0 525.5,140.0 526.0,140.0 526.4,140.0 526.9,140.0 527.3,140.0 527.8,140.0 528.2,140.0 528.7,140.0 529.1,140.0 529.6,140.0 530.0,140.0 530.5,140.0 530.9,140.0 531.4,139.9 531.8,139.9 532.3,139.9 532.7,139.9 533.2,139.8 533.6,139.8 534.1,139.8 534.5,139.8 535.0,139.8 535.4,139.7 535.9,139.7 536.3,139.7 536.8,139.7 537.2,139.6 537.7,139.6 538.1,139.6 538.6,139.6 539.0,139.5 539.5,139.5 539.9,139.5 540.4,139.4 540.8,139.2 541.3,139.1 541.7,138.9 542.2,138.8 542.6,138.6 543.1,138.5 543.5,138.3 544.0,138.2 544.4,138.0 544.9,137.9 545.3,137.7 545.8,137.7 546.2,137.3 546.7,136.8 547.1,136.6 547.6,137.6 548.0,137.1 548.5,137.1 548.9,137.0 549.4,137.1 549.8,137.4 550.3,137.3 550.7,137.1 551.2,136.6 551.6,137.3 552.1,136.7 552.5,137.5 553.0,136.5 553.4,137.0 553.9,137.0 554.3,136.4 554.8,137.8 555.2,137.7 555.7,136.8 556.1,137.4 556.6,137.2 557.0,135.8 557.5,137.1 557.9,137.0 558.4,137.0 558.8,136.5 559.3,136.9 559.7,136.9 560.2,137.5 560.6,137.1 561.1,136.9 561.5,137.6 562.0,136.6 562.4,136.7 562.9,136.0 563.3,137.5 563.8,137.2 564.2,137.1 564.7,137.0 565.1,136.7 565.6,136.7 566.0,136.5 566.5,136.5 566.9,136.6 567.4,137.2 567.8,136.7 568.3,136.4 568.7,136.2 569.2,136.1 569.6,137.1 570.1,136.6 570.5,136.3 571.0,136.1 571.4,135.7 571.9,136.2 572.3,136.6 572.8,136.0 573.2,136.0 573.7,136.0 574.1,136.1 574.6,135.3 575.0,135.9 575.5,135.6 575.9,136.3 576.4,135.6 576.8,136.1 577.3,136.5 577.7,135.7 578.2,135.5 578.6,135.8 579.1,135.7 579.5,135.2 580.0,135.9 580.4,136.5 580.9,135.5 581.3,135.5 581.8,135.1 582.2,135.7 582.7,134.9 583.1,135.0 583.6,136.0 584.0,135.0 584.5,135.9 584.9,136.0 585.4,135.4 585.8,135.5 586.3,136.1 586.7,135.1 587.2,134.9 587.6,134.5 588.1,135.1 588.5,135.8 589.0,135.5 589.4,134.6 589.9,134.6 590.3,134.7 590.8,135.0 591.2,134.7 591.7,134.8 592.1,134.7 592.6,134.4 593.0,134.4 593.5,134.5 593.9,134.2 594.4,134.4 594.8,135.0 595.3,134.3 595.7,134.0 596.2,133.1 596.6,134.0 597.1,132.8 597.5,133.0 598.0,133.9 598.4,133.8 598.9,133.3 599.3,132.5 599.8,133.1 600.2,132.8 600.7,133.3 601.1,134.0 601.6,133.2 602.0,132.9 602.5,132.8 602.9,133.4 603.4,133.5 603.8,133.1 604.3,133.8 604.7,133.3 605.2,134.4 605.6,134.5 606.1,134.6 606.5,134.0 607.0,134.6 607.4,134.4 607.9,134.4 608.3,134.5 608.8,134.1 609.2,134.2 609.7,135.3 610.1,134.8 610.6,134.6 611.0,134.7 611.5,133.1 611.9,133.2 612.4,133.3 612.8,133.0 613.3,132.4 613.7,132.7 614.2,131.8 614.6,130.5 615.1,129.9 615.5,130.0 616.0,129.2 616.4,127.5 616.9,128.3 617.3,127.2 617.8,126.9 618.2,125.4 618.7,124.6 619.1,123.5 619.6,124.3 620.0,122.3 620.5,122.3 620.9,120.5 621.4,120.1 621.8,118.5 622.3,118.2 622.7,117.9 623.2,116.0 623.6,116.2 624.1,115.0 624.5,113.4 625.0,112.8 625.4,111.9 625.9,111.2 626.3,110.1 626.8,109.2 627.2,108.7 627.7,107.6 628.1,106.7 628.6,106.4 629.0,106.1 629.5,104.2 629.9,104.1 630.4,103.2 630.8,102.4 631.3,102.7 631.7,101.5 632.2,101.8 632.6,100.2 633.1,100.1 633.5,99.2 634.0,98.8 634.4,99.6 634.9,99.4 635.3,100.0 635.8,99.9 636.2,100.0 636.7,101.4 637.1,102.3 637.6,103.6 638.0,103.7 638.5,105.0 638.9,105.1 639.4,107.1 639.8,107.2 640.3,107.7 640.7,109.3 641.2,110.6 641.6,110.2 642.1,111.2 642.5,111.8 643.0,112.0 643.4,112.9 643.9,112.7 644.3,113.0 644.8,113.9 645.2,113.6 645.7,114.5 646.1,114.1 646.6,114.3 647.0,114.2 647.5,115.8 647.9,114.9 648.4,115.1 648.8,115.0 649.3,115.1 649.7,115.0 650.2,115.9 650.6,114.5 651.1,114.3 651.5,114.5 652.0,114.4 652.4,115.3 652.9,115.4 653.3,114.5 653.8,114.1 654.2,114.5 654.7,115.1 655.1,113.1 655.6,114.4 656.0,113.6 656.5,114.4 656.9,113.3 657.4,113.5 657.8,112.8 658.3,112.9 658.7,113.9 659.2,113.5 659.6,112.6 660.1,111.9 660.5,110.9 661.0,111.0 661.4,110.6 661.9,110.1 662.3,109.4 662.8,108.3 663.2,108.1 663.7,107.4 664.1,107.5 664.6,107.4 665.0,106.1 665.5,105.5 665.9,105.5 666.4,104.9 666.8,104.9 667.3,105.6 667.7,105.5 668.2,106.6 668.6,106.7 669.1,107.2 669.5,107.7 670.0,108.0 670.4,108.5 670.9,109.4 671.3,109.9 671.8,110.8 672.2,111.4 672.7,111.4 673.1,112.8 673.6,112.8 674.0,113.8 674.5,114.6 674.9,114.5 675.4,116.1 675.8,116.8 676.3,117.5 676.7,118.3 677.2,119.2 677.6,119.9 678.1,121.1 678.5,121.9 679.0,123.0 679.4,123.4 679.9,124.9 680.3,125.7 680.8,126.3 681.2,127.0 681.7,128.2 682.1,128.0 682.6,129.8 683.0,130.4 683.5,131.3 683.9,132.1 684.4,131.6 684.8,131.7 685.3,132.1 685.7,131.9 686.2,131.7 686.6,130.9 687.1,131.7 687.5,131.9 688.0,131.8 688.4,131.4 688.9,130.5 689.3,131.5 689.8,131.0 690.2,129.8 690.7,131.0 691.1,130.0 691.6,129.9 692.0,130.1 692.5,130.8 692.9,129.9 693.4,130.1 693.8,130.6 694.3,130.4 694.7,129.5 695.2,129.3 695.6,128.7 696.1,128.9 696.5,129.2 697.0,129.1 697.4,128.8 697.9,129.1 698.3,128.1 698.8,128.3 699.2,128.6 699.7,128.4 700.1,128.4 700.6,128.0 701.0,127.6 701.5,127.8 701.9,127.1 702.4,126.7 702.8,127.5 703.3,127.2 703.7,127.2 704.2,126.2 704.6,126.7 705.1,126.5 705.5,126.2 706.0,125.5 706.4,126.2 706.9,126.7 707.3,126.3 707.8,125.8 708.2,125.9 708.7,126.2 709.1,124.5 709.6,125.5 710.0,125.7 710.5,125.7 710.9,126.1 711.4,125.7 711.8,125.3 712.3,125.2 712.7,125.3 713.2,124.6 713.6,124.7 714.1,125.1 714.5,125.4 715.0,124.4 715.4,124.3 715.9,124.4 716.3,124.8 716.8,124.1 717.2,124.7 717.7,124.4 718.1,124.4 718.6,124.5 719.0,124.6 719.5,124.7 719.9,124.8 720.4,124.9 720.8,125.0 721.3,125.1 721.7,125.2 722.2,125.3 722.6,125.4 723.1,125.5 723.5,125.6 724.0,125.7 724.4,125.8 724.9,125.9 725.3,126.0 725.8,126.1 726.2,126.2 726.7,126.3 727.1,126.4 727.6,126.5 728.0,126.6 728.5,126.7 728.9,126.8 729.4,126.9 729.8,127.0 730.3,127.0 730.7,127.1 731.2,127.1 731.6,127.2 732.1,127.2 732.5,127.3 733.0,127.3 733.4,127.3 733.9,127.4 734.3,127.4 734.8,127.5 735.2,127.5 735.7,127.6 736.1,127.6 736.6,127.7 737.0,127.7 737.5,127.7 737.9,127.8 738.4,127.8 738.8,127.9 739.3,127.9 739.7,127.9 740.2,128.0 740.6,127.8 741.1,128.1 741.5,128.2 742.0,128.0 742.4,128.1 742.9,128.2 743.3,128.3 743.8,127.6 744.2,127.8 744.7,128.1 745.1,128.5 745.6,128.5 746.0,128.2 746.5,128.5 746.9,128.5 747.4,128.2 747.8,128.1 748.3,128.6 748.7,128.5 749.2,128.6 749.6,128.1 750.1,128.6 750.5,128.6 751.0,128.6 751.4,128.6 751.9,127.4 752.3,128.6 752.8,128.2 753.2,128.5 753.7,128.6 754.1,128.1 754.6,127.5 755.0,128.5 755.5,128.0 755.9,128.2 756.4,128.0 756.8,128.1 757.3,127.1 757.7,128.7 758.2,128.2 758.6,128.5 759.1,128.8 759.5,128.0 760.0,127.1 760.4,127.5 760.9,127.3 761.3,127.5 761.8,127.8 762.2,126.8 762.7,127.8 763.1,126.9 763.6,127.7 764.0,127.4 764.5,127.3 764.9,127.4 765.4,127.1 765.8,127.0 766.3,126.5 766.7,127.2 767.2,128.0 767.6,128.0 768.1,127.7 768.5,127.4 769.0,126.7 769.4,127.6 769.9,126.9 770.3,126.8 770.8,126.7 771.2,126.8 771.7,126.5 772.1,126.6 772.6,126.2 773.0,126.4 773.5,127.4 773.9,126.4 774.4,126.3 774.8,126.6 775.3,126.6 775.7,125.7 776.2,126.0 776.6,126.5 777.1,126.1 777.5,126.0 778.0,126.5 778.4,125.5 778.9,125.7 779.3,125.4 779.8,126.2 780.2,124.6 780.7,125.1 781.1,125.1 781.6,125.6 782.0,125.5 782.5,125.8 782.9,124.4 783.4,125.3 783.8,124.8 784.3,124.6 784.7,125.0 785.2,124.3 785.6,123.7 786.1,124.4 786.5,123.9 787.0,124.2 787.4,124.6 787.9,124.5 788.3,125.0 788.8,124.1 789.2,123.4 789.7,123.7 790.1,123.6 790.6,123.4 791.0,124.1 791.5,123.6 791.9,122.9 792.4,124.1 792.8,123.7 793.3,123.8 793.7,123.7 794.2,123.9 794.6,123.6 795.1,124.0 795.5,123.6 796.0,123.6 796.4,123.5 796.9,122.7 797.3,123.2 797.8,123.1 798.2,123.3 798.7,122.5 799.1,123.8 799.6,123.1 800.0,122.4 800.5,122.2 800.9,122.8 801.4,122.8 801.8,122.5 802.3,122.8 802.7,122.4 803.2,122.9 803.6,122.3 804.1,122.6 804.5,123.0 805.0,123.7 805.4,122.0 805.9,122.2 806.3,122.0 806.8,122.7 807.2,121.8 807.7,122.0 808.1,122.2 808.6,121.7 809.0,121.7 809.5,121.8 809.9,121.0 810.4,121.3 810.8,121.7 811.3,121.9 811.7,121.7 812.2,121.0 812.6,121.5 813.1,122.0 813.5,121.9 814.0,121.5 814.4,121.1 814.9,121.8 815.3,121.2 815.8,120.8 816.2,121.0 816.7,121.9 817.1,121.3 817.6,121.7 818.0,120.9 818.5,121.5 818.9,120.8 819.4,120.9 819.8,122.1 820.3,121.2 820.7,120.6 821.2,120.8 821.6,120.9 822.1,121.3 822.5,120.4 823.0,119.8 823.4,120.4 823.9,120.5 824.3,120.5 824.8,121.0 825.2,120.5 825.7,120.7 826.1,119.8 826.6,120.6 827.0,121.1 827.0,121.1 826.6,120.6 826.1,119.8 825.7,120.7 825.2,120.5 824.8,121.0 824.3,120.5 823.9,120.5 823.4,120.4 823.0,119.8 822.5,120.4 822.1,121.3 821.6,120.9 821.2,120.8 820.7,120.6 820.3,121.2 819.8,122.1 819.4,120.9 818.9,120.8 818.5,121.5 818.0,120.9 817.6,121.7 817.1,121.3 816.7,121.9 816.2,121.0 815.8,120.8 815.3,121.2 814.9,121.8 814.4,121.1 814.0,121.5 813.5,121.9 813.1,122.0 812.6,121.5 812.2,121.0 811.7,121.7 811.3,121.9 810.8,121.7 810.4,121.3 809.9,121.0 809.5,121.8 809.0,121.7 808.6,121.7 808.1,122.2 807.7,122.0 807.2,121.8 806.8,122.7 806.3,122.0 805.9,122.2 805.4,122.0 805.0,123.7 804.5,123.0 804.1,122.6 803.6,122.3 803.2,122.9 802.7,122.4 802.3,122.8 801.8,122.5 801.4,122.8 800.9,122.8 800.5,122.2 800.0,122.4 799.6,123.1 799.1,123.8 798.7,122.5 798.2,123.3 797.8,123.1 797.3,123.2 796.9,122.7 796.4,123.5 796.0,123.6 795.5,123.6 795.1,124.0 794.6,123.6 794.2,123.9 793.7,123.7 793.3,123.8 792.8,123.7 792.4,124.1 791.9,122.9 791.5,123.6 791.0,124.1 790.6,123.4 790.1,123.6 789.7,123.7 789.2,123.4 788.8,124.1 788.3,125.0 787.9,124.5 787.4,124.6 787.0,124.2 786.5,123.9 786.1,124.4 785.6,123.7 785.2,124.3 784.7,125.0 784.3,124.6 783.8,124.8 783.4,125.3 782.9,124.4 782.5,125.8 782.0,125.5 781.6,125.6 781.1,125.1 780.7,125.1 780.2,124.6 779.8,126.2 779.3,125.4 778.9,125.7 778.4,125.5 778.0,126.5 777.5,126.0 777.1,126.1 776.6,126.5 776.2,126.0 775.7,125.7 775.3,126.6 774.8,126.6 774.4,126.3 773.9,126.4 773.5,127.5 773.0,126.4 772.6,126.2 772.1,126.6 771.7,126.5 771.2,126.8 770.8,126.7 770.3,126.8 769.9,126.9 769.4,127.6 769.0,126.7 768.5,127.4 768.1,127.7 767.6,128.0 767.2,128.0 766.7,127.2 766.3,126.5 765.8,127.0 765.4,127.1 764.9,127.4 764.5,127.3 764.0,127.4 763.6,127.7 763.1,126.9 762.7,127.8 762.2,126.8 761.8,127.8 761.3,127.5 760.9,127.3 760.4,127.5 760.0,127.1 759.5,128.0 759.1,128.9 758.6,128.5 758.2,128.2 757.7,128.7 757.3,127.1 756.8,128.1 756.4,128.0 755.9,128.2 755.5,128.0 755.0,128.5 754.6,127.5 754.1,128.1 753.7,128.6 753.2,128.5 752.8,128.2 752.3,128.6 751.9,127.4 751.4,128.6 751.0,128.6 750.5,129.1 750.1,129.2 749.6,128.1 749.2,128.6 748.7,128.5 748.3,128.8 747.8,128.1 747.4,128.2 746.9,129.2 746.5,128.6 746.0,128.2 745.6,128.7 745.1,129.4 744.7,128.1 744.2,127.8 743.8,127.6 743.3,128.6 742.9,128.2 742.4,128.1 742.0,128.0 741.5,128.3 741.1,128.8 740.6,127.8 740.2,128.1 739.7,127.9 739.3,128.6 738.8,128.2 738.4,128.6 737.9,128.5 737.5,128.3 737.0,128.1 736.6,128.7 736.1,127.8 735.7,127.7 735.2,128.1 734.8,128.7 734.3,128.6 733.9,128.1 733.4,128.5 733.0,129.3 732.5,128.7 732.1,128.6 731.6,129.5 731.2,129.6 730.7,129.2 730.3,128.5 729.8,128.4 729.4,129.1 728.9,128.6 728.5,128.8 728.0,128.3 727.6,128.9 727.1,129.1 726.7,128.5 726.2,128.9 725.8,128.5 725.3,128.5 724.9,129.4 724.4,128.8 724.0,129.4 723.5,128.7 723.1,129.2 722.6,129.2 722.2,129.5 721.7,128.4 721.3,128.8 720.8,129.4 720.4,128.9 719.9,128.7 719.5,130.0 719.0,130.0 718.6,129.6 718.1,129.7 717.7,129.5 717.2,130.7 716.8,130.1 716.3,130.8 715.9,130.4 715.4,130.3 715.0,130.4 714.5,131.4 714.1,131.1 713.6,130.7 713.2,130.6 712.7,131.3 712.3,131.2 711.8,131.3 711.4,131.7 710.9,132.1 710.5,131.7 710.0,131.7 709.6,131.5 709.1,130.5 708.7,132.2 708.2,131.9 707.8,131.8 707.3,132.3 706.9,132.7 706.4,132.2 706.0,131.5 705.5,132.2 705.1,132.5 704.6,132.7 704.2,132.2 703.7,133.2 703.3,133.2 702.8,133.5 702.4,132.7 701.9,133.1 701.5,133.8 701.0,133.6 700.6,134.0 700.1,134.4 699.7,134.4 699.2,134.6 698.8,134.3 698.3,134.1 697.9,135.1 697.4,134.8 697.0,135.1 696.5,135.2 696.1,134.9 695.6,134.7 695.2,135.3 694.7,135.5 694.3,136.4 693.8,136.6 693.4,136.1 692.9,135.9 692.5,136.8 692.0,136.1 691.6,135.9 691.1,136.0 690.7,137.0 690.2,135.8 689.8,137.0 689.3,137.5 688.9,136.5 688.4,137.4 688.0,137.8 687.5,137.9 687.1,137.7 686.6,136.9 686.2,137.7 685.7,137.9 685.3,138.1 684.8,137.7 684.4,137.6 683.9,138.1 683.5,137.3 683.0,136.4 682.6,135.8 682.1,134.0 681.7,134.2 681.2,133.0 680.8,132.3 680.3,131.7 679.9,130.9 679.4,129.4 679.0,129.0 678.5,127.9 678.1,127.1 677.6,125.9 677.2,125.2 676.7,124.3 676.3,123.5 675.8,122.8 675.4,122.1 674.9,120.5 674.5,120.6 674.0,119.8 673.6,118.8 673.1,118.8 672.7,117.4 672.2,117.4 671.8,116.8 671.3,115.9 670.9,115.4 670.4,114.5 670.0,114.0 669.5,113.7 669.1,113.2 668.6,112.7 668.2,112.6 667.7,111.5 667.3,111.6 666.8,110.9 666.4,110.9 665.9,111.5 665.5,111.5 665.0,112.1 664.6,113.4 664.1,113.5 663.7,113.4 663.2,114.1 662.8,114.3 662.3,115.4 661.9,116.1 661.4,116.6 661.0,117.0 660.5,116.9 660.1,117.9 659.6,118.6 659.2,119.5 658.7,119.9 658.3,118.9 657.8,118.8 657.4,119.5 656.9,119.3 656.5,120.4 656.0,119.6 655.6,120.4 655.1,119.1 654.7,121.1 654.2,120.5 653.8,120.1 653.3,120.5 652.9,121.4 652.4,121.3 652.0,120.4 651.5,120.5 651.1,120.3 650.6,120.5 650.2,121.9 649.7,121.0 649.3,121.1 648.8,121.0 648.4,121.1 647.9,120.9 647.5,121.8 647.0,120.2 646.6,120.3 646.1,120.1 645.7,120.5 645.2,119.6 644.8,119.9 644.3,119.0 643.9,118.7 643.4,118.9 643.0,118.0 642.5,117.8 642.1,117.2 641.6,116.2 641.2,116.6 640.7,115.3 640.3,113.7 639.8,113.2 639.4,113.1 638.9,111.1 638.5,111.0 638.0,109.7 637.6,109.6 637.1,108.3 636.7,107.4 636.2,106.0 635.8,105.9 635.3,106.0 634.9,105.4 634.4,105.6 634.0,104.8 633.5,105.2 633.1,106.1 632.6,106.2 632.2,107.8 631.7,107.5 631.3,108.7 630.8,108.4 630.4,109.2 629.9,110.1 629.5,110.2 629.0,112.1 628.6,112.4 628.1,112.7 627.7,113.6 627.2,114.7 626.8,115.2 626.3,116.1 625.9,117.2 625.4,117.9 625.0,118.8 624.5,119.4 624.1,121.0 623.6,122.2 623.2,122.0 622.7,123.9 622.3,124.2 621.8,124.5 621.4,126.1 620.9,126.5 620.5,128.3 620.0,128.3 619.6,130.3 619.1,129.5 618.7,130.6 618.2,131.4 617.8,132.9 617.3,133.2 616.9,134.3 616.4,133.5 616.0,135.2 615.5,136.0 615.1,135.9 614.6,136.5 614.2,137.8 613.7,138.7 613.3,138.4 612.8,139.0 612.4,139.3 611.9,139.2 611.5,139.1 611.0,140.7 610.6,140.6 610.1,140.8 609.7,141.3 609.2,140.2 608.8,140.1 608.3,140.5 607.9,140.4 607.4,140.4 607.0,140.6 606.5,140.0 606.1,140.6 605.6,140.5 605.2,140.4 604.7,139.3 604.3,139.8 603.8,139.1 603.4,139.5 602.9,139.4 602.5,138.8 602.0,138.9 601.6,139.2 601.1,140.0 600.7,139.3 600.2,138.8 599.8,139.1 599.3,138.5 598.9,139.3 598.4,139.8 598.0,139.9 597.5,139.0 597.1,138.8 596.6,140.0 596.2,139.1 595.7,140.0 595.3,140.3 594.8,141.0 594.4,140.4 593.9,140.2 593.5,140.5 593.0,140.4 592.6,140.4 592.1,140.7 591.7,140.8 591.2,140.7 590.8,141.0 590.3,140.7 589.9,140.6 589.4,140.6 589.0,141.5 588.5,141.8 588.1,141.1 587.6,140.5 587.2,140.9 586.7,141.1 586.3,142.1 585.8,141.5 585.4,141.4 584.9,142.0 584.5,141.9 584.0,141.0 583.6,142.0 583.1,141.0 582.7,140.9 582.2,141.7 581.8,141.1 581.3,141.5 580.9,141.5 580.4,142.5 580.0,141.9 579.5,141.2 579.1,141.7 578.6,141.8 578.2,141.5 577.7,141.7 577.3,142.5 576.8,142.1 576.4,141.6 575.9,142.3 575.5,141.6 575.0,141.9 574.6,141.3 574.1,142.1 573.7,142.0 573.2,142.0 572.8,142.0 572.3,142.6 571.9,142.2 571.4,141.7 571.0,142.1 570.5,142.3 570.1,142.6 569.6,143.1 569.2,142.1 568.7,142.2 568.3,142.4 567.8,142.7 567.4,143.2 566.9,142.6 566.5,142.5 566.0,142.5 565.6,142.7 565.1,142.7 564.7,143.0 564.2,143.1 563.8,143.2 563.3,143.5 562.9,142.0 562.4,142.7 562.0,142.6 561.5,143.6 561.1,142.9 560.6,143.1 560.2,143.5 559.7,142.9 559.3,142.9 558.8,142.5 558.4,143.0 557.9,143.0 557.5,143.1 557.0,141.8 556.6,143.2 556.1,143.4 555.7,142.8 555.2,143.7 554.8,143.8 554.3,142.4 553.9,143.0 553.4,143.0 553.0,142.5 552.5,143.5 552.1,142.7 551.6,143.3 551.2,142.6 550.7,143.1 550.3,143.3 549.8,143.4 549.4,143.1 548.9,143.0 548.5,143.1 548.0,143.1 547.6,143.6 547.1,142.6 546.7,142.5 546.2,143.1 545.8,143.7 545.3,142.8 544.9,141.6 544.4,142.2 544.0,142.8 543.5,142.1 543.1,143.1 542.6,143.6 542.2,142.9 541.7,143.1 541.3,143.0 540.8,143.4 540.4,142.9 539.9,142.4 539.5,143.1 539.0,143.0 538.6,143.5 538.1,142.5 537.7,144.0 537.2,143.2 536.8,143.3 536.3,142.7 535.9,143.2 535.4,142.7 535.0,142.7 534.5,142.8 534.1,142.7 533.6,143.3 533.2,143.1 532.7,143.3 532.3,142.4 531.8,142.7 531.4,143.0 530.9,142.4 530.5,142.7 530.0,143.1 529.6,143.0 529.1,143.1 528.7,143.2 528.2,142.2 527.8,142.4 527.3,143.5 526.9,143.1 526.4,142.7 526.0,143.5 525.5,142.4 525.1,142.6 524.6,143.8 524.2,144.0 523.7,143.5 523.3,143.4 522.8,143.5 522.4,142.6 521.9,143.8 521.5,142.9 521.0,143.6 520.6,143.5 520.1,143.5 519.7,143.4 519.2,143.1 518.8,143.6 518.3,143.6 517.9,142.5 517.4,142.9 517.0,143.3 516.5,143.5 516.1,143.7 515.6,143.2 515.2,143.1 514.7,143.0 514.3,143.5 513.8,143.0 513.4,143.0 512.9,143.2 512.5,143.3 512.0,143.0 511.6,143.8 511.1,142.6 510.7,142.7 510.2,143.1 509.8,142.9 509.3,143.3 508.9,142.7 508.4,143.0 508.0,142.9 507.5,143.2 507.1,142.0 506.6,142.5 506.2,142.6 505.7,142.0 505.3,143.2 504.8,142.7 504.4,141.7 503.9,141.5 503.5,142.1 503.0,140.6 502.6,139.9 502.1,140.0 501.7,139.3 501.2,138.6 500.8,137.4 500.3,136.7 499.9,135.6 499.4,135.1 499.0,134.6 498.5,133.2 498.1,132.9 497.6,130.8 497.2,130.2 496.7,129.2 496.3,128.6 495.8,127.6 495.4,127.8 494.9,126.3 494.5,126.1 494.1,125.5 493.6,125.1" fill="#c39bea" opacity="0.4"/>
<polygon points="493.6,125.1 494.1,125.5 494.5,126.1 494.9,126.3 495.4,127.8 495.8,127.6 496.3,128.6 496.7,129.2 497.2,130.2 497.6,130.8 498.1,132.9 498.5,133.2 499.0,134.6 499.4,135.1 499.9,135.6 500.3,136.7 500.8,137.4 501.2,138.6 501.7,139.3 502.1,140.0 502.6,139.9 503.0,140.6 503.5,142.1 503.9,141.5 504.4,141.7 504.8,142.7 505.3,143.2 505.7,142.0 506.2,142.6 506.6,142.5 507.1,142.0 507.5,143.2 508.0,142.9 508.4,143.0 508.9,142.7 509.3,143.3 509.8,142.9 510.2,143.1 510.7,142.7 511.1,142.6 511.6,143.8 512.0,143.0 512.5,143.3 512.9,143.2 513.4,143.0 513.8,143.0 514.3,143.5 514.7,143.0 515.2,143.1 515.6,143.2 516.1,143.7 516.5,143.5 517.0,143.3 517.4,142.9 517.9,142.5 518.3,143.6 518.8,143.6 519.2,143.1 519.7,143.4 520.1,143.5 520.6,143.5 521.0,143.6 521.5,142.9 521.9,143.8 522.4,142.6 522.8,143.5 523.3,143.4 523.7,143.5 524.2,144.0 524.6,143.8 525.1,142.6 525.5,142.4 526.0,143.5 526.4,142.7 526.9,143.1 527.3,143.5 527.8,142.4 528.2,142.2 528.7,143.2 529.1,143.1 529.6,143.0 530.0,143.1 530.5,142.7 530.9,142.4 531.4,143.0 531.8,142.7 532.3,142.4 532.7,143.3 533.2,143.1 533.6,143.3 534.1,142.7 534.5,142.8 535.0,142.7 535.4,142.7 535.9,143.2 536.3,142.7 536.8,143.3 537.2,143.2 537.7,144.0 538.1,142.5 538.6,143.5 539.0,143.0 539.5,143.1 539.9,142.4 540.4,142.9 540.8,143.4 541.3,143.0 541.7,143.1 542.2,142.9 542.6,143.6 543.1,143.1 543.5,142.1 544.0,142.8 544.4,142.2 544.9,141.6 545.3,142.8 545.8,143.7 546.2,143.1 546.7,142.5 547.1,142.6 547.6,143.6 548.0,143.1 548.5,143.1 548.9,143.0 549.4,143.1 549.8,143.4 550.3,143.3 550.7,143.1 551.2,142.6 551.6,143.3 552.1,142.7 552.5,143.5 553.0,142.5 553.4,143.0 553.9,143.0 554.3,142.4 554.8,143.8 555.2,143.7 555.7,142.8 556.1,143.4 556.6,143.2 557.0,141.8 557.5,143.1 557.9,143.0 558.4,143.0 558.8,142.5 559.3,142.9 559.7,142.9 560.2,143.5 560.6,143.1 561.1,142.9 561.5,143.6 562.0,142.6 562.4,142.7 562.9,142.0 563.3,143.5 563.8,143.2 564.2,143.1 564.7,143.0 565.1,142.7 565.6,142.7 566.0,142.5 566.5,142.5 566.9,142.6 567.4,143.2 567.8,142.7 568.3,142.4 568.7,142.2 569.2,142.1 569.6,143.1 570.1,142.6 570.5,142.3 571.0,142.1 571.4,141.7 571.9,142.2 572.3,142.6 572.8,142.0 573.2,142.0 573.7,142.0 574.1,142.1 574.6,141.3 575.0,141.9 575.5,141.6 575.9,142.3 576.4,141.6 576.8,142.1 577.3,142.5 577.7,141.7 578.2,141.5 578.6,141.8 579.1,141.7 579.5,141.2 580.0,141.9 580.4,142.5 580.9,141.5 581.3,141.5 581.8,141.1 582.2,141.7 582.7,140.9 583.1,141.0 583.6,142.0 584.0,141.0 584.5,141.9 584.9,142.0 585.4,141.4 585.8,141.5 586.3,142.1 586.7,141.1 587.2,140.9 587.6,140.5 588.1,141.1 588.5,141.8 589.0,141.5 589.4,140.6 589.9,140.6 590.3,140.7 590.8,141.0 591.2,140.7 591.7,140.8 592.1,140.7 592.6,140.4 593.0,140.4 593.5,140.5 593.9,140.2 594.4,140.4 594.8,141.0 595.3,140.3 595.7,140.0 596.2,139.1 596.6,140.0 597.1,138.8 597.5,139.0 598.0,139.9 598.4,139.8 598.9,139.3 599.3,138.5 599.8,139.1 600.2,138.8 600.7,139.3 601.1,140.0 601.6,139.2 602.0,138.9 602.5,138.8 602.9,139.4 603.4,139.5 603.8,139.1 604.3,139.8 604.7,139.3 605.2,140.4 605.6,140.5 606.1,140.6 606.5,140.0 607.0,140.6 607.4,140.4 607.9,140.4 608.3,140.5 608.8,140.1 609.2,140.2 609.7,141.3 610.1,140.8 610.6,140.6 611.0,140.7 611.5,139.1 611.9,139.2 612.4,139.3 612.8,139.0 613.3,138.4 613.7,138.7 614.2,137.8 614.6,136.5 615.1,135.9 615.5,136.0 616.0,135.2 616.4,133.5 616.9,134.3 617.3,133.2 617.8,132.9 618.2,131.4 618.7,130.6 619.1,129.5 619.6,130.3 620.0,128.3 620.5,128.3 620.9,126.5 621.4,126.1 621.8,124.5 622.3,124.2 622.7,123.9 623.2,122.0 623.6,122.2 624.1,121.0 624.5,119.4 625.0,118.8 625.4,117.9 625.9,117.2 626.3,116.1 626.8,115.2 627.2,114.7 627.7,113.6 628.1,112.7 628.6,112.4 629.0,112.1 629.5,110.2 629.9,110.1 630.4,109.2 630.8,108.4 631.3,108.7 631.7,107.5 632.2,107.8 632.6,106.2 633.1,106.1 633.5,105.2 634.0,104.8 634.4,105.6 634.9,105.4 635.3,106.0 635.8,105.9 636.2,106.0 636.7,107.4 637.1,108.3 637.6,109.6 638.0,109.7 638.5,111.0 638.9,111.1 639.4,113.1 639.8,113.2 640.3,113.7 640.7,115.3 641.2,116.6 641.6,116.2 642.1,117.2 642.5,117.8 643.0,118.0 643.4,118.9 643.9,118.7 644.3,119.0 644.8,119.9 645.2,119.6 645.7,120.5 646.1,120.1 646.6,120.3 647.0,120.2 647.5,121.8 647.9,120.9 648.4,121.1 648.8,121.0 649.3,121.1 649.7,121.0 650.2,121.9 650.6,120.5 651.1,120.3 651.5,120.5 652.0,120.4 652.4,121.3 652.9,121.4 653.3,120.5 653.8,120.1 654.2,120.5 654.7,121.1 655.1,119.1 655.6,120.4 656.0,119.6 656.5,120.4 656.9,119.3 657.4,119.5 657.8,118.8 658.3,118.9 658.7,119.9 659.2,119.5 659.6,118.6 660.1,117.9 660.5,116.9 661.0,117.0 661.4,116.6 661.9,116.1 662.3,115.4 662.8,114.3 663.2,114.1 663.7,113.4 664.1,113.5 664.6,113.4 665.0,112.1 665.5,111.5 665.9,111.5 666.4,110.9 666.8,110.9 667.3,111.6 667.7,111.5 668.2,112.6 668.6,112.7 669.1,113.2 669.5,113.7 670.0,114.0 670.4,114.5 670.9,115.4 671.3,115.9 671.8,116.8 672.2,117.4 672.7,117.4 673.1,118.8 673.6,118.8 674.0,119.8 674.5,120.6 674.9,120.5 675.4,122.1 675.8,122.8 676.3,123.5 676.7,124.3 677.2,125.2 677.6,125.9 678.1,127.1 678.5,127.9 679.0,129.0 679.4,129.4 679.9,130.9 680.3,131.7 680.8,132.3 681.2,133.0 681.7,134.2 682.1,134.0 682.6,135.8 683.0,136.4 683.5,137.3 683.9,138.1 684.4,137.6 684.8,137.7 685.3,138.1 685.7,137.9 686.2,137.7 686.6,136.9 687.1,137.7 687.5,137.9 688.0,137.8 688.4,137.4 688.9,136.5 689.3,137.5 689.8,137.0 690.2,135.8 690.7,137.0 691.1,136.0 691.6,135.9 692.0,136.1 692.5,136.8 692.9,135.9 693.4,136.1 693.8,136.6 694.3,136.4 694.7,135.5 695.2,135.3 695.6,134.7 696.1,134.9 696.5,135.2 697.0,135.1 697.4,134.8 697.9,135.1 698.3,134.1 698.8,134.3 699.2,134.6 699.7,134.4 700.1,134.4 700.6,134.0 701.0,133.6 701.5,133.8 701.9,133.1 702.4,132.7 702.8,133.5 703.3,133.2 703.7,133.2 704.2,132.2 704.6,132.7 705.1,132.5 705.5,132.2 706.0,131.5 706.4,132.2 706.9,132.7 707.3,132.3 707.8,131.8 708.2,131.9 708.7,132.2 709.1,130.5 709.6,131.5 710.0,131.7 710.5,131.7 710.9,132.1 711.4,131.7 711.8,131.3 712.3,131.2 712.7,131.3 713.2,130.6 713.6,130.7 714.1,131.1 714.5,131.4 715.0,130.4 715.4,130.3 715.9,130.4 716.3,130.8 716.8,130.1 717.2,130.7 717.7,129.5 718.1,129.7 718.6,129.6 719.0,130.0 719.5,130.0 719.9,128.7 720.4,128.9 720.8,129.4 721.3,128.8 721.7,128.4 722.2,129.5 722.6,129.2 723.1,129.2 723.5,128.7 724.0,129.4 724.4,128.8 724.9,129.4 725.3,128.5 725.8,128.5 726.2,128.9 726.7,128.5 727.1,129.1 727.6,128.9 728.0,128.3 728.5,128.8 728.9,128.6 729.4,129.1 729.8,128.4 730.3,128.5 730.7,129.2 731.2,129.6 731.6,129.5 732.1,128.6 732.5,128.7 733.0,129.3 733.4,128.5 733.9,128.1 734.3,128.6 734.8,128.7 735.2,128.1 735.7,127.7 736.1,127.8 736.6,128.7 737.0,128.1 737.5,128.3 737.9,128.5 738.4,128.6 738.8,128.2 739.3,128.6 739.7,127.9 740.2,128.1 740.6,127.8 741.1,128.8 741.5,128.3 742.0,128.0 742.4,128.1 742.9,128.2 743.3,128.6 743.8,127.6 744.2,127.8 744.7,128.1 745.1,129.4 745.6,128.7 746.0,128.2 746.5,128.6 746.9,129.2 747.4,128.2 747.8,128.1 748.3,128.8 748.7,128.5 749.2,128.6 749.6,128.1 750.1,129.2 750.5,129.1 751.0,128.6 751.4,128.6 751.9,127.4 752.3,128.6 752.8,128.2 753.2,128.5 753.7,128.6 754.1,128.1 754.6,127.5 755.0,128.5 755.5,128.0 755.9,128.2 756.4,128.0 756.8,128.1 757.3,127.1 757.7,128.7 758.2,128.2 758.6,128.5 759.1,128.9 759.5,128.0 760.0,127.1 760.4,127.5 760.9,127.3 761.3,127.5 761.8,127.8 762.2,126.8 762.7,127.8 763.1,126.9 763.6,127.7 764.0,127.4 764.5,127.3 764.9,127.4 765.4,127.1 765.8,127.0 766.3,126.5 766.7,127.2 767.2,128.0 767.6,128.0 768.1,127.7 768.5,127.4 769.0,126.7 769.4,127.6 769.9,126.9 770.3,126.8 770.8,126.7 771.2,126.8 771.7,126.5 772.1,126.6 772.6,126.2 773.0,126.4 773.5,127.5 773.9,126.4 774.4,126.3 774.8,126.6 775.3,126.6 775.7,125.7 776.2,126.0 776.6,126.5 777.1,126.1 777.5,126.0 778.0,126.5 778.4,125.5 778.9,125.7 779.3,125.4 779.8,126.2 780.2,124.6 780.7,125.1 781.1,125.1 781.6,125.6 782.0,125.5 782.5,125.8 782.9,124.4 783.4,125.3 783.8,124.8 784.3,124.6 784.7,125.0 785.2,124.3 785.6,123.7 786.1,124.4 786.5,123.9 787.0,124.2 787.4,124.6 787.9,124.5 788.3,125.0 788.8,124.1 789.2,123.4 789.7,123.7 790.1,123.6 790.6,123.4 791.0,124.1 791.5,123.6 791.9,122.9 792.4,124.1 792.8,123.7 793.3,123.8 793.7,123.7 794.2,123.9 794.6,123.6 795.1,124.0 795.5,123.6 796.0,123.6 796.4,123.5 796.9,122.7 797.3,123.2 797.8,123.1 798.2,123.3 798.7,122.5 799.1,123.8 799.6,123.1 800.0,122.4 800.5,122.2 800.9,122.8 801.4,122.8 801.8,122.5 802.3,122.8 802.7,122.4 803.2,122.9 803.6,122.3 804.1,122.6 804.5,123.0 805.0,123.7 805.4,122.0 805.9,122.2 806.3,122.0 806.8,122.7 807.2,121.8 807.7,122.0 808.1,122.2 808.6,121.7 809.0,121.7 809.5,121.8 809.9,121.0 810.4,121.3 810.8,121.7 811.3,121.9 811.7,121.7 812.2,121.0 812.6,121.5 813.1,122.0 813.5,121.9 814.0,121.5 814.4,121.1 814.9,121.8 815.3,121.2 815.8,120.8 816.2,121.0 816.7,121.9 817.1,121.3 817.6,121.7 818.0,120.9 818.5,121.5 818.9,120.8 819.4,120.9 819.8,122.1 820.3,121.2 820.7,120.6 821.2,120.8 821.6,120.9 822.1,121.3 822.5,120.4 823.0,119.8 823.4,120.4 823.9,120.5 824.3,120.5 824.8,121.0 825.2,120.5 825.7,120.7 826.1,119.8 826.6,120.6 827.0,121.1 827.0,124.7 826.6,124.7 826.1,124.7 825.7,125.6 825.2,125.0 824.8,124.5 824.3,124.6 823.9,124.8 823.4,125.3 823.0,125.0 822.5,125.2 822.1,125.7 821.6,125.1 821.2,125.8 820.7,125.5 820.3,125.9 819.8,125.3 819.4,125.4 818.9,125.6 818.5,126.5 818.0,125.8 817.6,125.8 817.1,125.8 816.7,127.0 816.2,126.0 815.8,126.0 815.3,126.6 814.9,126.4 814.4,126.6 814.0,126.5 813.5,126.8 813.1,127.7 812.6,126.5 812.2,127.0 811.7,127.4 811.3,127.0 810.8,127.1 810.4,127.4 809.9,127.8 809.5,128.1 809.0,127.2 808.6,127.6 808.1,127.4 807.7,127.8 807.2,127.9 806.8,127.8 806.3,128.3 805.9,127.7 805.4,129.0 805.0,128.3 804.5,128.1 804.1,128.1 803.6,128.2 803.2,128.9 802.7,129.1 802.3,128.5 801.8,129.1 801.4,128.9 800.9,129.7 800.5,128.9 800.0,129.8 799.6,129.7 799.1,129.8 798.7,130.2 798.2,129.6 797.8,130.1 797.3,129.5 796.9,131.2 796.4,129.7 796.0,130.2 795.5,130.6 795.1,130.5 794.6,130.6 794.2,131.1 793.7,130.5 793.3,130.4 792.8,130.7 792.4,130.6 791.9,131.5 791.5,130.8 791.0,131.5 790.6,131.7 790.1,131.0 789.7,131.3 789.2,131.8 788.8,132.5 788.3,133.2 787.9,132.0 787.4,132.7 787.0,132.0 786.5,132.2 786.1,132.1 785.6,132.4 785.2,132.7 784.7,133.1 784.3,133.7 783.8,133.5 783.4,133.0 782.9,133.0 782.5,133.1 782.0,133.5 781.6,133.6 781.1,133.9 780.7,133.7 780.2,134.0 779.8,134.5 779.3,134.3 778.9,134.2 778.4,135.1 778.0,134.9 777.5,135.0 777.1,136.0 776.6,135.0 776.2,134.8 775.7,135.7 775.3,135.4 774.8,136.1 774.4,135.4 773.9,136.2 773.5,136.1 773.0,135.6 772.6,135.8 772.1,136.0 771.7,135.8 771.2,135.8 770.8,136.2 770.3,136.2 769.9,136.2 769.4,135.8 769.0,135.8 768.5,136.3 768.1,137.4 767.6,136.4 767.2,135.9 766.7,136.0 766.3,136.4 765.8,136.3 765.4,136.3 764.9,136.4 764.5,136.3 764.0,136.3 763.6,136.3 763.1,136.7 762.7,136.1 762.2,136.5 761.8,136.7 761.3,137.0 760.9,137.0 760.4,137.4 760.0,136.4 759.5,136.7 759.1,137.7 758.6,136.4 758.2,137.1 757.7,136.5 757.3,136.7 756.8,136.9 756.4,137.4 755.9,136.6 755.5,136.7 755.0,136.7 754.6,137.3 754.1,137.6 753.7,138.3 753.2,138.4 752.8,137.2 752.3,137.7 751.9,137.8 751.4,137.8 751.0,137.2 750.5,137.5 750.1,138.1 749.6,137.5 749.2,137.7 748.7,137.7 748.3,138.1 747.8,137.5 747.4,137.4 746.9,137.9 746.5,137.5 746.0,138.3 745.6,137.7 745.1,138.5 744.7,137.8 744.2,137.9 743.8,138.0 743.3,137.9 742.9,137.9 742.4,138.3 742.0,138.0 741.5,138.3 741.1,138.3 740.6,138.2 740.2,139.4 739.7,138.9 739.3,138.8 738.8,138.8 738.4,138.7 737.9,138.4 737.5,138.7 737.0,139.3 736.6,138.4 736.1,139.2 735.7,138.6 735.2,139.3 734.8,139.1 734.3,138.8 733.9,139.1 733.4,139.5 733.0,138.8 732.5,139.6 732.1,140.0 731.6,139.0 731.2,139.1 730.7,139.6 730.3,139.1 729.8,140.1 729.4,140.5 728.9,139.3 728.5,140.0 728.0,139.3 727.6,140.3 727.1,140.4 726.7,140.4 726.2,140.1 725.8,140.7 725.3,140.1 724.9,141.4 724.4,141.2 724.0,140.2 723.5,140.2 723.1,140.6 722.6,140.0 722.2,140.6 721.7,140.8 721.3,140.7 720.8,140.9 720.4,141.9 719.9,141.7 719.5,141.5 719.0,141.1 718.6,140.9 718.1,142.1 717.7,141.2 717.2,141.2 716.8,141.3 716.3,142.2 715.9,141.6 715.4,141.7 715.0,141.8 714.5,141.9 714.1,142.0 713.6,142.3 713.2,142.7 712.7,142.1 712.3,142.2 711.8,142.9 711.4,142.9 710.9,142.5 710.5,143.4 710.0,142.7 709.6,142.7 709.1,143.2 708.7,143.2 708.2,143.7 707.8,144.1 707.3,143.3 706.9,143.2 706.4,144.2 706.0,144.1 705.5,144.5 705.1,143.8 704.6,144.3 704.2,144.4 703.7,144.2 703.3,143.9 702.8,144.7 702.4,144.5 701.9,144.3 701.5,144.4 701.0,144.8 700.6,144.5 700.1,144.6 699.7,145.3 699.2,145.5 698.8,145.4 698.3,145.2 697.9,145.8 697.4,145.6 697.0,146.9 696.5,145.9 696.1,146.5 695.6,145.8 695.2,145.8 694.7,146.9 694.3,146.8 693.8,146.9 693.4,146.4 692.9,146.5 692.5,147.4 692.0,146.8 691.6,147.3 691.1,148.6 690.7,147.4 690.2,147.8 689.8,148.0 689.3,148.5 688.9,149.0 688.4,148.7 688.0,148.5 687.5,149.1 687.1,148.9 686.6,149.6 686.2,149.4 685.7,150.4 685.3,150.4 684.8,149.6 684.4,150.0 683.9,149.8 683.5,149.0 683.0,148.3 682.6,147.5 682.1,147.3 681.7,146.9 681.2,145.5 680.8,145.1 680.3,144.1 679.9,143.8 679.4,142.9 679.0,142.0 678.5,141.4 678.1,139.8 677.6,139.8 677.2,138.7 676.7,137.6 676.3,137.4 675.8,136.1 675.4,135.3 674.9,134.5 674.5,133.7 674.0,132.8 673.6,132.6 673.1,131.5 672.7,130.7 672.2,129.5 671.8,128.7 671.3,128.7 670.9,127.6 670.4,128.1 670.0,125.7 669.5,125.1 669.1,124.5 668.6,124.1 668.2,123.3 667.7,123.4 667.3,122.7 666.8,122.4 666.4,122.4 665.9,122.8 665.5,123.2 665.0,124.4 664.6,124.5 664.1,126.0 663.7,126.3 663.2,126.8 662.8,128.1 662.3,128.4 661.9,129.8 661.4,130.4 661.0,131.4 660.5,133.4 660.1,133.0 659.6,134.3 659.2,134.8 658.7,134.7 658.3,135.2 657.8,136.0 657.4,136.0 656.9,136.0 656.5,136.6 656.0,136.6 655.6,136.9 655.1,137.1 654.7,138.2 654.2,138.0 653.8,138.8 653.3,139.0 652.9,139.3 652.4,139.5 652.0,139.3 651.5,139.3 651.1,139.6 650.6,140.0 650.2,140.0 649.7,140.7 649.3,140.6 648.8,141.3 648.4,140.7 647.9,141.6 647.5,141.7 647.0,142.1 646.6,141.7 646.1,141.7 645.7,140.5 645.2,141.2 644.8,140.2 644.3,139.6 643.9,139.4 643.4,139.3 643.0,138.5 642.5,138.1 642.1,137.9 641.6,136.5 641.2,134.6 640.7,133.8 640.3,132.9 639.8,130.5 639.4,128.6 638.9,126.4 638.5,125.1 638.0,122.7 637.6,120.5 637.1,118.7 636.7,117.6 636.2,115.7 635.8,114.4 635.3,113.7 634.9,112.8 634.4,112.4 634.0,111.7 633.5,111.5 633.1,112.4 632.6,113.3 632.2,113.6 631.7,115.4 631.3,115.0 630.8,115.7 630.4,116.4 629.9,117.6 629.5,118.2 629.0,119.0 628.6,120.0 628.1,122.0 627.7,122.6 627.2,123.2 626.8,124.5 626.3,124.5 625.9,125.6 625.4,126.4 625.0,127.0 624.5,128.1 624.1,129.4 623.6,129.7 623.2,130.9 622.7,132.1 622.3,133.4 621.8,133.8 621.4,134.3 620.9,135.5 620.5,135.9 620.0,136.5 619.6,137.3 619.1,138.5 618.7,140.2 618.2,139.6 617.8,140.3 617.3,141.5 616.9,141.7 616.4,143.0 616.0,143.4 615.5,144.0 615.1,144.6 614.6,145.1 614.2,146.5 613.7,147.7 613.3,147.3 612.8,147.2 612.4,147.8 611.9,149.1 611.5,149.0 611.0,149.8 610.6,149.8 610.1,150.4 609.7,149.6 609.2,150.6 608.8,149.6 608.3,150.3 607.9,149.3 607.4,149.3 607.0,148.8 606.5,148.3 606.1,148.4 605.6,148.1 605.2,148.0 604.7,147.4 604.3,147.9 603.8,147.5 603.4,147.0 602.9,146.5 602.5,146.1 602.0,145.8 601.6,145.7 601.1,145.6 600.7,145.8 600.2,146.4 599.8,146.1 599.3,146.8 598.9,146.5 598.4,147.4 598.0,147.2 597.5,147.4 597.1,147.9 596.6,148.0 596.2,148.0 595.7,148.4 595.3,148.3 594.8,148.4 594.4,148.8 593.9,149.9 593.5,148.7 593.0,149.5 592.6,150.1 592.1,150.0 591.7,149.3 591.2,149.2 590.8,149.5 590.3,149.5 589.9,149.7 589.4,149.3 589.0,149.3 588.5,149.6 588.1,149.2 587.6,150.5 587.2,149.9 586.7,149.3 586.3,149.4 585.8,149.3 585.4,149.3 584.9,149.4 584.5,149.9 584.0,150.7 583.6,150.1 583.1,150.2 582.7,149.3 582.2,149.8 581.8,149.7 581.3,149.9 580.9,149.7 580.4,149.9 580.0,149.9 579.5,150.3 579.1,149.5 578.6,149.6 578.2,149.7 577.7,150.6 577.3,149.6 576.8,150.1 576.4,149.9 575.9,149.4 575.5,149.7 575.0,149.7 574.6,149.6 574.1,149.7 573.7,149.8 573.2,149.5 572.8,149.7 572.3,149.9 571.9,149.9 571.4,150.7 571.0,149.3 570.5,150.1 570.1,149.4 569.6,149.7 569.2,149.4 568.7,149.8 568.3,149.4 567.8,150.4 567.4,150.3 566.9,149.3 566.5,149.7 566.0,149.4 565.6,149.6 565.1,149.8 564.7,149.3 564.2,149.3 563.8,150.3 563.3,149.6 562.9,149.3 562.4,149.4 562.0,149.4 561.5,150.1 561.1,149.6 560.6,149.9 560.2,150.2 559.7,149.8 559.3,150.5 558.8,149.9 558.4,150.3 557.9,150.1 557.5,149.4 557.0,149.4 556.6,149.7 556.1,149.7 555.7,149.5 555.2,150.6 554.8,149.4 554.3,150.3 553.9,149.4 553.4,149.3 553.0,149.3 552.5,149.5 552.1,149.5 551.6,149.6 551.2,149.8 550.7,150.3 550.3,149.5 549.8,150.5 549.4,149.5 548.9,149.5 548.5,149.5 548.0,149.7 547.6,149.5 547.1,149.5 546.7,149.9 546.2,149.8 545.8,149.3 545.3,149.4 544.9,149.4 544.4,149.5 544.0,149.9 543.5,149.6 543.1,149.3 542.6,149.3 542.2,149.9 541.7,149.3 541.3,149.9 540.8,149.6 540.4,149.3 539.9,150.2 539.5,149.8 539.0,149.8 538.6,149.5 538.1,149.8 537.7,149.4 537.2,149.8 536.8,149.9 536.3,149.6 535.9,150.6 535.4,149.9 535.0,149.3 534.5,149.7 534.1,149.5 533.6,149.3 533.2,149.7 532.7,149.7 532.3,149.7 531.8,149.9 531.4,150.4 530.9,150.3 530.5,150.4 530.0,149.5 529.6,149.8 529.1,149.8 528.7,150.6 528.2,149.6 527.8,150.0 527.3,149.8 526.9,149.4 526.4,149.9 526.0,149.5 525.5,149.6 525.1,149.3 524.6,149.3 524.2,149.6 523.7,149.6 523.3,149.3 522.8,149.5 522.4,149.7 521.9,149.7 521.5,149.5 521.0,149.5 520.6,150.0 520.1,149.8 519.7,149.5 519.2,150.1 518.8,149.3 518.3,150.0 517.9,150.0 517.4,149.7 517.0,150.0 516.5,150.1 516.1,150.0 515.6,149.4 515.2,149.7 514.7,149.6 514.3,149.9 513.8,149.3 513.4,149.4 512.9,149.7 512.5,149.8 512.0,150.6 511.6,149.6 511.1,149.6 510.7,149.3 510.2,149.7 509.8,149.4 509.3,149.6 508.9,149.2 508.4,149.9 508.0,149.0 507.5,149.5 507.1,149.6 506.6,149.7 506.2,148.7 505.7,148.7 505.3,148.9 504.8,148.6 504.4,149.3 503.9,149.1 503.5,148.0 503.0,147.6 502.6,146.6 502.1,146.8 501.7,145.8 501.2,144.7 500.8,144.3 500.3,143.4 499.9,142.0 499.4,141.8 499.0,140.4 498.5,139.6 498.1,138.9 497.6,138.1 497.2,137.4 496.7,136.8 496.3,135.8 495.8,134.8 495.4,134.6 494.9,134.4 494.5,132.7 494.1,132.0 493.6,131.6" fill="#c39bea"/>
<path d="M508.27,144.0V141.9M509.59,144.1V140.5M512.22,144.2V133.3M513.53,144.2V128.7M516.17,144.2V134.2M517.48,144.2V137.6M520.11,144.2V138.9M521.43,144.2V138.7M524.06,144.1V139.2M525.38,144.1V140.8M528.01,144.1V139.2M529.33,144.1V139.2M531.96,144.1V139.8M533.27,144.1V139.4M535.91,144.1V139.3M537.22,144.1V140.0M539.85,144.1V139.4M541.17,144.1V137.7M543.80,144.1V137.7M545.12,144.1V137.1M547.75,144.0V135.8M549.07,144.0V133.7M551.70,144.0V131.5M553.01,144.0V130.4M555.65,144.0V127.6M556.96,144.0V126.7M559.59,144.0V125.5M560.91,143.9V124.3M563.54,143.8V122.3M564.86,143.7V121.9M567.49,143.5V119.7M568.81,143.4V120.4M571.44,143.2V117.5M572.75,143.1V117.4M575.39,143.0V114.3M576.70,142.9V113.7M579.33,142.7V112.7M580.65,142.6V111.7M583.28,142.4V109.0M584.60,142.4V109.7M587.23,142.2V107.3M588.55,142.1V106.5M591.18,141.8V104.2M592.49,141.5V103.6M595.13,141.1V102.8M596.44,140.8V101.9M599.07,140.4V99.3M600.39,140.1V98.4M603.02,140.4V95.9M604.34,140.7V97.0M606.97,141.3V93.8M608.29,141.6V93.5M610.92,141.3V91.5M612.23,140.3V91.0M614.87,137.7V89.5M616.18,135.7V88.7M618.81,131.6V87.3M620.13,129.3V85.8M622.76,124.5V84.1M624.08,121.8V83.9M626.71,116.8V82.6M628.03,114.5V83.6M630.66,110.1V83.0M631.97,108.4V81.3M634.61,106.4V83.3M635.92,107.0V82.6M638.55,112.1V82.2M639.87,114.7V84.5M642.50,119.1V85.6M643.82,120.0V84.4M646.45,121.8V86.8M647.77,122.0V88.3M650.40,122.0V89.2M651.71,122.0V91.8M654.35,121.6V91.7M655.66,121.2V92.7M658.29,120.4V95.0M659.61,119.9V96.1M662.24,116.6V95.5M663.56,114.7V98.0M666.19,112.3V99.2M667.51,112.8V100.2M670.14,115.5V101.2M671.45,117.3V101.3M674.09,121.1V104.5M675.40,123.1V104.4M678.03,128.1V106.5M679.35,130.7V106.9M681.98,135.5V109.9M683.30,137.8V109.9M685.93,138.7V111.4M687.25,138.5V112.6M689.88,138.0V112.7M691.19,137.6V114.4M693.83,136.9V114.5M695.14,136.5V115.5M697.77,135.7V117.0M699.09,135.3V117.4M701.72,134.6V118.9M703.04,134.2V118.0M705.67,133.6V120.4M706.99,133.3V120.6M709.62,132.6V120.9M710.93,132.3V121.1M713.57,131.8V121.9M714.88,131.5V121.7M717.51,130.9V123.4M718.83,130.7V123.9M721.46,130.1V123.9M722.78,130.0V124.3M725.41,129.9V125.7M726.73,129.8V124.4M729.36,129.7V125.7M730.67,129.7V125.9M733.31,129.6V126.8M734.62,129.5V126.0M737.25,129.4V126.7M738.57,129.4V127.5M742.52,129.3V127.5M745.15,129.3V127.6M749.10,129.3V127.9M753.05,129.3V128.2M756.99,129.2V127.8M768.84,128.0V126.8M778.05,126.8V125.7" stroke="#c39dec" stroke-width="0.8" fill="none"/>
<path d="M510.90,144.2V136.7M514.85,144.2V128.7M518.80,144.2V138.0M522.75,144.1V139.0M526.69,144.1V139.3M530.64,144.1V139.4M534.59,144.1V140.5M538.54,144.1V139.2M542.49,144.1V138.1M546.43,144.1V135.3M550.38,144.0V132.4M554.33,144.0V129.7M558.28,144.0V126.5M562.23,143.9V123.4M566.17,143.6V121.8M570.12,143.3V119.1M574.07,143.1V115.3M578.02,142.8V113.4M581.97,142.5V111.2M585.91,142.3V107.7M589.86,142.0V105.2M593.81,141.3V103.3M597.76,140.6V100.1M601.71,140.2V98.3M605.65,141.0V95.0M609.60,141.9V92.9M613.55,139.3V89.6M617.50,133.8V87.1M621.45,127.0V85.2M625.39,119.2V84.1M629.34,112.2V83.2M633.29,106.7V82.7M637.24,109.5V83.2M641.19,117.1V84.2M645.13,120.9V86.5M649.08,122.0V88.2M653.03,122.0V90.8M656.98,120.8V93.0M660.93,118.3V95.4M664.87,113.3V98.7M668.82,113.9V99.9M672.77,119.2V102.2M676.72,125.4V107.1M680.67,133.2V108.5M684.61,138.9V109.7M688.56,138.2V112.2M692.51,137.2V114.5M696.46,136.1V115.8M700.41,134.9V118.6M704.35,133.9V119.7M708.30,132.9V121.4M712.25,132.0V122.7M716.20,131.2V124.0M720.15,130.4V123.5M724.09,129.9V125.0M728.04,129.8V126.5M731.99,129.6V127.1M735.94,129.5V128.2M739.89,129.3V127.6M747.78,129.3V127.6M759.63,128.9V127.6M771.47,127.8V125.9" stroke="#b68ae7" stroke-width="0.9" fill="none"/>
<line x1="510.90" y1="143.00" x2="510.90" y2="129.50" stroke="#dcc4f4" stroke-width="0.8" />
<line x1="513.40" y1="143.00" x2="513.40" y2="127.00" stroke="#dcc4f4" stroke-width="0.9" />
<line x1="514.70" y1="143.00" x2="514.70" y2="125.70" stroke="#dcc4f4" stroke-width="1.0" />
<line x1="516.10" y1="143.00" x2="516.10" y2="130.00" stroke="#dcc4f4" stroke-width="0.8" />
<line x1="518.70" y1="143.00" x2="518.70" y2="134.00" stroke="#dcc4f4" stroke-width="0.7" />
<line x1="521.30" y1="143.00" x2="521.30" y2="136.00" stroke="#dcc4f4" stroke-width="0.7" />
<path d="M499.2,139.6V142.6M503.5,146.3V148.4M507.1,147.8V150.4M510.5,148.3V151.3M516.1,148.3V151.3M518.7,148.3V151.3M520.4,148.3V150.3M527.3,148.3V150.5M541.2,148.3V150.1M543.2,148.3V150.9M546.1,148.3V151.5M547.0,148.3V150.2M553.0,148.2V149.9M562.7,148.2V150.9M563.9,148.2V150.0M565.3,148.2V151.3M566.2,148.2V151.7M568.4,148.2V150.5M570.2,148.2V151.4M573.4,148.2V150.1M577.0,148.2V149.9M582.8,148.2V151.2M587.8,148.2V150.6M588.8,148.2V151.0M591.7,147.9V150.4M596.0,147.0V149.9M600.8,144.5V146.9M603.4,145.6V148.6M605.0,146.5V149.1M606.7,147.2V149.7M610.0,148.7V150.5M616.8,140.8V143.3M619.2,136.8V138.5M623.3,129.5V131.9M629.0,118.0V120.0M630.6,115.0V117.6M636.6,115.4V118.6M643.2,137.6V141.1M645.0,138.9V140.9M651.6,138.1V139.8M657.0,134.7V138.1M658.9,133.4V136.7M667.7,121.8V123.6M669.2,123.3V125.3M670.1,124.8V127.9M672.5,128.8V130.9M676.2,135.3V138.3M677.5,137.6V140.1M680.7,143.2V146.5M686.6,148.0V150.1M687.5,147.7V151.1M691.5,145.9V148.8M698.0,144.0V147.4M702.6,143.0V146.0M705.4,142.4V145.6M709.0,141.7V144.5M712.4,141.0V142.7M715.2,140.4V143.0M720.6,139.3V142.7M722.3,139.0V142.2M728.3,138.3V140.3M731.4,138.0V141.3M735.6,137.5V139.9M736.6,137.4V140.7M740.6,136.9V140.4M747.3,136.3V139.2M755.3,135.6V137.6M756.5,135.5V137.3M758.4,135.4V137.2M760.1,135.3V137.3M763.4,135.1V137.1M768.7,134.8V136.3M773.4,134.4V136.6M782.3,132.0V133.6M785.8,131.1V133.1M788.7,130.3V133.0M796.7,128.6V130.6M802.5,127.4V129.5M803.6,127.2V129.7M807.1,126.5V128.8M817.3,124.7V127.9M825.7,123.2V126.3M687.0,147.9V150.5M688.1,147.4V150.5M689.2,146.9V150.1M690.4,146.4V150.5M694.3,145.0V150.5M698.0,144.0V149.2M699.0,143.8V149.3M700.1,143.5V148.8M703.3,142.8V149.5M704.3,142.6V147.9M705.5,142.4V150.5M706.4,142.2V145.3M707.7,142.0V150.1M708.8,141.7V149.6M709.9,141.5V150.0M710.8,141.3V148.4M713.8,140.7V146.2M715.1,140.4V147.2M716.3,140.2V143.3M717.2,140.0V147.3M718.4,139.7V146.5M719.7,139.5V142.8M720.9,139.2V147.5M720.0,139.4V144.9M724.8,138.7V141.7M727.0,138.4V140.8M734.9,137.6V140.3M737.3,137.3V142.4M740.0,137.0V140.1M744.3,136.6V139.5M750.5,136.0V141.1M763.5,135.1V138.4M765.5,134.9V139.1M767.1,134.8V137.3M769.6,134.7V141.4M774.8,134.0V140.8M777.8,133.2V139.7M781.8,132.2V139.0M783.4,131.7V134.9M785.2,131.3V137.7M786.3,131.0V133.8M791.9,129.6V132.9M794.3,129.1V135.8M796.1,128.7V130.8M797.4,128.5V132.7" stroke="#c39bea" stroke-width="0.7" fill="none"/>
<line x1="637.40" y1="86.20" x2="637.40" y2="54.80" stroke="#c9a6ee" stroke-width="1.15" />
<line x1="654.80" y1="95.36" x2="654.80" y2="79.90" stroke="#c9a6ee" stroke-width="1.15" />
<line x1="670.50" y1="104.52" x2="670.50" y2="72.40" stroke="#c9a6ee" stroke-width="1.15" />
<line x1="686.20" y1="114.30" x2="686.20" y2="85.90" stroke="#c9a6ee" stroke-width="1.15" />
<line x1="702.00" y1="121.54" x2="702.00" y2="94.80" stroke="#c9a6ee" stroke-width="1.15" />
<line x1="749.40" y1="131.09" x2="749.40" y2="111.50" stroke="#c9a6ee" stroke-width="1.15" />
<line x1="774.10" y1="129.83" x2="774.10" y2="118.00" stroke="#c9a6ee" stroke-width="1.15" />
<line x1="765.60" y1="130.72" x2="765.60" y2="124.90" stroke="#c9a6ee" stroke-width="1.15" />
<line x1="493.30" y1="53.00" x2="493.30" y2="153.80" stroke="#111" stroke-width="1.2" />
<line x1="492.70" y1="153.30" x2="827.30" y2="153.30" stroke="#111" stroke-width="1.2" />
<line x1="490.60" y1="69.50" x2="493.30" y2="69.50" stroke="#111" stroke-width="1.0" />
<text x="487.70" y="71.70" font-size="10" text-anchor="end" font-weight="normal" >0</text>
<line x1="490.60" y1="89.74" x2="493.30" y2="89.74" stroke="#111" stroke-width="1.0" />
<text x="487.70" y="93.90" font-size="10" text-anchor="end" font-weight="normal" >−20</text>
<line x1="490.60" y1="109.98" x2="493.30" y2="109.98" stroke="#111" stroke-width="1.0" />
<text x="487.70" y="113.70" font-size="10" text-anchor="end" font-weight="normal" >−40</text>
<line x1="490.60" y1="130.22" x2="493.30" y2="130.22" stroke="#111" stroke-width="1.0" />
<text x="487.70" y="133.50" font-size="10" text-anchor="end" font-weight="normal" >−60</text>
<line x1="490.60" y1="150.46" x2="493.30" y2="150.46" stroke="#111" stroke-width="1.0" />
<text x="487.70" y="149.40" font-size="10" text-anchor="end" font-weight="normal" >−80</text>
<line x1="526.30" y1="153.30" x2="526.30" y2="156.20" stroke="#111" stroke-width="1.0" />
<text x="528.60" y="167.50" font-size="10" text-anchor="middle" font-weight="normal" >200</text>
<line x1="592.10" y1="153.30" x2="592.10" y2="156.20" stroke="#111" stroke-width="1.0" />
<text x="593.45" y="167.50" font-size="10" text-anchor="middle" font-weight="normal" >250</text>
<line x1="657.90" y1="153.30" x2="657.90" y2="156.20" stroke="#111" stroke-width="1.0" />
<text x="658.30" y="167.50" font-size="10" text-anchor="middle" font-weight="normal" >300</text>
<line x1="723.70" y1="153.30" x2="723.70" y2="156.20" stroke="#111" stroke-width="1.0" />
<text x="723.15" y="167.50" font-size="10" text-anchor="middle" font-weight="normal" >350</text>
<line x1="789.50" y1="153.30" x2="789.50" y2="156.20" stroke="#111" stroke-width="1.0" />
<text x="788.00" y="167.50" font-size="10" text-anchor="middle" font-weight="normal" >400</text>
<text x="660.30" y="181.00" font-size="9.8" text-anchor="middle" font-weight="normal" >Frequency (THz)</text>
<text transform="translate(463.2,103.8) rotate(-90)" font-size="10.2" text-anchor="middle">Power (dB)</text>
<text x="458.50" y="54.10" font-size="14" text-anchor="start" font-weight="bold" >c</text>
<line x1="500.70" y1="57.00" x2="519.10" y2="57.00" stroke="#bd93e9" stroke-width="1.7" />
<line x1="500.70" y1="67.50" x2="519.10" y2="67.50" stroke="#0b78c0" stroke-width="1.7" />
<text x="527.00" y="60.00" font-size="8.4" text-anchor="start" font-weight="normal" >single pump</text>
<text x="527.00" y="70.50" font-size="8.4" text-anchor="start" font-weight="normal" >KIS microcomb</text>
<text x="520.10" y="93.60" font-size="8.3" text-anchor="start" font-weight="normal" >ref</text>
<text x="520.10" y="101.00" font-size="8.3" text-anchor="start" font-weight="normal" >pmp</text>
<text x="616.60" y="53.90" font-size="8.3" text-anchor="start" font-weight="normal" >main</text>
<text x="616.60" y="61.80" font-size="8.3" text-anchor="start" font-weight="normal" >pmp</text>
<text x="654.00" y="70.70" font-size="8.3" text-anchor="start" font-weight="normal" >cooler</text>
<path d="M740.4,83.7L770.3,93.8H784L827,77M770.3,93.8V103.6M784,93.8V103.6" stroke="#222" stroke-width="1" fill="none"/>
<polygon points="727.4,66.6 728.0,66.9 728.6,65.8 729.3,66.4 729.9,66.4 730.5,64.5 731.1,65.2 731.7,64.1 732.4,64.5 733.0,66.7 733.6,66.0 734.2,66.0 734.8,64.9 735.5,66.5 736.1,66.8 736.7,65.6 737.3,65.9 737.9,65.0 738.6,65.2 739.2,65.1 739.8,66.3 740.4,65.9 741.0,66.2 741.7,66.7 742.3,65.4 742.9,64.7 743.5,66.6 744.1,66.6 744.8,64.9 745.4,66.4 746.0,66.7 746.6,66.1 747.2,66.1 747.9,64.3 748.5,66.6 749.1,66.0 749.7,66.2 750.3,64.9 751.0,64.6 751.6,64.1 752.2,66.2 752.8,65.9 753.4,63.0 754.1,65.6 754.7,65.1 755.3,65.2 755.9,65.1 756.5,64.0 757.2,62.1 757.8,66.0 758.4,65.3 759.0,65.5 759.6,63.4 760.3,66.0 760.9,64.4 761.5,64.7 762.1,64.1 762.7,64.0 763.4,63.9 764.0,65.5 764.6,66.0 765.2,66.1 765.8,65.2 766.5,63.7 767.1,65.2 767.7,65.4 768.3,65.7 768.9,64.5 769.6,65.4 770.2,65.0 770.8,64.2 771.4,65.4 772.0,62.5 772.7,65.3 773.3,66.0 773.9,64.7 774.5,64.5 775.1,65.1 775.8,63.4 776.4,65.3 777.0,64.1 777.6,64.7 778.2,65.1 778.9,65.6 779.5,64.7 780.1,60.7 780.7,64.7 781.3,64.8 782.0,64.5 782.6,64.9 783.2,64.2 783.8,65.0 784.4,64.1 785.1,64.8 785.7,65.6 786.3,64.2 786.9,63.5 787.5,63.6 788.2,65.1 788.8,65.7 789.4,64.1 790.0,64.0 790.6,65.2 791.3,64.6 791.9,63.3 792.5,61.9 793.1,63.7 793.7,65.4 794.4,63.7 795.0,65.1 795.6,62.5 796.2,64.4 796.8,64.4 797.5,65.5 798.1,64.8 798.7,64.0 799.3,63.8 799.9,65.1 800.6,64.7 801.2,64.1 801.8,64.8 802.4,63.9 803.0,62.3 803.7,64.5 804.3,62.1 804.9,63.6 805.5,64.4 806.1,63.4 806.8,63.2 807.4,65.2 808.0,64.3 808.6,63.2 809.2,63.4 809.9,64.0 810.5,65.1 811.1,64.7 811.7,64.3 812.3,62.3 813.0,62.6 813.6,64.3 814.2,64.6 814.8,63.5 815.4,62.4 816.1,62.9 816.7,64.3 817.3,64.6 817.9,63.3 818.5,64.3 819.2,62.5 819.8,64.6 820.4,64.2 821.0,62.8 821.6,64.3 822.3,65.0 822.9,64.1 823.5,62.4 824.1,63.1 824.7,64.2 825.4,64.7 826.0,64.4 826.6,64.1 826.6,69.8 826.0,67.9 825.4,68.2 824.7,69.4 824.1,69.3 823.5,68.1 822.9,69.5 822.3,69.0 821.6,69.2 821.0,68.3 820.4,68.1 819.8,69.2 819.2,70.3 818.5,70.1 817.9,71.9 817.3,72.0 816.7,70.5 816.1,68.9 815.4,69.0 814.8,72.2 814.2,70.4 813.6,68.9 813.0,70.6 812.3,69.1 811.7,69.1 811.1,68.8 810.5,68.6 809.9,68.3 809.2,68.1 808.6,68.2 808.0,68.8 807.4,68.3 806.8,69.2 806.1,69.0 805.5,69.5 804.9,68.7 804.3,70.9 803.7,69.1 803.0,68.6 802.4,68.5 801.8,69.7 801.2,69.5 800.6,69.3 799.9,71.2 799.3,70.2 798.7,71.8 798.1,69.3 797.5,70.0 796.8,69.1 796.2,68.4 795.6,69.9 795.0,70.7 794.4,68.3 793.7,68.7 793.1,71.1 792.5,69.7 791.9,68.9 791.3,69.3 790.6,68.9 790.0,68.8 789.4,69.0 788.8,70.0 788.2,69.5 787.5,69.1 786.9,69.1 786.3,69.7 785.7,68.8 785.1,70.8 784.4,69.7 783.8,70.6 783.2,71.8 782.6,68.6 782.0,69.0 781.3,70.3 780.7,69.6 780.1,70.4 779.5,69.0 778.9,68.8 778.2,70.6 777.6,70.8 777.0,70.0 776.4,69.4 775.8,70.1 775.1,69.9 774.5,69.9 773.9,71.4 773.3,69.5 772.7,70.4 772.0,70.1 771.4,70.1 770.8,72.9 770.2,69.9 769.6,68.9 768.9,70.4 768.3,69.1 767.7,70.0 767.1,69.2 766.5,69.9 765.8,69.2 765.2,70.6 764.6,71.3 764.0,72.9 763.4,70.8 762.7,71.5 762.1,70.4 761.5,70.2 760.9,70.1 760.3,70.7 759.6,69.2 759.0,70.4 758.4,70.7 757.8,70.7 757.2,70.5 756.5,70.3 755.9,69.9 755.3,71.0 754.7,70.3 754.1,71.7 753.4,69.7 752.8,69.6 752.2,71.2 751.6,72.1 751.0,70.0 750.3,71.0 749.7,71.0 749.1,71.1 748.5,70.5 747.9,70.6 747.2,71.0 746.6,70.5 746.0,71.4 745.4,69.7 744.8,69.5 744.1,70.4 743.5,69.8 742.9,69.9 742.3,69.6 741.7,72.7 741.0,70.8 740.4,71.9 739.8,71.7 739.2,71.4 738.6,70.6 737.9,72.6 737.3,69.6 736.7,71.2 736.1,70.0 735.5,70.4 734.8,70.7 734.2,69.8 733.6,69.8 733.0,71.4 732.4,71.7 731.7,70.1 731.1,70.8 730.5,71.2 729.9,70.6 729.3,72.9 728.6,71.4 728.0,70.1 727.4,70.1" fill="#0b78c0" opacity="0.8"/>
<polygon points="731.2,66 731.9,53.7 732.4,50.7 732.9,53.7 733.6,66" fill="#0b78c0"/>
<polygon points="745.5,66 746.2,49.2 746.7,46.2 747.2,49.2 747.9,66" fill="#0b78c0"/>
<polygon points="759.8,66 760.5,41.0 761.0,38.0 761.5,41.0 762.2,66" fill="#0b78c0"/>
<polygon points="774.0,66 774.7,15.4 775.2,12.4 775.7,15.4 776.4,66" fill="#0b78c0"/>
<polygon points="788.0,66 788.7,32.4 789.2,29.4 789.7,32.4 790.4,66" fill="#0b78c0"/>
<polygon points="802.2,66 802.9,37.4 803.4,34.4 803.9,37.4 804.6,66" fill="#0b78c0"/>
<polygon points="727.4,64.2 728.0,65.7 728.6,63.5 729.3,66.3 729.9,64.9 730.5,65.1 731.1,66.2 731.7,64.9 732.4,64.4 733.0,64.9 733.6,64.4 734.2,66.2 734.8,64.6 735.5,65.2 736.1,65.2 736.7,64.0 737.3,65.1 737.9,64.4 738.6,62.1 739.2,63.7 739.8,65.6 740.4,65.7 741.0,65.4 741.7,66.0 742.3,63.3 742.9,64.3 743.5,64.4 744.1,64.7 744.8,63.4 745.4,65.4 746.0,65.5 746.6,63.7 747.2,65.2 747.9,65.4 748.5,65.1 749.1,62.2 749.7,64.3 750.3,63.6 751.0,64.8 751.6,64.4 752.2,64.5 752.8,65.7 753.4,65.8 754.1,62.6 754.7,65.6 755.3,63.0 755.9,65.2 756.5,65.1 757.2,65.7 757.8,61.8 758.4,64.7 759.0,64.6 759.6,65.4 760.3,65.3 760.9,63.8 761.5,63.5 762.1,63.2 762.7,63.6 763.4,64.6 764.0,63.8 764.6,64.7 765.2,63.2 765.8,63.3 766.5,62.1 767.1,65.0 767.7,62.8 768.3,64.8 768.9,64.8 769.6,62.0 770.2,61.1 770.8,62.4 771.4,64.9 772.0,65.3 772.7,64.9 773.3,64.8 773.9,64.2 774.5,61.4 775.1,64.8 775.8,63.8 776.4,63.0 777.0,64.3 777.6,65.1 778.2,64.8 778.9,62.5 779.5,64.3 780.1,61.4 780.7,63.2 781.3,62.0 782.0,64.7 782.6,64.0 783.2,64.3 783.8,63.0 784.4,63.2 785.1,63.6 785.7,63.0 786.3,63.9 786.9,64.9 787.5,63.7 788.2,63.9 788.8,65.0 789.4,63.3 790.0,64.9 790.6,63.3 791.3,62.3 791.9,62.0 792.5,63.5 793.1,62.3 793.7,64.4 794.4,64.7 795.0,64.0 795.6,64.0 796.2,62.2 796.8,60.1 797.5,63.2 798.1,60.5 798.7,64.8 799.3,64.8 799.9,63.4 800.6,61.3 801.2,62.5 801.8,64.6 802.4,64.4 803.0,63.7 803.7,64.4 804.3,63.4 804.9,63.9 805.5,64.6 806.1,63.4 806.8,63.4 807.4,64.4 808.0,64.3 808.6,62.4 809.2,61.6 809.9,64.3 810.5,61.9 811.1,62.5 811.7,63.1 812.3,63.6 813.0,64.5 813.6,64.0 814.2,64.2 814.8,63.4 815.4,64.4 816.1,60.6 816.7,60.2 817.3,64.3 817.9,63.6 818.5,62.4 819.2,61.8 819.8,60.3 820.4,63.6 821.0,60.4 821.6,63.3 822.3,64.2 822.9,63.4 823.5,63.1 824.1,62.0 824.7,63.4 825.4,64.0 826.0,63.9 826.6,61.6 826.6,70.1 826.0,70.4 825.4,69.5 824.7,70.5 824.1,70.0 823.5,68.7 822.9,69.5 822.3,68.4 821.6,71.9 821.0,68.9 820.4,68.6 819.8,70.2 819.2,69.1 818.5,69.9 817.9,68.6 817.3,69.4 816.7,71.5 816.1,69.1 815.4,69.3 814.8,70.1 814.2,70.7 813.6,69.2 813.0,69.7 812.3,71.3 811.7,68.7 811.1,69.5 810.5,69.3 809.9,69.7 809.2,70.5 808.6,70.2 808.0,72.6 807.4,71.9 806.8,69.3 806.1,68.9 805.5,70.8 804.9,71.2 804.3,70.0 803.7,69.2 803.0,69.0 802.4,72.6 801.8,69.7 801.2,70.1 800.6,70.5 799.9,70.0 799.3,69.3 798.7,69.3 798.1,70.4 797.5,70.2 796.8,71.8 796.2,69.0 795.6,70.6 795.0,70.4 794.4,69.2 793.7,71.4 793.1,69.4 792.5,70.0 791.9,70.1 791.3,71.9 790.6,69.1 790.0,69.8 789.4,70.3 788.8,69.5 788.2,69.5 787.5,69.7 786.9,72.5 786.3,70.0 785.7,70.9 785.1,70.0 784.4,70.9 783.8,69.5 783.2,69.6 782.6,70.3 782.0,71.0 781.3,71.6 780.7,70.8 780.1,69.4 779.5,72.0 778.9,70.1 778.2,70.7 777.6,71.1 777.0,71.8 776.4,70.0 775.8,70.2 775.1,69.5 774.5,71.0 773.9,70.4 773.3,69.9 772.7,69.5 772.0,70.1 771.4,71.2 770.8,71.2 770.2,69.7 769.6,70.1 768.9,69.7 768.3,71.2 767.7,72.0 767.1,70.0 766.5,71.1 765.8,69.9 765.2,70.9 764.6,72.6 764.0,70.3 763.4,71.9 762.7,71.6 762.1,70.2 761.5,69.8 760.9,70.1 760.3,71.1 759.6,71.0 759.0,71.0 758.4,72.0 757.8,70.9 757.2,70.2 756.5,72.6 755.9,71.1 755.3,70.4 754.7,69.9 754.1,70.0 753.4,70.7 752.8,70.1 752.2,71.2 751.6,72.3 751.0,72.3 750.3,72.3 749.7,70.0 749.1,71.9 748.5,71.7 747.9,71.1 747.2,71.2 746.6,71.7 746.0,72.0 745.4,70.3 744.8,71.3 744.1,70.7 743.5,70.4 742.9,72.6 742.3,71.4 741.7,70.6 741.0,72.6 740.4,72.6 739.8,72.6 739.2,70.5 738.6,70.5 737.9,72.6 737.3,71.1 736.7,71.1 736.1,72.0 735.5,72.6 734.8,70.5 734.2,72.6 733.6,70.4 733.0,72.1 732.4,71.1 731.7,70.8 731.1,72.0 730.5,71.1 729.9,71.5 729.3,71.0 728.6,71.5 728.0,72.2 727.4,71.9" fill="#c39bea"/>
<polygon points="731.1,66 731.9,65.0 732.4,63.0 732.9,65.0 733.7,66" fill="#c9a6ee"/>
<polygon points="745.4,66 746.2,62.6 746.7,60.6 747.2,62.6 748.0,66" fill="#c9a6ee"/>
<polygon points="759.7,66 760.5,48.2 761.0,46.2 761.5,48.2 762.3,66" fill="#c9a6ee"/>
<polygon points="773.9,66 774.7,53.2 775.2,51.2 775.7,53.2 776.5,66" fill="#c9a6ee"/>
<polygon points="787.9,66 788.7,58.2 789.2,56.2 789.7,58.2 790.5,66" fill="#c9a6ee"/>
<polygon points="802.1,66 802.9,60.7 803.4,58.7 803.9,60.7 804.7,66" fill="#c9a6ee"/>
<path d="M727.4,68.0v1.4M731.1,68.1v2.0M733.0,70.1v0.9M734.8,66.5v1.9M738.6,66.0v1.3M740.4,68.1v1.7M742.3,66.3v1.2M744.1,70.0v0.9M747.9,69.2v1.7M749.7,69.4v1.9M755.3,66.0v1.7M759.0,65.6v1.2M762.7,70.2v1.7M772.0,67.9v1.0M775.8,68.7v1.2M785.1,68.2v1.0M786.9,68.3v1.9M798.1,68.8v1.2M813.0,67.8v2.0M816.7,63.9v1.4M822.3,66.4v1.4M824.1,63.6v1.4" stroke="#fff" stroke-width="0.5" opacity="0.7" fill="none"/>
<line x1="726.40" y1="7.40" x2="726.40" y2="73.70" stroke="#111" stroke-width="1.2" />
<line x1="725.80" y1="73.20" x2="827.50" y2="73.20" stroke="#111" stroke-width="1.2" />
<line x1="723.90" y1="17.90" x2="726.40" y2="17.90" stroke="#111" stroke-width="1.0" />
<text x="721.30" y="22.30" font-size="10.1" text-anchor="end" font-weight="normal" >−30</text>
<line x1="723.90" y1="34.00" x2="726.40" y2="34.00" stroke="#111" stroke-width="1.0" />
<text x="721.30" y="39.00" font-size="10.1" text-anchor="end" font-weight="normal" >−40</text>
<line x1="723.90" y1="50.10" x2="726.40" y2="50.10" stroke="#111" stroke-width="1.0" />
<text x="721.30" y="56.40" font-size="10.1" text-anchor="end" font-weight="normal" >−50</text>
<line x1="723.90" y1="66.20" x2="726.40" y2="66.20" stroke="#111" stroke-width="1.0" />
<text x="721.30" y="73.10" font-size="10.1" text-anchor="end" font-weight="normal" >−60</text>
<line x1="728.40" y1="73.20" x2="728.40" y2="76.00" stroke="#111" stroke-width="1.0" />
<line x1="756.40" y1="73.20" x2="756.40" y2="76.00" stroke="#111" stroke-width="1.0" />
<line x1="784.40" y1="73.20" x2="784.40" y2="76.00" stroke="#111" stroke-width="1.0" />
<line x1="812.40" y1="73.20" x2="812.40" y2="76.00" stroke="#111" stroke-width="1.0" />
<text x="729.80" y="85.30" font-size="10" text-anchor="middle" font-weight="normal" >386</text>
<text x="785.70" y="85.30" font-size="10" text-anchor="middle" font-weight="normal" >390</text>
<text transform="translate(693.4,41.7) rotate(-90)" font-size="9.8" text-anchor="middle">Power (dBm)</text>
<text x="739.00" y="9.20" font-size="8.8" text-anchor="start" font-weight="normal" >+22 dB</text>
<line x1="754.60" y1="12.20" x2="774.50" y2="12.20" stroke="#111" stroke-width="0.75" stroke-dasharray="1,0.9"/>
<line x1="755.20" y1="46.20" x2="761.00" y2="46.20" stroke="#111" stroke-width="0.75" stroke-dasharray="1,0.9"/>
<line x1="754.90" y1="46.40" x2="754.90" y2="19.00" stroke="#111" stroke-width="1.15" />
<polygon points="754.9,14.4 752.4,21 757.4,21" fill="#111"/>
<text x="730" y="32" font-size="10" letter-spacing="-0.5">ΔP<tspan font-size="6.5" dy="2" letter-spacing="0">DW</tspan></text>
</g>
</svg>
</body></html>
